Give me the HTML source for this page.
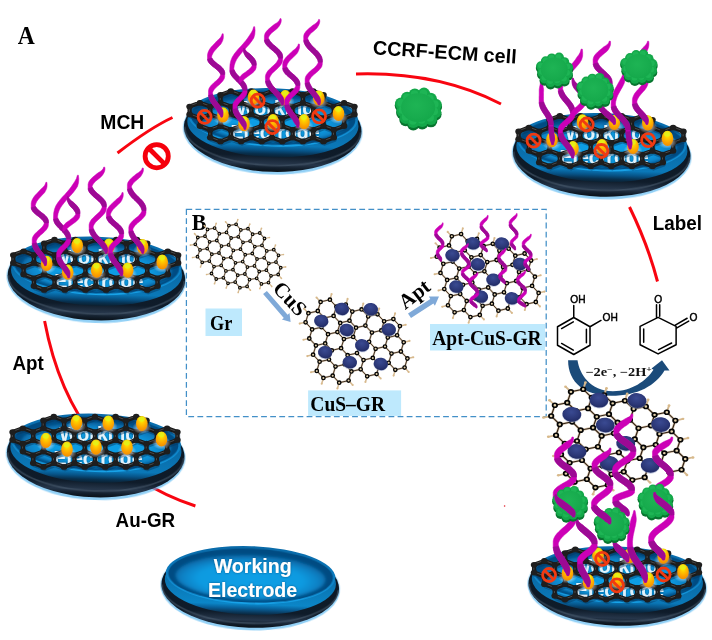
<!DOCTYPE html>
<html><head><meta charset="utf-8"><title>Figure</title>
<style>html,body{margin:0;padding:0;background:#fff}svg{display:block;will-change:transform}</style>
</head><body>
<svg width="712" height="640" viewBox="0 0 712 640">
<defs>
<radialGradient id="gTop" cx="0.5" cy="0.55" r="0.5">
  <stop offset="0" stop-color="#0d9be0"/>
  <stop offset="0.66" stop-color="#0b92d8"/>
  <stop offset="0.82" stop-color="#0a78ba"/>
  <stop offset="0.93" stop-color="#085a92"/>
  <stop offset="1" stop-color="#07487a"/>
</radialGradient>
<linearGradient id="gLip" x1="0" y1="0" x2="0" y2="1">
  <stop offset="0" stop-color="#0a6aa8"/>
  <stop offset="0.5" stop-color="#0b7cc0"/>
  <stop offset="1" stop-color="#18a4ea"/>
</linearGradient>
<radialGradient id="gFloor" cx="0.5" cy="0.55" r="0.5">
  <stop offset="0" stop-color="#0f9fe6"/>
  <stop offset="0.7" stop-color="#0d9ae0"/>
  <stop offset="0.9" stop-color="#0a82c6"/>
  <stop offset="1" stop-color="#0a70b0"/>
</radialGradient>
<filter id="fTxt" x="-10%" y="-20%" width="120%" height="140%">
  <feGaussianBlur in="SourceAlpha" stdDeviation="0.9" result="b"/>
  <feFlood flood-color="#06406c" flood-opacity="0.75"/>
  <feComposite in2="b" operator="in" result="s"/>
  <feMerge><feMergeNode in="s"/><feMergeNode in="SourceGraphic"/></feMerge>
</filter>
<linearGradient id="gTopL" x1="0" y1="0" x2="0" y2="1">
  <stop offset="0" stop-color="#084f86"/>
  <stop offset="0.2" stop-color="#0a6cae"/>
  <stop offset="0.55" stop-color="#0c8fd4"/>
  <stop offset="0.9" stop-color="#12a2ea"/>
  <stop offset="1" stop-color="#1aa8ee"/>
</linearGradient>
<linearGradient id="gWall" x1="0" y1="0" x2="0" y2="1">
  <stop offset="0" stop-color="#08588e"/>
  <stop offset="0.84" stop-color="#0b86c8"/>
  <stop offset="0.90" stop-color="#08609a"/>
  <stop offset="0.96" stop-color="#0a3a5e"/>
  <stop offset="1" stop-color="#0c2438"/>
</linearGradient>
<linearGradient id="gWall2" x1="0" y1="0" x2="0" y2="1">
  <stop offset="0" stop-color="#08588e"/>
  <stop offset="0.82" stop-color="#0a78b8"/>
  <stop offset="0.89" stop-color="#075488"/>
  <stop offset="0.95" stop-color="#08304e"/>
  <stop offset="1" stop-color="#0c2030"/>
</linearGradient>
<linearGradient id="gRim" x1="0" y1="0" x2="0" y2="1">
  <stop offset="0" stop-color="#0c1824"/>
  <stop offset="0.72" stop-color="#0f1c2a"/>
  <stop offset="0.86" stop-color="#26364a"/>
  <stop offset="0.94" stop-color="#121e2b"/>
  <stop offset="1" stop-color="#0a1118"/>
</linearGradient>
<radialGradient id="gGold" cx="0.5" cy="0.28" r="0.8">
  <stop offset="0" stop-color="#fff400"/>
  <stop offset="0.3" stop-color="#ffc800"/>
  <stop offset="0.65" stop-color="#fca000"/>
  <stop offset="1" stop-color="#ea8600"/>
</radialGradient>
<radialGradient id="gGlow" cx="0.5" cy="0.5" r="0.5">
  <stop offset="0" stop-color="#ffffff" stop-opacity="0.9"/>
  <stop offset="1" stop-color="#ffffff" stop-opacity="0"/>
</radialGradient>
<radialGradient id="gCus" cx="0.45" cy="0.35" r="0.7">
  <stop offset="0" stop-color="#3a4a92"/>
  <stop offset="0.6" stop-color="#2c3878"/>
  <stop offset="1" stop-color="#1e2860"/>
</radialGradient>
<radialGradient id="gCell" cx="0.45" cy="0.42" r="0.6">
  <stop offset="0" stop-color="#1eb454"/>
  <stop offset="0.7" stop-color="#18ac4e"/>
  <stop offset="1" stop-color="#14a84a"/>
</radialGradient>
<filter id="fBlur2" x="-20%" y="-20%" width="140%" height="140%"><feGaussianBlur stdDeviation="1.6"/></filter>
<filter id="fBlur1" x="-20%" y="-20%" width="140%" height="140%"><feGaussianBlur stdDeviation="0.7"/></filter>
</defs>
<rect width="712" height="640" fill="#fff"/>
<path d="M44.6 321 Q72 466 195.4 506" stroke="#f80510" stroke-width="3.0" fill="none" stroke-linecap="butt"/><path d="M117.5 153 Q150 128 172.5 117.5" stroke="#f80510" stroke-width="3.0" fill="none" stroke-linecap="butt"/><path d="M356 74 Q438 71.5 501 104" stroke="#f80510" stroke-width="3.0" fill="none" stroke-linecap="butt"/><path d="M629.5 207 Q648 245 657.5 281.5" stroke="#f80510" stroke-width="3.0" fill="none" stroke-linecap="butt"/><g transform="translate(250.5 578.3) rotate(1.9) scale(1 1.03)"><path d="M-84 -6 A89.8 41.800000000000004 0 1 0 84 -6 Z" fill="#58b8f2" opacity="0.65" filter="url(#fBlur1)"/><path d="M-83.4 -6 A88.8 40.2 0 1 0 83.4 -6 Z" fill="url(#gRim)"/><path d="M-88 9 A88 34.5 0 0 0 88 9" fill="none" stroke="#506274" stroke-width="1.6" opacity="0.55" filter="url(#fBlur1)"/><ellipse cx="0" cy="3.2" rx="85.6" ry="32.4" fill="url(#gWall)"/><ellipse cx="0" cy="-3" rx="84.8" ry="28.2" fill="url(#gLip)"/><ellipse cx="0" cy="-2.6" rx="82.3" ry="26.2" fill="#064c82" filter="url(#fBlur1)"/><ellipse cx="0" cy="-0.8" rx="75" ry="21.6" fill="url(#gFloor)" filter="url(#fBlur2)"/></g><g font-family="'Liberation Sans', Arial, sans-serif" font-weight="bold" font-size="19.6" fill="#fff" text-anchor="middle" opacity="1.0" filter="url(#fTxt)"><text x="252.7" y="572.5">Working</text><text x="252.6" y="596.5">Electrode</text></g><g transform="translate(96 446.0) rotate(1.9) scale(1 1.035)"><path d="M-84 -6 A89.8 43.0 0 1 0 84 -6 Z" fill="#58b8f2" opacity="0.65" filter="url(#fBlur1)"/><path d="M-83.4 -6 A88.8 41.4 0 1 0 83.4 -6 Z" fill="url(#gRim)"/><path d="M-88 9 A88 34.5 0 0 0 88 9" fill="none" stroke="#506274" stroke-width="1.6" opacity="0.55" filter="url(#fBlur1)"/><ellipse cx="0" cy="3.2" rx="85.6" ry="32.4" fill="url(#gWall2)"/><ellipse cx="0" cy="-3" rx="84.8" ry="28.2" fill="url(#gLip)"/><ellipse cx="0" cy="-2.6" rx="82.3" ry="26.2" fill="#064c82" filter="url(#fBlur1)"/><ellipse cx="0" cy="-0.8" rx="75" ry="21.6" fill="url(#gFloor)" filter="url(#fBlur2)"/></g><g font-family="'Liberation Sans', Arial, sans-serif" font-weight="bold" font-size="19.6" fill="#fff" text-anchor="middle" opacity="0.88" filter="url(#fTxt)"><text x="98.2" y="440.8">Working</text><text x="98.1" y="464.8">Electrode</text></g><g transform="translate(96 445)"><path d="M-83.4 -12.9L-83.4 -5.1M-83.4 -12.9L-73.1 -16.7M-83.4 -5.1L-73.1 -1.3M-73.1 -16.7L-62.8 -12.9M-73.1 -1.3L-73.1 6.5M-73.1 -1.3L-62.8 -5.1M-73.1 6.5L-62.8 10.3M-62.8 -12.9L-62.8 -5.1M-62.8 -12.9L-52.5 -16.7M-62.8 -5.1L-52.5 -1.3M-62.8 10.3L-62.8 18.1M-62.8 10.3L-52.5 6.5M-62.8 18.1L-52.5 21.9M-52.5 -24.5L-52.5 -16.7M-52.5 -24.5L-42.2 -28.3M-52.5 -16.7L-42.2 -12.9M-52.5 -1.3L-52.5 6.5M-52.5 -1.3L-42.2 -5.1M-52.5 6.5L-42.2 10.3M-52.5 21.9L-42.2 18.1M-42.2 -28.3L-31.9 -24.5M-42.2 -12.9L-42.2 -5.1M-42.2 -12.9L-31.9 -16.7M-42.2 -5.1L-31.9 -1.3M-42.2 10.3L-42.2 18.1M-42.2 10.3L-31.9 6.5M-42.2 18.1L-31.9 21.9M-31.9 -24.5L-31.9 -16.7M-31.9 -24.5L-21.6 -28.3M-31.9 -16.7L-21.6 -12.9M-31.9 -1.3L-31.9 6.5M-31.9 -1.3L-21.6 -5.1M-31.9 6.5L-21.6 10.3M-31.9 21.9L-21.6 18.1M-21.6 -28.3L-11.3 -24.5M-21.6 -12.9L-21.6 -5.1M-21.6 -12.9L-11.3 -16.7M-21.6 -5.1L-11.3 -1.3M-21.6 10.3L-21.6 18.1M-21.6 10.3L-11.3 6.5M-21.6 18.1L-11.3 21.9M-11.3 -24.5L-11.3 -16.7M-11.3 -24.5L-1.0 -28.3M-11.3 -16.7L-1.0 -12.9M-11.3 -1.3L-11.3 6.5M-11.3 -1.3L-1.0 -5.1M-11.3 6.5L-1.0 10.3M-11.3 21.9L-1.0 18.1M-1.0 -28.3L9.3 -24.5M-1.0 -12.9L-1.0 -5.1M-1.0 -12.9L9.3 -16.7M-1.0 -5.1L9.3 -1.3M-1.0 10.3L-1.0 18.1M-1.0 10.3L9.3 6.5M-1.0 18.1L9.3 21.9M9.3 -24.5L9.3 -16.7M9.3 -24.5L19.6 -28.3M9.3 -16.7L19.6 -12.9M9.3 -1.3L9.3 6.5M9.3 -1.3L19.6 -5.1M9.3 6.5L19.6 10.3M9.3 21.9L19.6 18.1M19.6 -28.3L29.9 -24.5M19.6 -12.9L19.6 -5.1M19.6 -12.9L29.9 -16.7M19.6 -5.1L29.9 -1.3M19.6 10.3L19.6 18.1M19.6 10.3L29.9 6.5M19.6 18.1L29.9 21.9M29.9 -24.5L29.9 -16.7M29.9 -24.5L40.2 -28.3M29.9 -16.7L40.2 -12.9M29.9 -1.3L29.9 6.5M29.9 -1.3L40.2 -5.1M29.9 6.5L40.2 10.3M29.9 21.9L40.2 18.1M40.2 -28.3L50.5 -24.5M40.2 -12.9L40.2 -5.1M40.2 -12.9L50.5 -16.7M40.2 -5.1L50.5 -1.3M40.2 10.3L40.2 18.1M40.2 10.3L50.5 6.5M40.2 18.1L50.5 21.9M50.5 -24.5L50.5 -16.7M50.5 -16.7L60.8 -12.9M50.5 -1.3L50.5 6.5M50.5 -1.3L60.8 -5.1M50.5 6.5L60.8 10.3M50.5 21.9L60.8 18.1M60.8 -12.9L60.8 -5.1M60.8 -12.9L71.1 -16.7M60.8 -5.1L71.1 -1.3M60.8 10.3L60.8 18.1M60.8 10.3L71.1 6.5M71.1 -16.7L81.4 -12.9M71.1 -1.3L71.1 6.5M71.1 -1.3L81.4 -5.1M81.4 -12.9L81.4 -5.1" stroke="#05365e" stroke-width="3.6" stroke-linecap="round" fill="none" opacity="0.45" transform="translate(1 2.4)"/><path d="M-83.4 -12.9L-83.4 -5.1M-83.4 -12.9L-73.1 -16.7M-83.4 -5.1L-73.1 -1.3M-73.1 -16.7L-62.8 -12.9M-73.1 -1.3L-73.1 6.5M-73.1 -1.3L-62.8 -5.1M-73.1 6.5L-62.8 10.3M-62.8 -12.9L-62.8 -5.1M-62.8 -12.9L-52.5 -16.7M-62.8 -5.1L-52.5 -1.3M-62.8 10.3L-62.8 18.1M-62.8 10.3L-52.5 6.5M-62.8 18.1L-52.5 21.9M-52.5 -24.5L-52.5 -16.7M-52.5 -24.5L-42.2 -28.3M-52.5 -16.7L-42.2 -12.9M-52.5 -1.3L-52.5 6.5M-52.5 -1.3L-42.2 -5.1M-52.5 6.5L-42.2 10.3M-52.5 21.9L-42.2 18.1M-42.2 -28.3L-31.9 -24.5M-42.2 -12.9L-42.2 -5.1M-42.2 -12.9L-31.9 -16.7M-42.2 -5.1L-31.9 -1.3M-42.2 10.3L-42.2 18.1M-42.2 10.3L-31.9 6.5M-42.2 18.1L-31.9 21.9M-31.9 -24.5L-31.9 -16.7M-31.9 -24.5L-21.6 -28.3M-31.9 -16.7L-21.6 -12.9M-31.9 -1.3L-31.9 6.5M-31.9 -1.3L-21.6 -5.1M-31.9 6.5L-21.6 10.3M-31.9 21.9L-21.6 18.1M-21.6 -28.3L-11.3 -24.5M-21.6 -12.9L-21.6 -5.1M-21.6 -12.9L-11.3 -16.7M-21.6 -5.1L-11.3 -1.3M-21.6 10.3L-21.6 18.1M-21.6 10.3L-11.3 6.5M-21.6 18.1L-11.3 21.9M-11.3 -24.5L-11.3 -16.7M-11.3 -24.5L-1.0 -28.3M-11.3 -16.7L-1.0 -12.9M-11.3 -1.3L-11.3 6.5M-11.3 -1.3L-1.0 -5.1M-11.3 6.5L-1.0 10.3M-11.3 21.9L-1.0 18.1M-1.0 -28.3L9.3 -24.5M-1.0 -12.9L-1.0 -5.1M-1.0 -12.9L9.3 -16.7M-1.0 -5.1L9.3 -1.3M-1.0 10.3L-1.0 18.1M-1.0 10.3L9.3 6.5M-1.0 18.1L9.3 21.9M9.3 -24.5L9.3 -16.7M9.3 -24.5L19.6 -28.3M9.3 -16.7L19.6 -12.9M9.3 -1.3L9.3 6.5M9.3 -1.3L19.6 -5.1M9.3 6.5L19.6 10.3M9.3 21.9L19.6 18.1M19.6 -28.3L29.9 -24.5M19.6 -12.9L19.6 -5.1M19.6 -12.9L29.9 -16.7M19.6 -5.1L29.9 -1.3M19.6 10.3L19.6 18.1M19.6 10.3L29.9 6.5M19.6 18.1L29.9 21.9M29.9 -24.5L29.9 -16.7M29.9 -24.5L40.2 -28.3M29.9 -16.7L40.2 -12.9M29.9 -1.3L29.9 6.5M29.9 -1.3L40.2 -5.1M29.9 6.5L40.2 10.3M29.9 21.9L40.2 18.1M40.2 -28.3L50.5 -24.5M40.2 -12.9L40.2 -5.1M40.2 -12.9L50.5 -16.7M40.2 -5.1L50.5 -1.3M40.2 10.3L40.2 18.1M40.2 10.3L50.5 6.5M40.2 18.1L50.5 21.9M50.5 -24.5L50.5 -16.7M50.5 -16.7L60.8 -12.9M50.5 -1.3L50.5 6.5M50.5 -1.3L60.8 -5.1M50.5 6.5L60.8 10.3M50.5 21.9L60.8 18.1M60.8 -12.9L60.8 -5.1M60.8 -12.9L71.1 -16.7M60.8 -5.1L71.1 -1.3M60.8 10.3L60.8 18.1M60.8 10.3L71.1 6.5M71.1 -16.7L81.4 -12.9M71.1 -1.3L71.1 6.5M71.1 -1.3L81.4 -5.1M81.4 -12.9L81.4 -5.1" stroke="#1a1a1a" stroke-width="4.3" stroke-linecap="round" fill="none"/><path d="M-83.4 -12.9L-83.4 -5.1M-83.4 -12.9L-73.1 -16.7M-83.4 -5.1L-73.1 -1.3M-73.1 -16.7L-62.8 -12.9M-73.1 -1.3L-73.1 6.5M-73.1 -1.3L-62.8 -5.1M-73.1 6.5L-62.8 10.3M-62.8 -12.9L-62.8 -5.1M-62.8 -12.9L-52.5 -16.7M-62.8 -5.1L-52.5 -1.3M-62.8 10.3L-62.8 18.1M-62.8 10.3L-52.5 6.5M-62.8 18.1L-52.5 21.9M-52.5 -24.5L-52.5 -16.7M-52.5 -24.5L-42.2 -28.3M-52.5 -16.7L-42.2 -12.9M-52.5 -1.3L-52.5 6.5M-52.5 -1.3L-42.2 -5.1M-52.5 6.5L-42.2 10.3M-52.5 21.9L-42.2 18.1M-42.2 -28.3L-31.9 -24.5M-42.2 -12.9L-42.2 -5.1M-42.2 -12.9L-31.9 -16.7M-42.2 -5.1L-31.9 -1.3M-42.2 10.3L-42.2 18.1M-42.2 10.3L-31.9 6.5M-42.2 18.1L-31.9 21.9M-31.9 -24.5L-31.9 -16.7M-31.9 -24.5L-21.6 -28.3M-31.9 -16.7L-21.6 -12.9M-31.9 -1.3L-31.9 6.5M-31.9 -1.3L-21.6 -5.1M-31.9 6.5L-21.6 10.3M-31.9 21.9L-21.6 18.1M-21.6 -28.3L-11.3 -24.5M-21.6 -12.9L-21.6 -5.1M-21.6 -12.9L-11.3 -16.7M-21.6 -5.1L-11.3 -1.3M-21.6 10.3L-21.6 18.1M-21.6 10.3L-11.3 6.5M-21.6 18.1L-11.3 21.9M-11.3 -24.5L-11.3 -16.7M-11.3 -24.5L-1.0 -28.3M-11.3 -16.7L-1.0 -12.9M-11.3 -1.3L-11.3 6.5M-11.3 -1.3L-1.0 -5.1M-11.3 6.5L-1.0 10.3M-11.3 21.9L-1.0 18.1M-1.0 -28.3L9.3 -24.5M-1.0 -12.9L-1.0 -5.1M-1.0 -12.9L9.3 -16.7M-1.0 -5.1L9.3 -1.3M-1.0 10.3L-1.0 18.1M-1.0 10.3L9.3 6.5M-1.0 18.1L9.3 21.9M9.3 -24.5L9.3 -16.7M9.3 -24.5L19.6 -28.3M9.3 -16.7L19.6 -12.9M9.3 -1.3L9.3 6.5M9.3 -1.3L19.6 -5.1M9.3 6.5L19.6 10.3M9.3 21.9L19.6 18.1M19.6 -28.3L29.9 -24.5M19.6 -12.9L19.6 -5.1M19.6 -12.9L29.9 -16.7M19.6 -5.1L29.9 -1.3M19.6 10.3L19.6 18.1M19.6 10.3L29.9 6.5M19.6 18.1L29.9 21.9M29.9 -24.5L29.9 -16.7M29.9 -24.5L40.2 -28.3M29.9 -16.7L40.2 -12.9M29.9 -1.3L29.9 6.5M29.9 -1.3L40.2 -5.1M29.9 6.5L40.2 10.3M29.9 21.9L40.2 18.1M40.2 -28.3L50.5 -24.5M40.2 -12.9L40.2 -5.1M40.2 -12.9L50.5 -16.7M40.2 -5.1L50.5 -1.3M40.2 10.3L40.2 18.1M40.2 10.3L50.5 6.5M40.2 18.1L50.5 21.9M50.5 -24.5L50.5 -16.7M50.5 -16.7L60.8 -12.9M50.5 -1.3L50.5 6.5M50.5 -1.3L60.8 -5.1M50.5 6.5L60.8 10.3M50.5 21.9L60.8 18.1M60.8 -12.9L60.8 -5.1M60.8 -12.9L71.1 -16.7M60.8 -5.1L71.1 -1.3M60.8 10.3L60.8 18.1M60.8 10.3L71.1 6.5M71.1 -16.7L81.4 -12.9M71.1 -1.3L71.1 6.5M71.1 -1.3L81.4 -5.1M81.4 -12.9L81.4 -5.1" stroke="#505050" stroke-width="0.9" stroke-linecap="round" fill="none" transform="translate(-0.3 -0.6)"/><ellipse cx="-83.4" cy="-12.9" rx="3.3" ry="2.9" fill="#1e1e1e"/><ellipse cx="-83.4" cy="-5.1" rx="3.3" ry="2.9" fill="#1e1e1e"/><ellipse cx="-73.1" cy="-16.7" rx="3.3" ry="2.9" fill="#1e1e1e"/><ellipse cx="-73.1" cy="-1.3" rx="3.3" ry="2.9" fill="#1e1e1e"/><ellipse cx="-73.1" cy="6.5" rx="3.3" ry="2.9" fill="#1e1e1e"/><ellipse cx="-62.8" cy="-12.9" rx="3.3" ry="2.9" fill="#1e1e1e"/><ellipse cx="-62.8" cy="-5.1" rx="3.3" ry="2.9" fill="#1e1e1e"/><ellipse cx="-62.8" cy="10.3" rx="3.3" ry="2.9" fill="#1e1e1e"/><ellipse cx="-62.8" cy="18.1" rx="3.3" ry="2.9" fill="#1e1e1e"/><ellipse cx="-52.5" cy="-24.5" rx="3.3" ry="2.9" fill="#1e1e1e"/><ellipse cx="-52.5" cy="-16.7" rx="3.3" ry="2.9" fill="#1e1e1e"/><ellipse cx="-52.5" cy="-1.3" rx="3.3" ry="2.9" fill="#1e1e1e"/><ellipse cx="-52.5" cy="6.5" rx="3.3" ry="2.9" fill="#1e1e1e"/><ellipse cx="-52.5" cy="21.9" rx="3.3" ry="2.9" fill="#1e1e1e"/><ellipse cx="-42.2" cy="-28.3" rx="3.3" ry="2.9" fill="#1e1e1e"/><ellipse cx="-42.2" cy="-12.9" rx="3.3" ry="2.9" fill="#1e1e1e"/><ellipse cx="-42.2" cy="-5.1" rx="3.3" ry="2.9" fill="#1e1e1e"/><ellipse cx="-42.2" cy="10.3" rx="3.3" ry="2.9" fill="#1e1e1e"/><ellipse cx="-42.2" cy="18.1" rx="3.3" ry="2.9" fill="#1e1e1e"/><ellipse cx="-31.9" cy="-24.5" rx="3.3" ry="2.9" fill="#1e1e1e"/><ellipse cx="-31.9" cy="-16.7" rx="3.3" ry="2.9" fill="#1e1e1e"/><ellipse cx="-31.9" cy="-1.3" rx="3.3" ry="2.9" fill="#1e1e1e"/><ellipse cx="-31.9" cy="6.5" rx="3.3" ry="2.9" fill="#1e1e1e"/><ellipse cx="-31.9" cy="21.9" rx="3.3" ry="2.9" fill="#1e1e1e"/><ellipse cx="-21.6" cy="-28.3" rx="3.3" ry="2.9" fill="#1e1e1e"/><ellipse cx="-21.6" cy="-12.9" rx="3.3" ry="2.9" fill="#1e1e1e"/><ellipse cx="-21.6" cy="-5.1" rx="3.3" ry="2.9" fill="#1e1e1e"/><ellipse cx="-21.6" cy="10.3" rx="3.3" ry="2.9" fill="#1e1e1e"/><ellipse cx="-21.6" cy="18.1" rx="3.3" ry="2.9" fill="#1e1e1e"/><ellipse cx="-11.3" cy="-24.5" rx="3.3" ry="2.9" fill="#1e1e1e"/><ellipse cx="-11.3" cy="-16.7" rx="3.3" ry="2.9" fill="#1e1e1e"/><ellipse cx="-11.3" cy="-1.3" rx="3.3" ry="2.9" fill="#1e1e1e"/><ellipse cx="-11.3" cy="6.5" rx="3.3" ry="2.9" fill="#1e1e1e"/><ellipse cx="-11.3" cy="21.9" rx="3.3" ry="2.9" fill="#1e1e1e"/><ellipse cx="-1.0" cy="-28.3" rx="3.3" ry="2.9" fill="#1e1e1e"/><ellipse cx="-1.0" cy="-12.9" rx="3.3" ry="2.9" fill="#1e1e1e"/><ellipse cx="-1.0" cy="-5.1" rx="3.3" ry="2.9" fill="#1e1e1e"/><ellipse cx="-1.0" cy="10.3" rx="3.3" ry="2.9" fill="#1e1e1e"/><ellipse cx="-1.0" cy="18.1" rx="3.3" ry="2.9" fill="#1e1e1e"/><ellipse cx="9.3" cy="-24.5" rx="3.3" ry="2.9" fill="#1e1e1e"/><ellipse cx="9.3" cy="-16.7" rx="3.3" ry="2.9" fill="#1e1e1e"/><ellipse cx="9.3" cy="-1.3" rx="3.3" ry="2.9" fill="#1e1e1e"/><ellipse cx="9.3" cy="6.5" rx="3.3" ry="2.9" fill="#1e1e1e"/><ellipse cx="9.3" cy="21.9" rx="3.3" ry="2.9" fill="#1e1e1e"/><ellipse cx="19.6" cy="-28.3" rx="3.3" ry="2.9" fill="#1e1e1e"/><ellipse cx="19.6" cy="-12.9" rx="3.3" ry="2.9" fill="#1e1e1e"/><ellipse cx="19.6" cy="-5.1" rx="3.3" ry="2.9" fill="#1e1e1e"/><ellipse cx="19.6" cy="10.3" rx="3.3" ry="2.9" fill="#1e1e1e"/><ellipse cx="19.6" cy="18.1" rx="3.3" ry="2.9" fill="#1e1e1e"/><ellipse cx="29.9" cy="-24.5" rx="3.3" ry="2.9" fill="#1e1e1e"/><ellipse cx="29.9" cy="-16.7" rx="3.3" ry="2.9" fill="#1e1e1e"/><ellipse cx="29.9" cy="-1.3" rx="3.3" ry="2.9" fill="#1e1e1e"/><ellipse cx="29.9" cy="6.5" rx="3.3" ry="2.9" fill="#1e1e1e"/><ellipse cx="29.9" cy="21.9" rx="3.3" ry="2.9" fill="#1e1e1e"/><ellipse cx="40.2" cy="-28.3" rx="3.3" ry="2.9" fill="#1e1e1e"/><ellipse cx="40.2" cy="-12.9" rx="3.3" ry="2.9" fill="#1e1e1e"/><ellipse cx="40.2" cy="-5.1" rx="3.3" ry="2.9" fill="#1e1e1e"/><ellipse cx="40.2" cy="10.3" rx="3.3" ry="2.9" fill="#1e1e1e"/><ellipse cx="40.2" cy="18.1" rx="3.3" ry="2.9" fill="#1e1e1e"/><ellipse cx="50.5" cy="-24.5" rx="3.3" ry="2.9" fill="#1e1e1e"/><ellipse cx="50.5" cy="-16.7" rx="3.3" ry="2.9" fill="#1e1e1e"/><ellipse cx="50.5" cy="-1.3" rx="3.3" ry="2.9" fill="#1e1e1e"/><ellipse cx="50.5" cy="6.5" rx="3.3" ry="2.9" fill="#1e1e1e"/><ellipse cx="50.5" cy="21.9" rx="3.3" ry="2.9" fill="#1e1e1e"/><ellipse cx="60.8" cy="-12.9" rx="3.3" ry="2.9" fill="#1e1e1e"/><ellipse cx="60.8" cy="-5.1" rx="3.3" ry="2.9" fill="#1e1e1e"/><ellipse cx="60.8" cy="10.3" rx="3.3" ry="2.9" fill="#1e1e1e"/><ellipse cx="60.8" cy="18.1" rx="3.3" ry="2.9" fill="#1e1e1e"/><ellipse cx="71.1" cy="-16.7" rx="3.3" ry="2.9" fill="#1e1e1e"/><ellipse cx="71.1" cy="-1.3" rx="3.3" ry="2.9" fill="#1e1e1e"/><ellipse cx="71.1" cy="6.5" rx="3.3" ry="2.9" fill="#1e1e1e"/><ellipse cx="81.4" cy="-12.9" rx="3.3" ry="2.9" fill="#1e1e1e"/><ellipse cx="81.4" cy="-5.1" rx="3.3" ry="2.9" fill="#1e1e1e"/></g><ellipse cx="76.5" cy="426.5" rx="9.5" ry="6.5" fill="url(#gGlow)"/><ellipse cx="76.5" cy="422.5" rx="5.8" ry="7.6" fill="url(#gGold)"/><ellipse cx="76.2" cy="418.1" rx="3.2" ry="2.6" fill="#e2f21a" opacity="0.85"/><ellipse cx="108.3" cy="427" rx="9.5" ry="6.5" fill="url(#gGlow)"/><ellipse cx="108.3" cy="423" rx="5.8" ry="7.6" fill="url(#gGold)"/><ellipse cx="108.0" cy="418.6" rx="3.2" ry="2.6" fill="#e2f21a" opacity="0.85"/><ellipse cx="141.8" cy="427.5" rx="9.5" ry="6.5" fill="url(#gGlow)"/><ellipse cx="141.8" cy="423.5" rx="5.8" ry="7.6" fill="url(#gGold)"/><ellipse cx="141.5" cy="419.1" rx="3.2" ry="2.6" fill="#e2f21a" opacity="0.85"/><ellipse cx="46" cy="444.4" rx="9.5" ry="6.5" fill="url(#gGlow)"/><ellipse cx="46" cy="440.4" rx="5.8" ry="7.6" fill="url(#gGold)"/><ellipse cx="45.7" cy="436.0" rx="3.2" ry="2.6" fill="#e2f21a" opacity="0.85"/><ellipse cx="67" cy="453.2" rx="9.5" ry="6.5" fill="url(#gGlow)"/><ellipse cx="67" cy="449.2" rx="5.8" ry="7.6" fill="url(#gGold)"/><ellipse cx="66.7" cy="444.8" rx="3.2" ry="2.6" fill="#e2f21a" opacity="0.85"/><ellipse cx="96" cy="451.2" rx="9.5" ry="6.5" fill="url(#gGlow)"/><ellipse cx="96" cy="447.2" rx="5.8" ry="7.6" fill="url(#gGold)"/><ellipse cx="95.7" cy="442.8" rx="3.2" ry="2.6" fill="#e2f21a" opacity="0.85"/><ellipse cx="127" cy="451.2" rx="9.5" ry="6.5" fill="url(#gGlow)"/><ellipse cx="127" cy="447.2" rx="5.8" ry="7.6" fill="url(#gGold)"/><ellipse cx="126.7" cy="442.8" rx="3.2" ry="2.6" fill="#e2f21a" opacity="0.85"/><ellipse cx="161.5" cy="443" rx="9.5" ry="6.5" fill="url(#gGlow)"/><ellipse cx="161.5" cy="439" rx="5.8" ry="7.6" fill="url(#gGold)"/><ellipse cx="161.2" cy="434.6" rx="3.2" ry="2.6" fill="#e2f21a" opacity="0.85"/><g transform="translate(96.7 269.0) rotate(1.9) scale(1 1.035)"><path d="M-84 -6 A89.8 43.0 0 1 0 84 -6 Z" fill="#58b8f2" opacity="0.65" filter="url(#fBlur1)"/><path d="M-83.4 -6 A88.8 41.4 0 1 0 83.4 -6 Z" fill="url(#gRim)"/><path d="M-88 9 A88 34.5 0 0 0 88 9" fill="none" stroke="#506274" stroke-width="1.6" opacity="0.55" filter="url(#fBlur1)"/><ellipse cx="0" cy="3.2" rx="85.6" ry="32.4" fill="url(#gWall2)"/><ellipse cx="0" cy="-3" rx="84.8" ry="28.2" fill="url(#gLip)"/><ellipse cx="0" cy="-2.6" rx="82.3" ry="26.2" fill="#064c82" filter="url(#fBlur1)"/><ellipse cx="0" cy="-0.8" rx="75" ry="21.6" fill="url(#gFloor)" filter="url(#fBlur2)"/></g><g font-family="'Liberation Sans', Arial, sans-serif" font-weight="bold" font-size="19.6" fill="#fff" text-anchor="middle" opacity="0.88" filter="url(#fTxt)"><text x="98.9" y="263.8">Working</text><text x="98.8" y="287.8">Electrode</text></g><g transform="translate(96.7 268)"><path d="M-83.4 -12.9L-83.4 -5.1M-83.4 -12.9L-73.1 -16.7M-83.4 -5.1L-73.1 -1.3M-73.1 -16.7L-62.8 -12.9M-73.1 -1.3L-73.1 6.5M-73.1 -1.3L-62.8 -5.1M-73.1 6.5L-62.8 10.3M-62.8 -12.9L-62.8 -5.1M-62.8 -12.9L-52.5 -16.7M-62.8 -5.1L-52.5 -1.3M-62.8 10.3L-62.8 18.1M-62.8 10.3L-52.5 6.5M-62.8 18.1L-52.5 21.9M-52.5 -24.5L-52.5 -16.7M-52.5 -24.5L-42.2 -28.3M-52.5 -16.7L-42.2 -12.9M-52.5 -1.3L-52.5 6.5M-52.5 -1.3L-42.2 -5.1M-52.5 6.5L-42.2 10.3M-52.5 21.9L-42.2 18.1M-42.2 -28.3L-31.9 -24.5M-42.2 -12.9L-42.2 -5.1M-42.2 -12.9L-31.9 -16.7M-42.2 -5.1L-31.9 -1.3M-42.2 10.3L-42.2 18.1M-42.2 10.3L-31.9 6.5M-42.2 18.1L-31.9 21.9M-31.9 -24.5L-31.9 -16.7M-31.9 -24.5L-21.6 -28.3M-31.9 -16.7L-21.6 -12.9M-31.9 -1.3L-31.9 6.5M-31.9 -1.3L-21.6 -5.1M-31.9 6.5L-21.6 10.3M-31.9 21.9L-21.6 18.1M-21.6 -28.3L-11.3 -24.5M-21.6 -12.9L-21.6 -5.1M-21.6 -12.9L-11.3 -16.7M-21.6 -5.1L-11.3 -1.3M-21.6 10.3L-21.6 18.1M-21.6 10.3L-11.3 6.5M-21.6 18.1L-11.3 21.9M-11.3 -24.5L-11.3 -16.7M-11.3 -24.5L-1.0 -28.3M-11.3 -16.7L-1.0 -12.9M-11.3 -1.3L-11.3 6.5M-11.3 -1.3L-1.0 -5.1M-11.3 6.5L-1.0 10.3M-11.3 21.9L-1.0 18.1M-1.0 -28.3L9.3 -24.5M-1.0 -12.9L-1.0 -5.1M-1.0 -12.9L9.3 -16.7M-1.0 -5.1L9.3 -1.3M-1.0 10.3L-1.0 18.1M-1.0 10.3L9.3 6.5M-1.0 18.1L9.3 21.9M9.3 -24.5L9.3 -16.7M9.3 -24.5L19.6 -28.3M9.3 -16.7L19.6 -12.9M9.3 -1.3L9.3 6.5M9.3 -1.3L19.6 -5.1M9.3 6.5L19.6 10.3M9.3 21.9L19.6 18.1M19.6 -28.3L29.9 -24.5M19.6 -12.9L19.6 -5.1M19.6 -12.9L29.9 -16.7M19.6 -5.1L29.9 -1.3M19.6 10.3L19.6 18.1M19.6 10.3L29.9 6.5M19.6 18.1L29.9 21.9M29.9 -24.5L29.9 -16.7M29.9 -24.5L40.2 -28.3M29.9 -16.7L40.2 -12.9M29.9 -1.3L29.9 6.5M29.9 -1.3L40.2 -5.1M29.9 6.5L40.2 10.3M29.9 21.9L40.2 18.1M40.2 -28.3L50.5 -24.5M40.2 -12.9L40.2 -5.1M40.2 -12.9L50.5 -16.7M40.2 -5.1L50.5 -1.3M40.2 10.3L40.2 18.1M40.2 10.3L50.5 6.5M40.2 18.1L50.5 21.9M50.5 -24.5L50.5 -16.7M50.5 -16.7L60.8 -12.9M50.5 -1.3L50.5 6.5M50.5 -1.3L60.8 -5.1M50.5 6.5L60.8 10.3M50.5 21.9L60.8 18.1M60.8 -12.9L60.8 -5.1M60.8 -12.9L71.1 -16.7M60.8 -5.1L71.1 -1.3M60.8 10.3L60.8 18.1M60.8 10.3L71.1 6.5M71.1 -16.7L81.4 -12.9M71.1 -1.3L71.1 6.5M71.1 -1.3L81.4 -5.1M81.4 -12.9L81.4 -5.1" stroke="#05365e" stroke-width="3.6" stroke-linecap="round" fill="none" opacity="0.45" transform="translate(1 2.4)"/><path d="M-83.4 -12.9L-83.4 -5.1M-83.4 -12.9L-73.1 -16.7M-83.4 -5.1L-73.1 -1.3M-73.1 -16.7L-62.8 -12.9M-73.1 -1.3L-73.1 6.5M-73.1 -1.3L-62.8 -5.1M-73.1 6.5L-62.8 10.3M-62.8 -12.9L-62.8 -5.1M-62.8 -12.9L-52.5 -16.7M-62.8 -5.1L-52.5 -1.3M-62.8 10.3L-62.8 18.1M-62.8 10.3L-52.5 6.5M-62.8 18.1L-52.5 21.9M-52.5 -24.5L-52.5 -16.7M-52.5 -24.5L-42.2 -28.3M-52.5 -16.7L-42.2 -12.9M-52.5 -1.3L-52.5 6.5M-52.5 -1.3L-42.2 -5.1M-52.5 6.5L-42.2 10.3M-52.5 21.9L-42.2 18.1M-42.2 -28.3L-31.9 -24.5M-42.2 -12.9L-42.2 -5.1M-42.2 -12.9L-31.9 -16.7M-42.2 -5.1L-31.9 -1.3M-42.2 10.3L-42.2 18.1M-42.2 10.3L-31.9 6.5M-42.2 18.1L-31.9 21.9M-31.9 -24.5L-31.9 -16.7M-31.9 -24.5L-21.6 -28.3M-31.9 -16.7L-21.6 -12.9M-31.9 -1.3L-31.9 6.5M-31.9 -1.3L-21.6 -5.1M-31.9 6.5L-21.6 10.3M-31.9 21.9L-21.6 18.1M-21.6 -28.3L-11.3 -24.5M-21.6 -12.9L-21.6 -5.1M-21.6 -12.9L-11.3 -16.7M-21.6 -5.1L-11.3 -1.3M-21.6 10.3L-21.6 18.1M-21.6 10.3L-11.3 6.5M-21.6 18.1L-11.3 21.9M-11.3 -24.5L-11.3 -16.7M-11.3 -24.5L-1.0 -28.3M-11.3 -16.7L-1.0 -12.9M-11.3 -1.3L-11.3 6.5M-11.3 -1.3L-1.0 -5.1M-11.3 6.5L-1.0 10.3M-11.3 21.9L-1.0 18.1M-1.0 -28.3L9.3 -24.5M-1.0 -12.9L-1.0 -5.1M-1.0 -12.9L9.3 -16.7M-1.0 -5.1L9.3 -1.3M-1.0 10.3L-1.0 18.1M-1.0 10.3L9.3 6.5M-1.0 18.1L9.3 21.9M9.3 -24.5L9.3 -16.7M9.3 -24.5L19.6 -28.3M9.3 -16.7L19.6 -12.9M9.3 -1.3L9.3 6.5M9.3 -1.3L19.6 -5.1M9.3 6.5L19.6 10.3M9.3 21.9L19.6 18.1M19.6 -28.3L29.9 -24.5M19.6 -12.9L19.6 -5.1M19.6 -12.9L29.9 -16.7M19.6 -5.1L29.9 -1.3M19.6 10.3L19.6 18.1M19.6 10.3L29.9 6.5M19.6 18.1L29.9 21.9M29.9 -24.5L29.9 -16.7M29.9 -24.5L40.2 -28.3M29.9 -16.7L40.2 -12.9M29.9 -1.3L29.9 6.5M29.9 -1.3L40.2 -5.1M29.9 6.5L40.2 10.3M29.9 21.9L40.2 18.1M40.2 -28.3L50.5 -24.5M40.2 -12.9L40.2 -5.1M40.2 -12.9L50.5 -16.7M40.2 -5.1L50.5 -1.3M40.2 10.3L40.2 18.1M40.2 10.3L50.5 6.5M40.2 18.1L50.5 21.9M50.5 -24.5L50.5 -16.7M50.5 -16.7L60.8 -12.9M50.5 -1.3L50.5 6.5M50.5 -1.3L60.8 -5.1M50.5 6.5L60.8 10.3M50.5 21.9L60.8 18.1M60.8 -12.9L60.8 -5.1M60.8 -12.9L71.1 -16.7M60.8 -5.1L71.1 -1.3M60.8 10.3L60.8 18.1M60.8 10.3L71.1 6.5M71.1 -16.7L81.4 -12.9M71.1 -1.3L71.1 6.5M71.1 -1.3L81.4 -5.1M81.4 -12.9L81.4 -5.1" stroke="#1a1a1a" stroke-width="4.3" stroke-linecap="round" fill="none"/><path d="M-83.4 -12.9L-83.4 -5.1M-83.4 -12.9L-73.1 -16.7M-83.4 -5.1L-73.1 -1.3M-73.1 -16.7L-62.8 -12.9M-73.1 -1.3L-73.1 6.5M-73.1 -1.3L-62.8 -5.1M-73.1 6.5L-62.8 10.3M-62.8 -12.9L-62.8 -5.1M-62.8 -12.9L-52.5 -16.7M-62.8 -5.1L-52.5 -1.3M-62.8 10.3L-62.8 18.1M-62.8 10.3L-52.5 6.5M-62.8 18.1L-52.5 21.9M-52.5 -24.5L-52.5 -16.7M-52.5 -24.5L-42.2 -28.3M-52.5 -16.7L-42.2 -12.9M-52.5 -1.3L-52.5 6.5M-52.5 -1.3L-42.2 -5.1M-52.5 6.5L-42.2 10.3M-52.5 21.9L-42.2 18.1M-42.2 -28.3L-31.9 -24.5M-42.2 -12.9L-42.2 -5.1M-42.2 -12.9L-31.9 -16.7M-42.2 -5.1L-31.9 -1.3M-42.2 10.3L-42.2 18.1M-42.2 10.3L-31.9 6.5M-42.2 18.1L-31.9 21.9M-31.9 -24.5L-31.9 -16.7M-31.9 -24.5L-21.6 -28.3M-31.9 -16.7L-21.6 -12.9M-31.9 -1.3L-31.9 6.5M-31.9 -1.3L-21.6 -5.1M-31.9 6.5L-21.6 10.3M-31.9 21.9L-21.6 18.1M-21.6 -28.3L-11.3 -24.5M-21.6 -12.9L-21.6 -5.1M-21.6 -12.9L-11.3 -16.7M-21.6 -5.1L-11.3 -1.3M-21.6 10.3L-21.6 18.1M-21.6 10.3L-11.3 6.5M-21.6 18.1L-11.3 21.9M-11.3 -24.5L-11.3 -16.7M-11.3 -24.5L-1.0 -28.3M-11.3 -16.7L-1.0 -12.9M-11.3 -1.3L-11.3 6.5M-11.3 -1.3L-1.0 -5.1M-11.3 6.5L-1.0 10.3M-11.3 21.9L-1.0 18.1M-1.0 -28.3L9.3 -24.5M-1.0 -12.9L-1.0 -5.1M-1.0 -12.9L9.3 -16.7M-1.0 -5.1L9.3 -1.3M-1.0 10.3L-1.0 18.1M-1.0 10.3L9.3 6.5M-1.0 18.1L9.3 21.9M9.3 -24.5L9.3 -16.7M9.3 -24.5L19.6 -28.3M9.3 -16.7L19.6 -12.9M9.3 -1.3L9.3 6.5M9.3 -1.3L19.6 -5.1M9.3 6.5L19.6 10.3M9.3 21.9L19.6 18.1M19.6 -28.3L29.9 -24.5M19.6 -12.9L19.6 -5.1M19.6 -12.9L29.9 -16.7M19.6 -5.1L29.9 -1.3M19.6 10.3L19.6 18.1M19.6 10.3L29.9 6.5M19.6 18.1L29.9 21.9M29.9 -24.5L29.9 -16.7M29.9 -24.5L40.2 -28.3M29.9 -16.7L40.2 -12.9M29.9 -1.3L29.9 6.5M29.9 -1.3L40.2 -5.1M29.9 6.5L40.2 10.3M29.9 21.9L40.2 18.1M40.2 -28.3L50.5 -24.5M40.2 -12.9L40.2 -5.1M40.2 -12.9L50.5 -16.7M40.2 -5.1L50.5 -1.3M40.2 10.3L40.2 18.1M40.2 10.3L50.5 6.5M40.2 18.1L50.5 21.9M50.5 -24.5L50.5 -16.7M50.5 -16.7L60.8 -12.9M50.5 -1.3L50.5 6.5M50.5 -1.3L60.8 -5.1M50.5 6.5L60.8 10.3M50.5 21.9L60.8 18.1M60.8 -12.9L60.8 -5.1M60.8 -12.9L71.1 -16.7M60.8 -5.1L71.1 -1.3M60.8 10.3L60.8 18.1M60.8 10.3L71.1 6.5M71.1 -16.7L81.4 -12.9M71.1 -1.3L71.1 6.5M71.1 -1.3L81.4 -5.1M81.4 -12.9L81.4 -5.1" stroke="#505050" stroke-width="0.9" stroke-linecap="round" fill="none" transform="translate(-0.3 -0.6)"/><ellipse cx="-83.4" cy="-12.9" rx="3.3" ry="2.9" fill="#1e1e1e"/><ellipse cx="-83.4" cy="-5.1" rx="3.3" ry="2.9" fill="#1e1e1e"/><ellipse cx="-73.1" cy="-16.7" rx="3.3" ry="2.9" fill="#1e1e1e"/><ellipse cx="-73.1" cy="-1.3" rx="3.3" ry="2.9" fill="#1e1e1e"/><ellipse cx="-73.1" cy="6.5" rx="3.3" ry="2.9" fill="#1e1e1e"/><ellipse cx="-62.8" cy="-12.9" rx="3.3" ry="2.9" fill="#1e1e1e"/><ellipse cx="-62.8" cy="-5.1" rx="3.3" ry="2.9" fill="#1e1e1e"/><ellipse cx="-62.8" cy="10.3" rx="3.3" ry="2.9" fill="#1e1e1e"/><ellipse cx="-62.8" cy="18.1" rx="3.3" ry="2.9" fill="#1e1e1e"/><ellipse cx="-52.5" cy="-24.5" rx="3.3" ry="2.9" fill="#1e1e1e"/><ellipse cx="-52.5" cy="-16.7" rx="3.3" ry="2.9" fill="#1e1e1e"/><ellipse cx="-52.5" cy="-1.3" rx="3.3" ry="2.9" fill="#1e1e1e"/><ellipse cx="-52.5" cy="6.5" rx="3.3" ry="2.9" fill="#1e1e1e"/><ellipse cx="-52.5" cy="21.9" rx="3.3" ry="2.9" fill="#1e1e1e"/><ellipse cx="-42.2" cy="-28.3" rx="3.3" ry="2.9" fill="#1e1e1e"/><ellipse cx="-42.2" cy="-12.9" rx="3.3" ry="2.9" fill="#1e1e1e"/><ellipse cx="-42.2" cy="-5.1" rx="3.3" ry="2.9" fill="#1e1e1e"/><ellipse cx="-42.2" cy="10.3" rx="3.3" ry="2.9" fill="#1e1e1e"/><ellipse cx="-42.2" cy="18.1" rx="3.3" ry="2.9" fill="#1e1e1e"/><ellipse cx="-31.9" cy="-24.5" rx="3.3" ry="2.9" fill="#1e1e1e"/><ellipse cx="-31.9" cy="-16.7" rx="3.3" ry="2.9" fill="#1e1e1e"/><ellipse cx="-31.9" cy="-1.3" rx="3.3" ry="2.9" fill="#1e1e1e"/><ellipse cx="-31.9" cy="6.5" rx="3.3" ry="2.9" fill="#1e1e1e"/><ellipse cx="-31.9" cy="21.9" rx="3.3" ry="2.9" fill="#1e1e1e"/><ellipse cx="-21.6" cy="-28.3" rx="3.3" ry="2.9" fill="#1e1e1e"/><ellipse cx="-21.6" cy="-12.9" rx="3.3" ry="2.9" fill="#1e1e1e"/><ellipse cx="-21.6" cy="-5.1" rx="3.3" ry="2.9" fill="#1e1e1e"/><ellipse cx="-21.6" cy="10.3" rx="3.3" ry="2.9" fill="#1e1e1e"/><ellipse cx="-21.6" cy="18.1" rx="3.3" ry="2.9" fill="#1e1e1e"/><ellipse cx="-11.3" cy="-24.5" rx="3.3" ry="2.9" fill="#1e1e1e"/><ellipse cx="-11.3" cy="-16.7" rx="3.3" ry="2.9" fill="#1e1e1e"/><ellipse cx="-11.3" cy="-1.3" rx="3.3" ry="2.9" fill="#1e1e1e"/><ellipse cx="-11.3" cy="6.5" rx="3.3" ry="2.9" fill="#1e1e1e"/><ellipse cx="-11.3" cy="21.9" rx="3.3" ry="2.9" fill="#1e1e1e"/><ellipse cx="-1.0" cy="-28.3" rx="3.3" ry="2.9" fill="#1e1e1e"/><ellipse cx="-1.0" cy="-12.9" rx="3.3" ry="2.9" fill="#1e1e1e"/><ellipse cx="-1.0" cy="-5.1" rx="3.3" ry="2.9" fill="#1e1e1e"/><ellipse cx="-1.0" cy="10.3" rx="3.3" ry="2.9" fill="#1e1e1e"/><ellipse cx="-1.0" cy="18.1" rx="3.3" ry="2.9" fill="#1e1e1e"/><ellipse cx="9.3" cy="-24.5" rx="3.3" ry="2.9" fill="#1e1e1e"/><ellipse cx="9.3" cy="-16.7" rx="3.3" ry="2.9" fill="#1e1e1e"/><ellipse cx="9.3" cy="-1.3" rx="3.3" ry="2.9" fill="#1e1e1e"/><ellipse cx="9.3" cy="6.5" rx="3.3" ry="2.9" fill="#1e1e1e"/><ellipse cx="9.3" cy="21.9" rx="3.3" ry="2.9" fill="#1e1e1e"/><ellipse cx="19.6" cy="-28.3" rx="3.3" ry="2.9" fill="#1e1e1e"/><ellipse cx="19.6" cy="-12.9" rx="3.3" ry="2.9" fill="#1e1e1e"/><ellipse cx="19.6" cy="-5.1" rx="3.3" ry="2.9" fill="#1e1e1e"/><ellipse cx="19.6" cy="10.3" rx="3.3" ry="2.9" fill="#1e1e1e"/><ellipse cx="19.6" cy="18.1" rx="3.3" ry="2.9" fill="#1e1e1e"/><ellipse cx="29.9" cy="-24.5" rx="3.3" ry="2.9" fill="#1e1e1e"/><ellipse cx="29.9" cy="-16.7" rx="3.3" ry="2.9" fill="#1e1e1e"/><ellipse cx="29.9" cy="-1.3" rx="3.3" ry="2.9" fill="#1e1e1e"/><ellipse cx="29.9" cy="6.5" rx="3.3" ry="2.9" fill="#1e1e1e"/><ellipse cx="29.9" cy="21.9" rx="3.3" ry="2.9" fill="#1e1e1e"/><ellipse cx="40.2" cy="-28.3" rx="3.3" ry="2.9" fill="#1e1e1e"/><ellipse cx="40.2" cy="-12.9" rx="3.3" ry="2.9" fill="#1e1e1e"/><ellipse cx="40.2" cy="-5.1" rx="3.3" ry="2.9" fill="#1e1e1e"/><ellipse cx="40.2" cy="10.3" rx="3.3" ry="2.9" fill="#1e1e1e"/><ellipse cx="40.2" cy="18.1" rx="3.3" ry="2.9" fill="#1e1e1e"/><ellipse cx="50.5" cy="-24.5" rx="3.3" ry="2.9" fill="#1e1e1e"/><ellipse cx="50.5" cy="-16.7" rx="3.3" ry="2.9" fill="#1e1e1e"/><ellipse cx="50.5" cy="-1.3" rx="3.3" ry="2.9" fill="#1e1e1e"/><ellipse cx="50.5" cy="6.5" rx="3.3" ry="2.9" fill="#1e1e1e"/><ellipse cx="50.5" cy="21.9" rx="3.3" ry="2.9" fill="#1e1e1e"/><ellipse cx="60.8" cy="-12.9" rx="3.3" ry="2.9" fill="#1e1e1e"/><ellipse cx="60.8" cy="-5.1" rx="3.3" ry="2.9" fill="#1e1e1e"/><ellipse cx="60.8" cy="10.3" rx="3.3" ry="2.9" fill="#1e1e1e"/><ellipse cx="60.8" cy="18.1" rx="3.3" ry="2.9" fill="#1e1e1e"/><ellipse cx="71.1" cy="-16.7" rx="3.3" ry="2.9" fill="#1e1e1e"/><ellipse cx="71.1" cy="-1.3" rx="3.3" ry="2.9" fill="#1e1e1e"/><ellipse cx="71.1" cy="6.5" rx="3.3" ry="2.9" fill="#1e1e1e"/><ellipse cx="81.4" cy="-12.9" rx="3.3" ry="2.9" fill="#1e1e1e"/><ellipse cx="81.4" cy="-5.1" rx="3.3" ry="2.9" fill="#1e1e1e"/></g><ellipse cx="77.2" cy="249.5" rx="9.5" ry="6.5" fill="url(#gGlow)"/><ellipse cx="77.2" cy="245.5" rx="5.8" ry="7.6" fill="url(#gGold)"/><ellipse cx="76.9" cy="241.1" rx="3.2" ry="2.6" fill="#e2f21a" opacity="0.85"/><ellipse cx="109.0" cy="250" rx="9.5" ry="6.5" fill="url(#gGlow)"/><ellipse cx="109.0" cy="246" rx="5.8" ry="7.6" fill="url(#gGold)"/><ellipse cx="108.7" cy="241.6" rx="3.2" ry="2.6" fill="#e2f21a" opacity="0.85"/><ellipse cx="142.5" cy="250.5" rx="9.5" ry="6.5" fill="url(#gGlow)"/><ellipse cx="142.5" cy="246.5" rx="5.8" ry="7.6" fill="url(#gGold)"/><ellipse cx="142.2" cy="242.1" rx="3.2" ry="2.6" fill="#e2f21a" opacity="0.85"/><ellipse cx="46.7" cy="267.4" rx="9.5" ry="6.5" fill="url(#gGlow)"/><ellipse cx="46.7" cy="263.4" rx="5.8" ry="7.6" fill="url(#gGold)"/><ellipse cx="46.400000000000006" cy="259.0" rx="3.2" ry="2.6" fill="#e2f21a" opacity="0.85"/><ellipse cx="67.7" cy="276.2" rx="9.5" ry="6.5" fill="url(#gGlow)"/><ellipse cx="67.7" cy="272.2" rx="5.8" ry="7.6" fill="url(#gGold)"/><ellipse cx="67.4" cy="267.8" rx="3.2" ry="2.6" fill="#e2f21a" opacity="0.85"/><ellipse cx="96.7" cy="274.2" rx="9.5" ry="6.5" fill="url(#gGlow)"/><ellipse cx="96.7" cy="270.2" rx="5.8" ry="7.6" fill="url(#gGold)"/><ellipse cx="96.4" cy="265.8" rx="3.2" ry="2.6" fill="#e2f21a" opacity="0.85"/><ellipse cx="127.7" cy="274.2" rx="9.5" ry="6.5" fill="url(#gGlow)"/><ellipse cx="127.7" cy="270.2" rx="5.8" ry="7.6" fill="url(#gGold)"/><ellipse cx="127.4" cy="265.8" rx="3.2" ry="2.6" fill="#e2f21a" opacity="0.85"/><ellipse cx="162.2" cy="266" rx="9.5" ry="6.5" fill="url(#gGlow)"/><ellipse cx="162.2" cy="262" rx="5.8" ry="7.6" fill="url(#gGold)"/><ellipse cx="161.89999999999998" cy="257.6" rx="3.2" ry="2.6" fill="#e2f21a" opacity="0.85"/><g transform="translate(273 120.5) rotate(1.9) scale(1 1.035)"><path d="M-84 -6 A89.8 43.0 0 1 0 84 -6 Z" fill="#58b8f2" opacity="0.65" filter="url(#fBlur1)"/><path d="M-83.4 -6 A88.8 41.4 0 1 0 83.4 -6 Z" fill="url(#gRim)"/><path d="M-88 9 A88 34.5 0 0 0 88 9" fill="none" stroke="#506274" stroke-width="1.6" opacity="0.55" filter="url(#fBlur1)"/><ellipse cx="0" cy="3.2" rx="85.6" ry="32.4" fill="url(#gWall2)"/><ellipse cx="0" cy="-3" rx="84.8" ry="28.2" fill="url(#gLip)"/><ellipse cx="0" cy="-2.6" rx="82.3" ry="26.2" fill="#064c82" filter="url(#fBlur1)"/><ellipse cx="0" cy="-0.8" rx="75" ry="21.6" fill="url(#gFloor)" filter="url(#fBlur2)"/></g><g font-family="'Liberation Sans', Arial, sans-serif" font-weight="bold" font-size="19.6" fill="#fff" text-anchor="middle" opacity="0.88" filter="url(#fTxt)"><text x="275.2" y="115.3">Working</text><text x="275.1" y="139.3">Electrode</text></g><g transform="translate(273 119.5)"><path d="M-83.4 -12.9L-83.4 -5.1M-83.4 -12.9L-73.1 -16.7M-83.4 -5.1L-73.1 -1.3M-73.1 -16.7L-62.8 -12.9M-73.1 -1.3L-73.1 6.5M-73.1 -1.3L-62.8 -5.1M-73.1 6.5L-62.8 10.3M-62.8 -12.9L-62.8 -5.1M-62.8 -12.9L-52.5 -16.7M-62.8 -5.1L-52.5 -1.3M-62.8 10.3L-62.8 18.1M-62.8 10.3L-52.5 6.5M-62.8 18.1L-52.5 21.9M-52.5 -24.5L-52.5 -16.7M-52.5 -24.5L-42.2 -28.3M-52.5 -16.7L-42.2 -12.9M-52.5 -1.3L-52.5 6.5M-52.5 -1.3L-42.2 -5.1M-52.5 6.5L-42.2 10.3M-52.5 21.9L-42.2 18.1M-42.2 -28.3L-31.9 -24.5M-42.2 -12.9L-42.2 -5.1M-42.2 -12.9L-31.9 -16.7M-42.2 -5.1L-31.9 -1.3M-42.2 10.3L-42.2 18.1M-42.2 10.3L-31.9 6.5M-42.2 18.1L-31.9 21.9M-31.9 -24.5L-31.9 -16.7M-31.9 -24.5L-21.6 -28.3M-31.9 -16.7L-21.6 -12.9M-31.9 -1.3L-31.9 6.5M-31.9 -1.3L-21.6 -5.1M-31.9 6.5L-21.6 10.3M-31.9 21.9L-21.6 18.1M-21.6 -28.3L-11.3 -24.5M-21.6 -12.9L-21.6 -5.1M-21.6 -12.9L-11.3 -16.7M-21.6 -5.1L-11.3 -1.3M-21.6 10.3L-21.6 18.1M-21.6 10.3L-11.3 6.5M-21.6 18.1L-11.3 21.9M-11.3 -24.5L-11.3 -16.7M-11.3 -24.5L-1.0 -28.3M-11.3 -16.7L-1.0 -12.9M-11.3 -1.3L-11.3 6.5M-11.3 -1.3L-1.0 -5.1M-11.3 6.5L-1.0 10.3M-11.3 21.9L-1.0 18.1M-1.0 -28.3L9.3 -24.5M-1.0 -12.9L-1.0 -5.1M-1.0 -12.9L9.3 -16.7M-1.0 -5.1L9.3 -1.3M-1.0 10.3L-1.0 18.1M-1.0 10.3L9.3 6.5M-1.0 18.1L9.3 21.9M9.3 -24.5L9.3 -16.7M9.3 -24.5L19.6 -28.3M9.3 -16.7L19.6 -12.9M9.3 -1.3L9.3 6.5M9.3 -1.3L19.6 -5.1M9.3 6.5L19.6 10.3M9.3 21.9L19.6 18.1M19.6 -28.3L29.9 -24.5M19.6 -12.9L19.6 -5.1M19.6 -12.9L29.9 -16.7M19.6 -5.1L29.9 -1.3M19.6 10.3L19.6 18.1M19.6 10.3L29.9 6.5M19.6 18.1L29.9 21.9M29.9 -24.5L29.9 -16.7M29.9 -24.5L40.2 -28.3M29.9 -16.7L40.2 -12.9M29.9 -1.3L29.9 6.5M29.9 -1.3L40.2 -5.1M29.9 6.5L40.2 10.3M29.9 21.9L40.2 18.1M40.2 -28.3L50.5 -24.5M40.2 -12.9L40.2 -5.1M40.2 -12.9L50.5 -16.7M40.2 -5.1L50.5 -1.3M40.2 10.3L40.2 18.1M40.2 10.3L50.5 6.5M40.2 18.1L50.5 21.9M50.5 -24.5L50.5 -16.7M50.5 -16.7L60.8 -12.9M50.5 -1.3L50.5 6.5M50.5 -1.3L60.8 -5.1M50.5 6.5L60.8 10.3M50.5 21.9L60.8 18.1M60.8 -12.9L60.8 -5.1M60.8 -12.9L71.1 -16.7M60.8 -5.1L71.1 -1.3M60.8 10.3L60.8 18.1M60.8 10.3L71.1 6.5M71.1 -16.7L81.4 -12.9M71.1 -1.3L71.1 6.5M71.1 -1.3L81.4 -5.1M81.4 -12.9L81.4 -5.1" stroke="#05365e" stroke-width="3.6" stroke-linecap="round" fill="none" opacity="0.45" transform="translate(1 2.4)"/><path d="M-83.4 -12.9L-83.4 -5.1M-83.4 -12.9L-73.1 -16.7M-83.4 -5.1L-73.1 -1.3M-73.1 -16.7L-62.8 -12.9M-73.1 -1.3L-73.1 6.5M-73.1 -1.3L-62.8 -5.1M-73.1 6.5L-62.8 10.3M-62.8 -12.9L-62.8 -5.1M-62.8 -12.9L-52.5 -16.7M-62.8 -5.1L-52.5 -1.3M-62.8 10.3L-62.8 18.1M-62.8 10.3L-52.5 6.5M-62.8 18.1L-52.5 21.9M-52.5 -24.5L-52.5 -16.7M-52.5 -24.5L-42.2 -28.3M-52.5 -16.7L-42.2 -12.9M-52.5 -1.3L-52.5 6.5M-52.5 -1.3L-42.2 -5.1M-52.5 6.5L-42.2 10.3M-52.5 21.9L-42.2 18.1M-42.2 -28.3L-31.9 -24.5M-42.2 -12.9L-42.2 -5.1M-42.2 -12.9L-31.9 -16.7M-42.2 -5.1L-31.9 -1.3M-42.2 10.3L-42.2 18.1M-42.2 10.3L-31.9 6.5M-42.2 18.1L-31.9 21.9M-31.9 -24.5L-31.9 -16.7M-31.9 -24.5L-21.6 -28.3M-31.9 -16.7L-21.6 -12.9M-31.9 -1.3L-31.9 6.5M-31.9 -1.3L-21.6 -5.1M-31.9 6.5L-21.6 10.3M-31.9 21.9L-21.6 18.1M-21.6 -28.3L-11.3 -24.5M-21.6 -12.9L-21.6 -5.1M-21.6 -12.9L-11.3 -16.7M-21.6 -5.1L-11.3 -1.3M-21.6 10.3L-21.6 18.1M-21.6 10.3L-11.3 6.5M-21.6 18.1L-11.3 21.9M-11.3 -24.5L-11.3 -16.7M-11.3 -24.5L-1.0 -28.3M-11.3 -16.7L-1.0 -12.9M-11.3 -1.3L-11.3 6.5M-11.3 -1.3L-1.0 -5.1M-11.3 6.5L-1.0 10.3M-11.3 21.9L-1.0 18.1M-1.0 -28.3L9.3 -24.5M-1.0 -12.9L-1.0 -5.1M-1.0 -12.9L9.3 -16.7M-1.0 -5.1L9.3 -1.3M-1.0 10.3L-1.0 18.1M-1.0 10.3L9.3 6.5M-1.0 18.1L9.3 21.9M9.3 -24.5L9.3 -16.7M9.3 -24.5L19.6 -28.3M9.3 -16.7L19.6 -12.9M9.3 -1.3L9.3 6.5M9.3 -1.3L19.6 -5.1M9.3 6.5L19.6 10.3M9.3 21.9L19.6 18.1M19.6 -28.3L29.9 -24.5M19.6 -12.9L19.6 -5.1M19.6 -12.9L29.9 -16.7M19.6 -5.1L29.9 -1.3M19.6 10.3L19.6 18.1M19.6 10.3L29.9 6.5M19.6 18.1L29.9 21.9M29.9 -24.5L29.9 -16.7M29.9 -24.5L40.2 -28.3M29.9 -16.7L40.2 -12.9M29.9 -1.3L29.9 6.5M29.9 -1.3L40.2 -5.1M29.9 6.5L40.2 10.3M29.9 21.9L40.2 18.1M40.2 -28.3L50.5 -24.5M40.2 -12.9L40.2 -5.1M40.2 -12.9L50.5 -16.7M40.2 -5.1L50.5 -1.3M40.2 10.3L40.2 18.1M40.2 10.3L50.5 6.5M40.2 18.1L50.5 21.9M50.5 -24.5L50.5 -16.7M50.5 -16.7L60.8 -12.9M50.5 -1.3L50.5 6.5M50.5 -1.3L60.8 -5.1M50.5 6.5L60.8 10.3M50.5 21.9L60.8 18.1M60.8 -12.9L60.8 -5.1M60.8 -12.9L71.1 -16.7M60.8 -5.1L71.1 -1.3M60.8 10.3L60.8 18.1M60.8 10.3L71.1 6.5M71.1 -16.7L81.4 -12.9M71.1 -1.3L71.1 6.5M71.1 -1.3L81.4 -5.1M81.4 -12.9L81.4 -5.1" stroke="#1a1a1a" stroke-width="4.3" stroke-linecap="round" fill="none"/><path d="M-83.4 -12.9L-83.4 -5.1M-83.4 -12.9L-73.1 -16.7M-83.4 -5.1L-73.1 -1.3M-73.1 -16.7L-62.8 -12.9M-73.1 -1.3L-73.1 6.5M-73.1 -1.3L-62.8 -5.1M-73.1 6.5L-62.8 10.3M-62.8 -12.9L-62.8 -5.1M-62.8 -12.9L-52.5 -16.7M-62.8 -5.1L-52.5 -1.3M-62.8 10.3L-62.8 18.1M-62.8 10.3L-52.5 6.5M-62.8 18.1L-52.5 21.9M-52.5 -24.5L-52.5 -16.7M-52.5 -24.5L-42.2 -28.3M-52.5 -16.7L-42.2 -12.9M-52.5 -1.3L-52.5 6.5M-52.5 -1.3L-42.2 -5.1M-52.5 6.5L-42.2 10.3M-52.5 21.9L-42.2 18.1M-42.2 -28.3L-31.9 -24.5M-42.2 -12.9L-42.2 -5.1M-42.2 -12.9L-31.9 -16.7M-42.2 -5.1L-31.9 -1.3M-42.2 10.3L-42.2 18.1M-42.2 10.3L-31.9 6.5M-42.2 18.1L-31.9 21.9M-31.9 -24.5L-31.9 -16.7M-31.9 -24.5L-21.6 -28.3M-31.9 -16.7L-21.6 -12.9M-31.9 -1.3L-31.9 6.5M-31.9 -1.3L-21.6 -5.1M-31.9 6.5L-21.6 10.3M-31.9 21.9L-21.6 18.1M-21.6 -28.3L-11.3 -24.5M-21.6 -12.9L-21.6 -5.1M-21.6 -12.9L-11.3 -16.7M-21.6 -5.1L-11.3 -1.3M-21.6 10.3L-21.6 18.1M-21.6 10.3L-11.3 6.5M-21.6 18.1L-11.3 21.9M-11.3 -24.5L-11.3 -16.7M-11.3 -24.5L-1.0 -28.3M-11.3 -16.7L-1.0 -12.9M-11.3 -1.3L-11.3 6.5M-11.3 -1.3L-1.0 -5.1M-11.3 6.5L-1.0 10.3M-11.3 21.9L-1.0 18.1M-1.0 -28.3L9.3 -24.5M-1.0 -12.9L-1.0 -5.1M-1.0 -12.9L9.3 -16.7M-1.0 -5.1L9.3 -1.3M-1.0 10.3L-1.0 18.1M-1.0 10.3L9.3 6.5M-1.0 18.1L9.3 21.9M9.3 -24.5L9.3 -16.7M9.3 -24.5L19.6 -28.3M9.3 -16.7L19.6 -12.9M9.3 -1.3L9.3 6.5M9.3 -1.3L19.6 -5.1M9.3 6.5L19.6 10.3M9.3 21.9L19.6 18.1M19.6 -28.3L29.9 -24.5M19.6 -12.9L19.6 -5.1M19.6 -12.9L29.9 -16.7M19.6 -5.1L29.9 -1.3M19.6 10.3L19.6 18.1M19.6 10.3L29.9 6.5M19.6 18.1L29.9 21.9M29.9 -24.5L29.9 -16.7M29.9 -24.5L40.2 -28.3M29.9 -16.7L40.2 -12.9M29.9 -1.3L29.9 6.5M29.9 -1.3L40.2 -5.1M29.9 6.5L40.2 10.3M29.9 21.9L40.2 18.1M40.2 -28.3L50.5 -24.5M40.2 -12.9L40.2 -5.1M40.2 -12.9L50.5 -16.7M40.2 -5.1L50.5 -1.3M40.2 10.3L40.2 18.1M40.2 10.3L50.5 6.5M40.2 18.1L50.5 21.9M50.5 -24.5L50.5 -16.7M50.5 -16.7L60.8 -12.9M50.5 -1.3L50.5 6.5M50.5 -1.3L60.8 -5.1M50.5 6.5L60.8 10.3M50.5 21.9L60.8 18.1M60.8 -12.9L60.8 -5.1M60.8 -12.9L71.1 -16.7M60.8 -5.1L71.1 -1.3M60.8 10.3L60.8 18.1M60.8 10.3L71.1 6.5M71.1 -16.7L81.4 -12.9M71.1 -1.3L71.1 6.5M71.1 -1.3L81.4 -5.1M81.4 -12.9L81.4 -5.1" stroke="#505050" stroke-width="0.9" stroke-linecap="round" fill="none" transform="translate(-0.3 -0.6)"/><ellipse cx="-83.4" cy="-12.9" rx="3.3" ry="2.9" fill="#1e1e1e"/><ellipse cx="-83.4" cy="-5.1" rx="3.3" ry="2.9" fill="#1e1e1e"/><ellipse cx="-73.1" cy="-16.7" rx="3.3" ry="2.9" fill="#1e1e1e"/><ellipse cx="-73.1" cy="-1.3" rx="3.3" ry="2.9" fill="#1e1e1e"/><ellipse cx="-73.1" cy="6.5" rx="3.3" ry="2.9" fill="#1e1e1e"/><ellipse cx="-62.8" cy="-12.9" rx="3.3" ry="2.9" fill="#1e1e1e"/><ellipse cx="-62.8" cy="-5.1" rx="3.3" ry="2.9" fill="#1e1e1e"/><ellipse cx="-62.8" cy="10.3" rx="3.3" ry="2.9" fill="#1e1e1e"/><ellipse cx="-62.8" cy="18.1" rx="3.3" ry="2.9" fill="#1e1e1e"/><ellipse cx="-52.5" cy="-24.5" rx="3.3" ry="2.9" fill="#1e1e1e"/><ellipse cx="-52.5" cy="-16.7" rx="3.3" ry="2.9" fill="#1e1e1e"/><ellipse cx="-52.5" cy="-1.3" rx="3.3" ry="2.9" fill="#1e1e1e"/><ellipse cx="-52.5" cy="6.5" rx="3.3" ry="2.9" fill="#1e1e1e"/><ellipse cx="-52.5" cy="21.9" rx="3.3" ry="2.9" fill="#1e1e1e"/><ellipse cx="-42.2" cy="-28.3" rx="3.3" ry="2.9" fill="#1e1e1e"/><ellipse cx="-42.2" cy="-12.9" rx="3.3" ry="2.9" fill="#1e1e1e"/><ellipse cx="-42.2" cy="-5.1" rx="3.3" ry="2.9" fill="#1e1e1e"/><ellipse cx="-42.2" cy="10.3" rx="3.3" ry="2.9" fill="#1e1e1e"/><ellipse cx="-42.2" cy="18.1" rx="3.3" ry="2.9" fill="#1e1e1e"/><ellipse cx="-31.9" cy="-24.5" rx="3.3" ry="2.9" fill="#1e1e1e"/><ellipse cx="-31.9" cy="-16.7" rx="3.3" ry="2.9" fill="#1e1e1e"/><ellipse cx="-31.9" cy="-1.3" rx="3.3" ry="2.9" fill="#1e1e1e"/><ellipse cx="-31.9" cy="6.5" rx="3.3" ry="2.9" fill="#1e1e1e"/><ellipse cx="-31.9" cy="21.9" rx="3.3" ry="2.9" fill="#1e1e1e"/><ellipse cx="-21.6" cy="-28.3" rx="3.3" ry="2.9" fill="#1e1e1e"/><ellipse cx="-21.6" cy="-12.9" rx="3.3" ry="2.9" fill="#1e1e1e"/><ellipse cx="-21.6" cy="-5.1" rx="3.3" ry="2.9" fill="#1e1e1e"/><ellipse cx="-21.6" cy="10.3" rx="3.3" ry="2.9" fill="#1e1e1e"/><ellipse cx="-21.6" cy="18.1" rx="3.3" ry="2.9" fill="#1e1e1e"/><ellipse cx="-11.3" cy="-24.5" rx="3.3" ry="2.9" fill="#1e1e1e"/><ellipse cx="-11.3" cy="-16.7" rx="3.3" ry="2.9" fill="#1e1e1e"/><ellipse cx="-11.3" cy="-1.3" rx="3.3" ry="2.9" fill="#1e1e1e"/><ellipse cx="-11.3" cy="6.5" rx="3.3" ry="2.9" fill="#1e1e1e"/><ellipse cx="-11.3" cy="21.9" rx="3.3" ry="2.9" fill="#1e1e1e"/><ellipse cx="-1.0" cy="-28.3" rx="3.3" ry="2.9" fill="#1e1e1e"/><ellipse cx="-1.0" cy="-12.9" rx="3.3" ry="2.9" fill="#1e1e1e"/><ellipse cx="-1.0" cy="-5.1" rx="3.3" ry="2.9" fill="#1e1e1e"/><ellipse cx="-1.0" cy="10.3" rx="3.3" ry="2.9" fill="#1e1e1e"/><ellipse cx="-1.0" cy="18.1" rx="3.3" ry="2.9" fill="#1e1e1e"/><ellipse cx="9.3" cy="-24.5" rx="3.3" ry="2.9" fill="#1e1e1e"/><ellipse cx="9.3" cy="-16.7" rx="3.3" ry="2.9" fill="#1e1e1e"/><ellipse cx="9.3" cy="-1.3" rx="3.3" ry="2.9" fill="#1e1e1e"/><ellipse cx="9.3" cy="6.5" rx="3.3" ry="2.9" fill="#1e1e1e"/><ellipse cx="9.3" cy="21.9" rx="3.3" ry="2.9" fill="#1e1e1e"/><ellipse cx="19.6" cy="-28.3" rx="3.3" ry="2.9" fill="#1e1e1e"/><ellipse cx="19.6" cy="-12.9" rx="3.3" ry="2.9" fill="#1e1e1e"/><ellipse cx="19.6" cy="-5.1" rx="3.3" ry="2.9" fill="#1e1e1e"/><ellipse cx="19.6" cy="10.3" rx="3.3" ry="2.9" fill="#1e1e1e"/><ellipse cx="19.6" cy="18.1" rx="3.3" ry="2.9" fill="#1e1e1e"/><ellipse cx="29.9" cy="-24.5" rx="3.3" ry="2.9" fill="#1e1e1e"/><ellipse cx="29.9" cy="-16.7" rx="3.3" ry="2.9" fill="#1e1e1e"/><ellipse cx="29.9" cy="-1.3" rx="3.3" ry="2.9" fill="#1e1e1e"/><ellipse cx="29.9" cy="6.5" rx="3.3" ry="2.9" fill="#1e1e1e"/><ellipse cx="29.9" cy="21.9" rx="3.3" ry="2.9" fill="#1e1e1e"/><ellipse cx="40.2" cy="-28.3" rx="3.3" ry="2.9" fill="#1e1e1e"/><ellipse cx="40.2" cy="-12.9" rx="3.3" ry="2.9" fill="#1e1e1e"/><ellipse cx="40.2" cy="-5.1" rx="3.3" ry="2.9" fill="#1e1e1e"/><ellipse cx="40.2" cy="10.3" rx="3.3" ry="2.9" fill="#1e1e1e"/><ellipse cx="40.2" cy="18.1" rx="3.3" ry="2.9" fill="#1e1e1e"/><ellipse cx="50.5" cy="-24.5" rx="3.3" ry="2.9" fill="#1e1e1e"/><ellipse cx="50.5" cy="-16.7" rx="3.3" ry="2.9" fill="#1e1e1e"/><ellipse cx="50.5" cy="-1.3" rx="3.3" ry="2.9" fill="#1e1e1e"/><ellipse cx="50.5" cy="6.5" rx="3.3" ry="2.9" fill="#1e1e1e"/><ellipse cx="50.5" cy="21.9" rx="3.3" ry="2.9" fill="#1e1e1e"/><ellipse cx="60.8" cy="-12.9" rx="3.3" ry="2.9" fill="#1e1e1e"/><ellipse cx="60.8" cy="-5.1" rx="3.3" ry="2.9" fill="#1e1e1e"/><ellipse cx="60.8" cy="10.3" rx="3.3" ry="2.9" fill="#1e1e1e"/><ellipse cx="60.8" cy="18.1" rx="3.3" ry="2.9" fill="#1e1e1e"/><ellipse cx="71.1" cy="-16.7" rx="3.3" ry="2.9" fill="#1e1e1e"/><ellipse cx="71.1" cy="-1.3" rx="3.3" ry="2.9" fill="#1e1e1e"/><ellipse cx="71.1" cy="6.5" rx="3.3" ry="2.9" fill="#1e1e1e"/><ellipse cx="81.4" cy="-12.9" rx="3.3" ry="2.9" fill="#1e1e1e"/><ellipse cx="81.4" cy="-5.1" rx="3.3" ry="2.9" fill="#1e1e1e"/></g><ellipse cx="253.5" cy="101.0" rx="9.5" ry="6.5" fill="url(#gGlow)"/><ellipse cx="253.5" cy="97.0" rx="5.8" ry="7.6" fill="url(#gGold)"/><ellipse cx="253.2" cy="92.6" rx="3.2" ry="2.6" fill="#e2f21a" opacity="0.85"/><ellipse cx="285.3" cy="101.5" rx="9.5" ry="6.5" fill="url(#gGlow)"/><ellipse cx="285.3" cy="97.5" rx="5.8" ry="7.6" fill="url(#gGold)"/><ellipse cx="285.0" cy="93.1" rx="3.2" ry="2.6" fill="#e2f21a" opacity="0.85"/><ellipse cx="318.8" cy="102.0" rx="9.5" ry="6.5" fill="url(#gGlow)"/><ellipse cx="318.8" cy="98.0" rx="5.8" ry="7.6" fill="url(#gGold)"/><ellipse cx="318.5" cy="93.6" rx="3.2" ry="2.6" fill="#e2f21a" opacity="0.85"/><ellipse cx="223" cy="118.9" rx="9.5" ry="6.5" fill="url(#gGlow)"/><ellipse cx="223" cy="114.9" rx="5.8" ry="7.6" fill="url(#gGold)"/><ellipse cx="222.7" cy="110.5" rx="3.2" ry="2.6" fill="#e2f21a" opacity="0.85"/><ellipse cx="244" cy="127.7" rx="9.5" ry="6.5" fill="url(#gGlow)"/><ellipse cx="244" cy="123.7" rx="5.8" ry="7.6" fill="url(#gGold)"/><ellipse cx="243.7" cy="119.3" rx="3.2" ry="2.6" fill="#e2f21a" opacity="0.85"/><ellipse cx="273" cy="125.7" rx="9.5" ry="6.5" fill="url(#gGlow)"/><ellipse cx="273" cy="121.7" rx="5.8" ry="7.6" fill="url(#gGold)"/><ellipse cx="272.7" cy="117.3" rx="3.2" ry="2.6" fill="#e2f21a" opacity="0.85"/><ellipse cx="304" cy="125.7" rx="9.5" ry="6.5" fill="url(#gGlow)"/><ellipse cx="304" cy="121.7" rx="5.8" ry="7.6" fill="url(#gGold)"/><ellipse cx="303.7" cy="117.3" rx="3.2" ry="2.6" fill="#e2f21a" opacity="0.85"/><ellipse cx="338.5" cy="117.5" rx="9.5" ry="6.5" fill="url(#gGlow)"/><ellipse cx="338.5" cy="113.5" rx="5.8" ry="7.6" fill="url(#gGold)"/><ellipse cx="338.2" cy="109.1" rx="3.2" ry="2.6" fill="#e2f21a" opacity="0.85"/><g transform="translate(602 145.3) rotate(1.9) scale(1 1.035)"><path d="M-84 -6 A89.8 43.0 0 1 0 84 -6 Z" fill="#58b8f2" opacity="0.65" filter="url(#fBlur1)"/><path d="M-83.4 -6 A88.8 41.4 0 1 0 83.4 -6 Z" fill="url(#gRim)"/><path d="M-88 9 A88 34.5 0 0 0 88 9" fill="none" stroke="#506274" stroke-width="1.6" opacity="0.55" filter="url(#fBlur1)"/><ellipse cx="0" cy="3.2" rx="85.6" ry="32.4" fill="url(#gWall2)"/><ellipse cx="0" cy="-3" rx="84.8" ry="28.2" fill="url(#gLip)"/><ellipse cx="0" cy="-2.6" rx="82.3" ry="26.2" fill="#064c82" filter="url(#fBlur1)"/><ellipse cx="0" cy="-0.8" rx="75" ry="21.6" fill="url(#gFloor)" filter="url(#fBlur2)"/></g><g font-family="'Liberation Sans', Arial, sans-serif" font-weight="bold" font-size="19.6" fill="#fff" text-anchor="middle" opacity="0.88" filter="url(#fTxt)"><text x="604.2" y="140.10000000000002">Working</text><text x="604.1" y="164.10000000000002">Electrode</text></g><g transform="translate(602 144.3)"><path d="M-83.4 -12.9L-83.4 -5.1M-83.4 -12.9L-73.1 -16.7M-83.4 -5.1L-73.1 -1.3M-73.1 -16.7L-62.8 -12.9M-73.1 -1.3L-73.1 6.5M-73.1 -1.3L-62.8 -5.1M-73.1 6.5L-62.8 10.3M-62.8 -12.9L-62.8 -5.1M-62.8 -12.9L-52.5 -16.7M-62.8 -5.1L-52.5 -1.3M-62.8 10.3L-62.8 18.1M-62.8 10.3L-52.5 6.5M-62.8 18.1L-52.5 21.9M-52.5 -24.5L-52.5 -16.7M-52.5 -24.5L-42.2 -28.3M-52.5 -16.7L-42.2 -12.9M-52.5 -1.3L-52.5 6.5M-52.5 -1.3L-42.2 -5.1M-52.5 6.5L-42.2 10.3M-52.5 21.9L-42.2 18.1M-42.2 -28.3L-31.9 -24.5M-42.2 -12.9L-42.2 -5.1M-42.2 -12.9L-31.9 -16.7M-42.2 -5.1L-31.9 -1.3M-42.2 10.3L-42.2 18.1M-42.2 10.3L-31.9 6.5M-42.2 18.1L-31.9 21.9M-31.9 -24.5L-31.9 -16.7M-31.9 -24.5L-21.6 -28.3M-31.9 -16.7L-21.6 -12.9M-31.9 -1.3L-31.9 6.5M-31.9 -1.3L-21.6 -5.1M-31.9 6.5L-21.6 10.3M-31.9 21.9L-21.6 18.1M-21.6 -28.3L-11.3 -24.5M-21.6 -12.9L-21.6 -5.1M-21.6 -12.9L-11.3 -16.7M-21.6 -5.1L-11.3 -1.3M-21.6 10.3L-21.6 18.1M-21.6 10.3L-11.3 6.5M-21.6 18.1L-11.3 21.9M-11.3 -24.5L-11.3 -16.7M-11.3 -24.5L-1.0 -28.3M-11.3 -16.7L-1.0 -12.9M-11.3 -1.3L-11.3 6.5M-11.3 -1.3L-1.0 -5.1M-11.3 6.5L-1.0 10.3M-11.3 21.9L-1.0 18.1M-1.0 -28.3L9.3 -24.5M-1.0 -12.9L-1.0 -5.1M-1.0 -12.9L9.3 -16.7M-1.0 -5.1L9.3 -1.3M-1.0 10.3L-1.0 18.1M-1.0 10.3L9.3 6.5M-1.0 18.1L9.3 21.9M9.3 -24.5L9.3 -16.7M9.3 -24.5L19.6 -28.3M9.3 -16.7L19.6 -12.9M9.3 -1.3L9.3 6.5M9.3 -1.3L19.6 -5.1M9.3 6.5L19.6 10.3M9.3 21.9L19.6 18.1M19.6 -28.3L29.9 -24.5M19.6 -12.9L19.6 -5.1M19.6 -12.9L29.9 -16.7M19.6 -5.1L29.9 -1.3M19.6 10.3L19.6 18.1M19.6 10.3L29.9 6.5M19.6 18.1L29.9 21.9M29.9 -24.5L29.9 -16.7M29.9 -24.5L40.2 -28.3M29.9 -16.7L40.2 -12.9M29.9 -1.3L29.9 6.5M29.9 -1.3L40.2 -5.1M29.9 6.5L40.2 10.3M29.9 21.9L40.2 18.1M40.2 -28.3L50.5 -24.5M40.2 -12.9L40.2 -5.1M40.2 -12.9L50.5 -16.7M40.2 -5.1L50.5 -1.3M40.2 10.3L40.2 18.1M40.2 10.3L50.5 6.5M40.2 18.1L50.5 21.9M50.5 -24.5L50.5 -16.7M50.5 -16.7L60.8 -12.9M50.5 -1.3L50.5 6.5M50.5 -1.3L60.8 -5.1M50.5 6.5L60.8 10.3M50.5 21.9L60.8 18.1M60.8 -12.9L60.8 -5.1M60.8 -12.9L71.1 -16.7M60.8 -5.1L71.1 -1.3M60.8 10.3L60.8 18.1M60.8 10.3L71.1 6.5M71.1 -16.7L81.4 -12.9M71.1 -1.3L71.1 6.5M71.1 -1.3L81.4 -5.1M81.4 -12.9L81.4 -5.1" stroke="#05365e" stroke-width="3.6" stroke-linecap="round" fill="none" opacity="0.45" transform="translate(1 2.4)"/><path d="M-83.4 -12.9L-83.4 -5.1M-83.4 -12.9L-73.1 -16.7M-83.4 -5.1L-73.1 -1.3M-73.1 -16.7L-62.8 -12.9M-73.1 -1.3L-73.1 6.5M-73.1 -1.3L-62.8 -5.1M-73.1 6.5L-62.8 10.3M-62.8 -12.9L-62.8 -5.1M-62.8 -12.9L-52.5 -16.7M-62.8 -5.1L-52.5 -1.3M-62.8 10.3L-62.8 18.1M-62.8 10.3L-52.5 6.5M-62.8 18.1L-52.5 21.9M-52.5 -24.5L-52.5 -16.7M-52.5 -24.5L-42.2 -28.3M-52.5 -16.7L-42.2 -12.9M-52.5 -1.3L-52.5 6.5M-52.5 -1.3L-42.2 -5.1M-52.5 6.5L-42.2 10.3M-52.5 21.9L-42.2 18.1M-42.2 -28.3L-31.9 -24.5M-42.2 -12.9L-42.2 -5.1M-42.2 -12.9L-31.9 -16.7M-42.2 -5.1L-31.9 -1.3M-42.2 10.3L-42.2 18.1M-42.2 10.3L-31.9 6.5M-42.2 18.1L-31.9 21.9M-31.9 -24.5L-31.9 -16.7M-31.9 -24.5L-21.6 -28.3M-31.9 -16.7L-21.6 -12.9M-31.9 -1.3L-31.9 6.5M-31.9 -1.3L-21.6 -5.1M-31.9 6.5L-21.6 10.3M-31.9 21.9L-21.6 18.1M-21.6 -28.3L-11.3 -24.5M-21.6 -12.9L-21.6 -5.1M-21.6 -12.9L-11.3 -16.7M-21.6 -5.1L-11.3 -1.3M-21.6 10.3L-21.6 18.1M-21.6 10.3L-11.3 6.5M-21.6 18.1L-11.3 21.9M-11.3 -24.5L-11.3 -16.7M-11.3 -24.5L-1.0 -28.3M-11.3 -16.7L-1.0 -12.9M-11.3 -1.3L-11.3 6.5M-11.3 -1.3L-1.0 -5.1M-11.3 6.5L-1.0 10.3M-11.3 21.9L-1.0 18.1M-1.0 -28.3L9.3 -24.5M-1.0 -12.9L-1.0 -5.1M-1.0 -12.9L9.3 -16.7M-1.0 -5.1L9.3 -1.3M-1.0 10.3L-1.0 18.1M-1.0 10.3L9.3 6.5M-1.0 18.1L9.3 21.9M9.3 -24.5L9.3 -16.7M9.3 -24.5L19.6 -28.3M9.3 -16.7L19.6 -12.9M9.3 -1.3L9.3 6.5M9.3 -1.3L19.6 -5.1M9.3 6.5L19.6 10.3M9.3 21.9L19.6 18.1M19.6 -28.3L29.9 -24.5M19.6 -12.9L19.6 -5.1M19.6 -12.9L29.9 -16.7M19.6 -5.1L29.9 -1.3M19.6 10.3L19.6 18.1M19.6 10.3L29.9 6.5M19.6 18.1L29.9 21.9M29.9 -24.5L29.9 -16.7M29.9 -24.5L40.2 -28.3M29.9 -16.7L40.2 -12.9M29.9 -1.3L29.9 6.5M29.9 -1.3L40.2 -5.1M29.9 6.5L40.2 10.3M29.9 21.9L40.2 18.1M40.2 -28.3L50.5 -24.5M40.2 -12.9L40.2 -5.1M40.2 -12.9L50.5 -16.7M40.2 -5.1L50.5 -1.3M40.2 10.3L40.2 18.1M40.2 10.3L50.5 6.5M40.2 18.1L50.5 21.9M50.5 -24.5L50.5 -16.7M50.5 -16.7L60.8 -12.9M50.5 -1.3L50.5 6.5M50.5 -1.3L60.8 -5.1M50.5 6.5L60.8 10.3M50.5 21.9L60.8 18.1M60.8 -12.9L60.8 -5.1M60.8 -12.9L71.1 -16.7M60.8 -5.1L71.1 -1.3M60.8 10.3L60.8 18.1M60.8 10.3L71.1 6.5M71.1 -16.7L81.4 -12.9M71.1 -1.3L71.1 6.5M71.1 -1.3L81.4 -5.1M81.4 -12.9L81.4 -5.1" stroke="#1a1a1a" stroke-width="4.3" stroke-linecap="round" fill="none"/><path d="M-83.4 -12.9L-83.4 -5.1M-83.4 -12.9L-73.1 -16.7M-83.4 -5.1L-73.1 -1.3M-73.1 -16.7L-62.8 -12.9M-73.1 -1.3L-73.1 6.5M-73.1 -1.3L-62.8 -5.1M-73.1 6.5L-62.8 10.3M-62.8 -12.9L-62.8 -5.1M-62.8 -12.9L-52.5 -16.7M-62.8 -5.1L-52.5 -1.3M-62.8 10.3L-62.8 18.1M-62.8 10.3L-52.5 6.5M-62.8 18.1L-52.5 21.9M-52.5 -24.5L-52.5 -16.7M-52.5 -24.5L-42.2 -28.3M-52.5 -16.7L-42.2 -12.9M-52.5 -1.3L-52.5 6.5M-52.5 -1.3L-42.2 -5.1M-52.5 6.5L-42.2 10.3M-52.5 21.9L-42.2 18.1M-42.2 -28.3L-31.9 -24.5M-42.2 -12.9L-42.2 -5.1M-42.2 -12.9L-31.9 -16.7M-42.2 -5.1L-31.9 -1.3M-42.2 10.3L-42.2 18.1M-42.2 10.3L-31.9 6.5M-42.2 18.1L-31.9 21.9M-31.9 -24.5L-31.9 -16.7M-31.9 -24.5L-21.6 -28.3M-31.9 -16.7L-21.6 -12.9M-31.9 -1.3L-31.9 6.5M-31.9 -1.3L-21.6 -5.1M-31.9 6.5L-21.6 10.3M-31.9 21.9L-21.6 18.1M-21.6 -28.3L-11.3 -24.5M-21.6 -12.9L-21.6 -5.1M-21.6 -12.9L-11.3 -16.7M-21.6 -5.1L-11.3 -1.3M-21.6 10.3L-21.6 18.1M-21.6 10.3L-11.3 6.5M-21.6 18.1L-11.3 21.9M-11.3 -24.5L-11.3 -16.7M-11.3 -24.5L-1.0 -28.3M-11.3 -16.7L-1.0 -12.9M-11.3 -1.3L-11.3 6.5M-11.3 -1.3L-1.0 -5.1M-11.3 6.5L-1.0 10.3M-11.3 21.9L-1.0 18.1M-1.0 -28.3L9.3 -24.5M-1.0 -12.9L-1.0 -5.1M-1.0 -12.9L9.3 -16.7M-1.0 -5.1L9.3 -1.3M-1.0 10.3L-1.0 18.1M-1.0 10.3L9.3 6.5M-1.0 18.1L9.3 21.9M9.3 -24.5L9.3 -16.7M9.3 -24.5L19.6 -28.3M9.3 -16.7L19.6 -12.9M9.3 -1.3L9.3 6.5M9.3 -1.3L19.6 -5.1M9.3 6.5L19.6 10.3M9.3 21.9L19.6 18.1M19.6 -28.3L29.9 -24.5M19.6 -12.9L19.6 -5.1M19.6 -12.9L29.9 -16.7M19.6 -5.1L29.9 -1.3M19.6 10.3L19.6 18.1M19.6 10.3L29.9 6.5M19.6 18.1L29.9 21.9M29.9 -24.5L29.9 -16.7M29.9 -24.5L40.2 -28.3M29.9 -16.7L40.2 -12.9M29.9 -1.3L29.9 6.5M29.9 -1.3L40.2 -5.1M29.9 6.5L40.2 10.3M29.9 21.9L40.2 18.1M40.2 -28.3L50.5 -24.5M40.2 -12.9L40.2 -5.1M40.2 -12.9L50.5 -16.7M40.2 -5.1L50.5 -1.3M40.2 10.3L40.2 18.1M40.2 10.3L50.5 6.5M40.2 18.1L50.5 21.9M50.5 -24.5L50.5 -16.7M50.5 -16.7L60.8 -12.9M50.5 -1.3L50.5 6.5M50.5 -1.3L60.8 -5.1M50.5 6.5L60.8 10.3M50.5 21.9L60.8 18.1M60.8 -12.9L60.8 -5.1M60.8 -12.9L71.1 -16.7M60.8 -5.1L71.1 -1.3M60.8 10.3L60.8 18.1M60.8 10.3L71.1 6.5M71.1 -16.7L81.4 -12.9M71.1 -1.3L71.1 6.5M71.1 -1.3L81.4 -5.1M81.4 -12.9L81.4 -5.1" stroke="#505050" stroke-width="0.9" stroke-linecap="round" fill="none" transform="translate(-0.3 -0.6)"/><ellipse cx="-83.4" cy="-12.9" rx="3.3" ry="2.9" fill="#1e1e1e"/><ellipse cx="-83.4" cy="-5.1" rx="3.3" ry="2.9" fill="#1e1e1e"/><ellipse cx="-73.1" cy="-16.7" rx="3.3" ry="2.9" fill="#1e1e1e"/><ellipse cx="-73.1" cy="-1.3" rx="3.3" ry="2.9" fill="#1e1e1e"/><ellipse cx="-73.1" cy="6.5" rx="3.3" ry="2.9" fill="#1e1e1e"/><ellipse cx="-62.8" cy="-12.9" rx="3.3" ry="2.9" fill="#1e1e1e"/><ellipse cx="-62.8" cy="-5.1" rx="3.3" ry="2.9" fill="#1e1e1e"/><ellipse cx="-62.8" cy="10.3" rx="3.3" ry="2.9" fill="#1e1e1e"/><ellipse cx="-62.8" cy="18.1" rx="3.3" ry="2.9" fill="#1e1e1e"/><ellipse cx="-52.5" cy="-24.5" rx="3.3" ry="2.9" fill="#1e1e1e"/><ellipse cx="-52.5" cy="-16.7" rx="3.3" ry="2.9" fill="#1e1e1e"/><ellipse cx="-52.5" cy="-1.3" rx="3.3" ry="2.9" fill="#1e1e1e"/><ellipse cx="-52.5" cy="6.5" rx="3.3" ry="2.9" fill="#1e1e1e"/><ellipse cx="-52.5" cy="21.9" rx="3.3" ry="2.9" fill="#1e1e1e"/><ellipse cx="-42.2" cy="-28.3" rx="3.3" ry="2.9" fill="#1e1e1e"/><ellipse cx="-42.2" cy="-12.9" rx="3.3" ry="2.9" fill="#1e1e1e"/><ellipse cx="-42.2" cy="-5.1" rx="3.3" ry="2.9" fill="#1e1e1e"/><ellipse cx="-42.2" cy="10.3" rx="3.3" ry="2.9" fill="#1e1e1e"/><ellipse cx="-42.2" cy="18.1" rx="3.3" ry="2.9" fill="#1e1e1e"/><ellipse cx="-31.9" cy="-24.5" rx="3.3" ry="2.9" fill="#1e1e1e"/><ellipse cx="-31.9" cy="-16.7" rx="3.3" ry="2.9" fill="#1e1e1e"/><ellipse cx="-31.9" cy="-1.3" rx="3.3" ry="2.9" fill="#1e1e1e"/><ellipse cx="-31.9" cy="6.5" rx="3.3" ry="2.9" fill="#1e1e1e"/><ellipse cx="-31.9" cy="21.9" rx="3.3" ry="2.9" fill="#1e1e1e"/><ellipse cx="-21.6" cy="-28.3" rx="3.3" ry="2.9" fill="#1e1e1e"/><ellipse cx="-21.6" cy="-12.9" rx="3.3" ry="2.9" fill="#1e1e1e"/><ellipse cx="-21.6" cy="-5.1" rx="3.3" ry="2.9" fill="#1e1e1e"/><ellipse cx="-21.6" cy="10.3" rx="3.3" ry="2.9" fill="#1e1e1e"/><ellipse cx="-21.6" cy="18.1" rx="3.3" ry="2.9" fill="#1e1e1e"/><ellipse cx="-11.3" cy="-24.5" rx="3.3" ry="2.9" fill="#1e1e1e"/><ellipse cx="-11.3" cy="-16.7" rx="3.3" ry="2.9" fill="#1e1e1e"/><ellipse cx="-11.3" cy="-1.3" rx="3.3" ry="2.9" fill="#1e1e1e"/><ellipse cx="-11.3" cy="6.5" rx="3.3" ry="2.9" fill="#1e1e1e"/><ellipse cx="-11.3" cy="21.9" rx="3.3" ry="2.9" fill="#1e1e1e"/><ellipse cx="-1.0" cy="-28.3" rx="3.3" ry="2.9" fill="#1e1e1e"/><ellipse cx="-1.0" cy="-12.9" rx="3.3" ry="2.9" fill="#1e1e1e"/><ellipse cx="-1.0" cy="-5.1" rx="3.3" ry="2.9" fill="#1e1e1e"/><ellipse cx="-1.0" cy="10.3" rx="3.3" ry="2.9" fill="#1e1e1e"/><ellipse cx="-1.0" cy="18.1" rx="3.3" ry="2.9" fill="#1e1e1e"/><ellipse cx="9.3" cy="-24.5" rx="3.3" ry="2.9" fill="#1e1e1e"/><ellipse cx="9.3" cy="-16.7" rx="3.3" ry="2.9" fill="#1e1e1e"/><ellipse cx="9.3" cy="-1.3" rx="3.3" ry="2.9" fill="#1e1e1e"/><ellipse cx="9.3" cy="6.5" rx="3.3" ry="2.9" fill="#1e1e1e"/><ellipse cx="9.3" cy="21.9" rx="3.3" ry="2.9" fill="#1e1e1e"/><ellipse cx="19.6" cy="-28.3" rx="3.3" ry="2.9" fill="#1e1e1e"/><ellipse cx="19.6" cy="-12.9" rx="3.3" ry="2.9" fill="#1e1e1e"/><ellipse cx="19.6" cy="-5.1" rx="3.3" ry="2.9" fill="#1e1e1e"/><ellipse cx="19.6" cy="10.3" rx="3.3" ry="2.9" fill="#1e1e1e"/><ellipse cx="19.6" cy="18.1" rx="3.3" ry="2.9" fill="#1e1e1e"/><ellipse cx="29.9" cy="-24.5" rx="3.3" ry="2.9" fill="#1e1e1e"/><ellipse cx="29.9" cy="-16.7" rx="3.3" ry="2.9" fill="#1e1e1e"/><ellipse cx="29.9" cy="-1.3" rx="3.3" ry="2.9" fill="#1e1e1e"/><ellipse cx="29.9" cy="6.5" rx="3.3" ry="2.9" fill="#1e1e1e"/><ellipse cx="29.9" cy="21.9" rx="3.3" ry="2.9" fill="#1e1e1e"/><ellipse cx="40.2" cy="-28.3" rx="3.3" ry="2.9" fill="#1e1e1e"/><ellipse cx="40.2" cy="-12.9" rx="3.3" ry="2.9" fill="#1e1e1e"/><ellipse cx="40.2" cy="-5.1" rx="3.3" ry="2.9" fill="#1e1e1e"/><ellipse cx="40.2" cy="10.3" rx="3.3" ry="2.9" fill="#1e1e1e"/><ellipse cx="40.2" cy="18.1" rx="3.3" ry="2.9" fill="#1e1e1e"/><ellipse cx="50.5" cy="-24.5" rx="3.3" ry="2.9" fill="#1e1e1e"/><ellipse cx="50.5" cy="-16.7" rx="3.3" ry="2.9" fill="#1e1e1e"/><ellipse cx="50.5" cy="-1.3" rx="3.3" ry="2.9" fill="#1e1e1e"/><ellipse cx="50.5" cy="6.5" rx="3.3" ry="2.9" fill="#1e1e1e"/><ellipse cx="50.5" cy="21.9" rx="3.3" ry="2.9" fill="#1e1e1e"/><ellipse cx="60.8" cy="-12.9" rx="3.3" ry="2.9" fill="#1e1e1e"/><ellipse cx="60.8" cy="-5.1" rx="3.3" ry="2.9" fill="#1e1e1e"/><ellipse cx="60.8" cy="10.3" rx="3.3" ry="2.9" fill="#1e1e1e"/><ellipse cx="60.8" cy="18.1" rx="3.3" ry="2.9" fill="#1e1e1e"/><ellipse cx="71.1" cy="-16.7" rx="3.3" ry="2.9" fill="#1e1e1e"/><ellipse cx="71.1" cy="-1.3" rx="3.3" ry="2.9" fill="#1e1e1e"/><ellipse cx="71.1" cy="6.5" rx="3.3" ry="2.9" fill="#1e1e1e"/><ellipse cx="81.4" cy="-12.9" rx="3.3" ry="2.9" fill="#1e1e1e"/><ellipse cx="81.4" cy="-5.1" rx="3.3" ry="2.9" fill="#1e1e1e"/></g><ellipse cx="582.5" cy="125.80000000000001" rx="9.5" ry="6.5" fill="url(#gGlow)"/><ellipse cx="582.5" cy="121.80000000000001" rx="5.8" ry="7.6" fill="url(#gGold)"/><ellipse cx="582.2" cy="117.4" rx="3.2" ry="2.6" fill="#e2f21a" opacity="0.85"/><ellipse cx="614.3" cy="126.30000000000001" rx="9.5" ry="6.5" fill="url(#gGlow)"/><ellipse cx="614.3" cy="122.30000000000001" rx="5.8" ry="7.6" fill="url(#gGold)"/><ellipse cx="614.0" cy="117.9" rx="3.2" ry="2.6" fill="#e2f21a" opacity="0.85"/><ellipse cx="647.8" cy="126.80000000000001" rx="9.5" ry="6.5" fill="url(#gGlow)"/><ellipse cx="647.8" cy="122.80000000000001" rx="5.8" ry="7.6" fill="url(#gGold)"/><ellipse cx="647.5" cy="118.4" rx="3.2" ry="2.6" fill="#e2f21a" opacity="0.85"/><ellipse cx="552" cy="143.70000000000002" rx="9.5" ry="6.5" fill="url(#gGlow)"/><ellipse cx="552" cy="139.70000000000002" rx="5.8" ry="7.6" fill="url(#gGold)"/><ellipse cx="551.7" cy="135.3" rx="3.2" ry="2.6" fill="#e2f21a" opacity="0.85"/><ellipse cx="573" cy="152.5" rx="9.5" ry="6.5" fill="url(#gGlow)"/><ellipse cx="573" cy="148.5" rx="5.8" ry="7.6" fill="url(#gGold)"/><ellipse cx="572.7" cy="144.1" rx="3.2" ry="2.6" fill="#e2f21a" opacity="0.85"/><ellipse cx="602" cy="150.5" rx="9.5" ry="6.5" fill="url(#gGlow)"/><ellipse cx="602" cy="146.5" rx="5.8" ry="7.6" fill="url(#gGold)"/><ellipse cx="601.7" cy="142.1" rx="3.2" ry="2.6" fill="#e2f21a" opacity="0.85"/><ellipse cx="633" cy="150.5" rx="9.5" ry="6.5" fill="url(#gGlow)"/><ellipse cx="633" cy="146.5" rx="5.8" ry="7.6" fill="url(#gGold)"/><ellipse cx="632.7" cy="142.1" rx="3.2" ry="2.6" fill="#e2f21a" opacity="0.85"/><ellipse cx="667.5" cy="142.3" rx="9.5" ry="6.5" fill="url(#gGlow)"/><ellipse cx="667.5" cy="138.3" rx="5.8" ry="7.6" fill="url(#gGold)"/><ellipse cx="667.2" cy="133.9" rx="3.2" ry="2.6" fill="#e2f21a" opacity="0.85"/><g transform="translate(617.5 577.7) rotate(1.9) scale(1 1.0)"><path d="M-84 -6 A89.8 41.800000000000004 0 1 0 84 -6 Z" fill="#58b8f2" opacity="0.65" filter="url(#fBlur1)"/><path d="M-83.4 -6 A88.8 40.2 0 1 0 83.4 -6 Z" fill="url(#gRim)"/><path d="M-88 9 A88 34.5 0 0 0 88 9" fill="none" stroke="#506274" stroke-width="1.6" opacity="0.55" filter="url(#fBlur1)"/><ellipse cx="0" cy="3.2" rx="85.6" ry="32.4" fill="url(#gWall2)"/><ellipse cx="0" cy="-3" rx="84.8" ry="28.2" fill="url(#gLip)"/><ellipse cx="0" cy="-2.6" rx="82.3" ry="26.2" fill="#064c82" filter="url(#fBlur1)"/><ellipse cx="0" cy="-0.8" rx="75" ry="21.6" fill="url(#gFloor)" filter="url(#fBlur2)"/></g><g font-family="'Liberation Sans', Arial, sans-serif" font-weight="bold" font-size="19.6" fill="#fff" text-anchor="middle" opacity="0.88" filter="url(#fTxt)"><text x="619.7" y="573.2">Working</text><text x="619.6" y="597.2">Electrode</text></g><g transform="translate(617.5 577.7)"><path d="M-83.4 -12.9L-83.4 -5.1M-83.4 -12.9L-73.1 -16.7M-83.4 -5.1L-73.1 -1.3M-73.1 -16.7L-62.8 -12.9M-73.1 -1.3L-73.1 6.5M-73.1 -1.3L-62.8 -5.1M-73.1 6.5L-62.8 10.3M-62.8 -12.9L-62.8 -5.1M-62.8 -12.9L-52.5 -16.7M-62.8 -5.1L-52.5 -1.3M-62.8 10.3L-62.8 18.1M-62.8 10.3L-52.5 6.5M-62.8 18.1L-52.5 21.9M-52.5 -24.5L-52.5 -16.7M-52.5 -24.5L-42.2 -28.3M-52.5 -16.7L-42.2 -12.9M-52.5 -1.3L-52.5 6.5M-52.5 -1.3L-42.2 -5.1M-52.5 6.5L-42.2 10.3M-52.5 21.9L-42.2 18.1M-42.2 -28.3L-31.9 -24.5M-42.2 -12.9L-42.2 -5.1M-42.2 -12.9L-31.9 -16.7M-42.2 -5.1L-31.9 -1.3M-42.2 10.3L-42.2 18.1M-42.2 10.3L-31.9 6.5M-42.2 18.1L-31.9 21.9M-31.9 -24.5L-31.9 -16.7M-31.9 -24.5L-21.6 -28.3M-31.9 -16.7L-21.6 -12.9M-31.9 -1.3L-31.9 6.5M-31.9 -1.3L-21.6 -5.1M-31.9 6.5L-21.6 10.3M-31.9 21.9L-21.6 18.1M-21.6 -28.3L-11.3 -24.5M-21.6 -12.9L-21.6 -5.1M-21.6 -12.9L-11.3 -16.7M-21.6 -5.1L-11.3 -1.3M-21.6 10.3L-21.6 18.1M-21.6 10.3L-11.3 6.5M-21.6 18.1L-11.3 21.9M-11.3 -24.5L-11.3 -16.7M-11.3 -24.5L-1.0 -28.3M-11.3 -16.7L-1.0 -12.9M-11.3 -1.3L-11.3 6.5M-11.3 -1.3L-1.0 -5.1M-11.3 6.5L-1.0 10.3M-11.3 21.9L-1.0 18.1M-1.0 -28.3L9.3 -24.5M-1.0 -12.9L-1.0 -5.1M-1.0 -12.9L9.3 -16.7M-1.0 -5.1L9.3 -1.3M-1.0 10.3L-1.0 18.1M-1.0 10.3L9.3 6.5M-1.0 18.1L9.3 21.9M9.3 -24.5L9.3 -16.7M9.3 -24.5L19.6 -28.3M9.3 -16.7L19.6 -12.9M9.3 -1.3L9.3 6.5M9.3 -1.3L19.6 -5.1M9.3 6.5L19.6 10.3M9.3 21.9L19.6 18.1M19.6 -28.3L29.9 -24.5M19.6 -12.9L19.6 -5.1M19.6 -12.9L29.9 -16.7M19.6 -5.1L29.9 -1.3M19.6 10.3L19.6 18.1M19.6 10.3L29.9 6.5M19.6 18.1L29.9 21.9M29.9 -24.5L29.9 -16.7M29.9 -24.5L40.2 -28.3M29.9 -16.7L40.2 -12.9M29.9 -1.3L29.9 6.5M29.9 -1.3L40.2 -5.1M29.9 6.5L40.2 10.3M29.9 21.9L40.2 18.1M40.2 -28.3L50.5 -24.5M40.2 -12.9L40.2 -5.1M40.2 -12.9L50.5 -16.7M40.2 -5.1L50.5 -1.3M40.2 10.3L40.2 18.1M40.2 10.3L50.5 6.5M40.2 18.1L50.5 21.9M50.5 -24.5L50.5 -16.7M50.5 -16.7L60.8 -12.9M50.5 -1.3L50.5 6.5M50.5 -1.3L60.8 -5.1M50.5 6.5L60.8 10.3M50.5 21.9L60.8 18.1M60.8 -12.9L60.8 -5.1M60.8 -12.9L71.1 -16.7M60.8 -5.1L71.1 -1.3M60.8 10.3L60.8 18.1M60.8 10.3L71.1 6.5M71.1 -16.7L81.4 -12.9M71.1 -1.3L71.1 6.5M71.1 -1.3L81.4 -5.1M81.4 -12.9L81.4 -5.1" stroke="#05365e" stroke-width="3.6" stroke-linecap="round" fill="none" opacity="0.45" transform="translate(1 2.4)"/><path d="M-83.4 -12.9L-83.4 -5.1M-83.4 -12.9L-73.1 -16.7M-83.4 -5.1L-73.1 -1.3M-73.1 -16.7L-62.8 -12.9M-73.1 -1.3L-73.1 6.5M-73.1 -1.3L-62.8 -5.1M-73.1 6.5L-62.8 10.3M-62.8 -12.9L-62.8 -5.1M-62.8 -12.9L-52.5 -16.7M-62.8 -5.1L-52.5 -1.3M-62.8 10.3L-62.8 18.1M-62.8 10.3L-52.5 6.5M-62.8 18.1L-52.5 21.9M-52.5 -24.5L-52.5 -16.7M-52.5 -24.5L-42.2 -28.3M-52.5 -16.7L-42.2 -12.9M-52.5 -1.3L-52.5 6.5M-52.5 -1.3L-42.2 -5.1M-52.5 6.5L-42.2 10.3M-52.5 21.9L-42.2 18.1M-42.2 -28.3L-31.9 -24.5M-42.2 -12.9L-42.2 -5.1M-42.2 -12.9L-31.9 -16.7M-42.2 -5.1L-31.9 -1.3M-42.2 10.3L-42.2 18.1M-42.2 10.3L-31.9 6.5M-42.2 18.1L-31.9 21.9M-31.9 -24.5L-31.9 -16.7M-31.9 -24.5L-21.6 -28.3M-31.9 -16.7L-21.6 -12.9M-31.9 -1.3L-31.9 6.5M-31.9 -1.3L-21.6 -5.1M-31.9 6.5L-21.6 10.3M-31.9 21.9L-21.6 18.1M-21.6 -28.3L-11.3 -24.5M-21.6 -12.9L-21.6 -5.1M-21.6 -12.9L-11.3 -16.7M-21.6 -5.1L-11.3 -1.3M-21.6 10.3L-21.6 18.1M-21.6 10.3L-11.3 6.5M-21.6 18.1L-11.3 21.9M-11.3 -24.5L-11.3 -16.7M-11.3 -24.5L-1.0 -28.3M-11.3 -16.7L-1.0 -12.9M-11.3 -1.3L-11.3 6.5M-11.3 -1.3L-1.0 -5.1M-11.3 6.5L-1.0 10.3M-11.3 21.9L-1.0 18.1M-1.0 -28.3L9.3 -24.5M-1.0 -12.9L-1.0 -5.1M-1.0 -12.9L9.3 -16.7M-1.0 -5.1L9.3 -1.3M-1.0 10.3L-1.0 18.1M-1.0 10.3L9.3 6.5M-1.0 18.1L9.3 21.9M9.3 -24.5L9.3 -16.7M9.3 -24.5L19.6 -28.3M9.3 -16.7L19.6 -12.9M9.3 -1.3L9.3 6.5M9.3 -1.3L19.6 -5.1M9.3 6.5L19.6 10.3M9.3 21.9L19.6 18.1M19.6 -28.3L29.9 -24.5M19.6 -12.9L19.6 -5.1M19.6 -12.9L29.9 -16.7M19.6 -5.1L29.9 -1.3M19.6 10.3L19.6 18.1M19.6 10.3L29.9 6.5M19.6 18.1L29.9 21.9M29.9 -24.5L29.9 -16.7M29.9 -24.5L40.2 -28.3M29.9 -16.7L40.2 -12.9M29.9 -1.3L29.9 6.5M29.9 -1.3L40.2 -5.1M29.9 6.5L40.2 10.3M29.9 21.9L40.2 18.1M40.2 -28.3L50.5 -24.5M40.2 -12.9L40.2 -5.1M40.2 -12.9L50.5 -16.7M40.2 -5.1L50.5 -1.3M40.2 10.3L40.2 18.1M40.2 10.3L50.5 6.5M40.2 18.1L50.5 21.9M50.5 -24.5L50.5 -16.7M50.5 -16.7L60.8 -12.9M50.5 -1.3L50.5 6.5M50.5 -1.3L60.8 -5.1M50.5 6.5L60.8 10.3M50.5 21.9L60.8 18.1M60.8 -12.9L60.8 -5.1M60.8 -12.9L71.1 -16.7M60.8 -5.1L71.1 -1.3M60.8 10.3L60.8 18.1M60.8 10.3L71.1 6.5M71.1 -16.7L81.4 -12.9M71.1 -1.3L71.1 6.5M71.1 -1.3L81.4 -5.1M81.4 -12.9L81.4 -5.1" stroke="#1a1a1a" stroke-width="4.3" stroke-linecap="round" fill="none"/><path d="M-83.4 -12.9L-83.4 -5.1M-83.4 -12.9L-73.1 -16.7M-83.4 -5.1L-73.1 -1.3M-73.1 -16.7L-62.8 -12.9M-73.1 -1.3L-73.1 6.5M-73.1 -1.3L-62.8 -5.1M-73.1 6.5L-62.8 10.3M-62.8 -12.9L-62.8 -5.1M-62.8 -12.9L-52.5 -16.7M-62.8 -5.1L-52.5 -1.3M-62.8 10.3L-62.8 18.1M-62.8 10.3L-52.5 6.5M-62.8 18.1L-52.5 21.9M-52.5 -24.5L-52.5 -16.7M-52.5 -24.5L-42.2 -28.3M-52.5 -16.7L-42.2 -12.9M-52.5 -1.3L-52.5 6.5M-52.5 -1.3L-42.2 -5.1M-52.5 6.5L-42.2 10.3M-52.5 21.9L-42.2 18.1M-42.2 -28.3L-31.9 -24.5M-42.2 -12.9L-42.2 -5.1M-42.2 -12.9L-31.9 -16.7M-42.2 -5.1L-31.9 -1.3M-42.2 10.3L-42.2 18.1M-42.2 10.3L-31.9 6.5M-42.2 18.1L-31.9 21.9M-31.9 -24.5L-31.9 -16.7M-31.9 -24.5L-21.6 -28.3M-31.9 -16.7L-21.6 -12.9M-31.9 -1.3L-31.9 6.5M-31.9 -1.3L-21.6 -5.1M-31.9 6.5L-21.6 10.3M-31.9 21.9L-21.6 18.1M-21.6 -28.3L-11.3 -24.5M-21.6 -12.9L-21.6 -5.1M-21.6 -12.9L-11.3 -16.7M-21.6 -5.1L-11.3 -1.3M-21.6 10.3L-21.6 18.1M-21.6 10.3L-11.3 6.5M-21.6 18.1L-11.3 21.9M-11.3 -24.5L-11.3 -16.7M-11.3 -24.5L-1.0 -28.3M-11.3 -16.7L-1.0 -12.9M-11.3 -1.3L-11.3 6.5M-11.3 -1.3L-1.0 -5.1M-11.3 6.5L-1.0 10.3M-11.3 21.9L-1.0 18.1M-1.0 -28.3L9.3 -24.5M-1.0 -12.9L-1.0 -5.1M-1.0 -12.9L9.3 -16.7M-1.0 -5.1L9.3 -1.3M-1.0 10.3L-1.0 18.1M-1.0 10.3L9.3 6.5M-1.0 18.1L9.3 21.9M9.3 -24.5L9.3 -16.7M9.3 -24.5L19.6 -28.3M9.3 -16.7L19.6 -12.9M9.3 -1.3L9.3 6.5M9.3 -1.3L19.6 -5.1M9.3 6.5L19.6 10.3M9.3 21.9L19.6 18.1M19.6 -28.3L29.9 -24.5M19.6 -12.9L19.6 -5.1M19.6 -12.9L29.9 -16.7M19.6 -5.1L29.9 -1.3M19.6 10.3L19.6 18.1M19.6 10.3L29.9 6.5M19.6 18.1L29.9 21.9M29.9 -24.5L29.9 -16.7M29.9 -24.5L40.2 -28.3M29.9 -16.7L40.2 -12.9M29.9 -1.3L29.9 6.5M29.9 -1.3L40.2 -5.1M29.9 6.5L40.2 10.3M29.9 21.9L40.2 18.1M40.2 -28.3L50.5 -24.5M40.2 -12.9L40.2 -5.1M40.2 -12.9L50.5 -16.7M40.2 -5.1L50.5 -1.3M40.2 10.3L40.2 18.1M40.2 10.3L50.5 6.5M40.2 18.1L50.5 21.9M50.5 -24.5L50.5 -16.7M50.5 -16.7L60.8 -12.9M50.5 -1.3L50.5 6.5M50.5 -1.3L60.8 -5.1M50.5 6.5L60.8 10.3M50.5 21.9L60.8 18.1M60.8 -12.9L60.8 -5.1M60.8 -12.9L71.1 -16.7M60.8 -5.1L71.1 -1.3M60.8 10.3L60.8 18.1M60.8 10.3L71.1 6.5M71.1 -16.7L81.4 -12.9M71.1 -1.3L71.1 6.5M71.1 -1.3L81.4 -5.1M81.4 -12.9L81.4 -5.1" stroke="#505050" stroke-width="0.9" stroke-linecap="round" fill="none" transform="translate(-0.3 -0.6)"/><ellipse cx="-83.4" cy="-12.9" rx="3.3" ry="2.9" fill="#1e1e1e"/><ellipse cx="-83.4" cy="-5.1" rx="3.3" ry="2.9" fill="#1e1e1e"/><ellipse cx="-73.1" cy="-16.7" rx="3.3" ry="2.9" fill="#1e1e1e"/><ellipse cx="-73.1" cy="-1.3" rx="3.3" ry="2.9" fill="#1e1e1e"/><ellipse cx="-73.1" cy="6.5" rx="3.3" ry="2.9" fill="#1e1e1e"/><ellipse cx="-62.8" cy="-12.9" rx="3.3" ry="2.9" fill="#1e1e1e"/><ellipse cx="-62.8" cy="-5.1" rx="3.3" ry="2.9" fill="#1e1e1e"/><ellipse cx="-62.8" cy="10.3" rx="3.3" ry="2.9" fill="#1e1e1e"/><ellipse cx="-62.8" cy="18.1" rx="3.3" ry="2.9" fill="#1e1e1e"/><ellipse cx="-52.5" cy="-24.5" rx="3.3" ry="2.9" fill="#1e1e1e"/><ellipse cx="-52.5" cy="-16.7" rx="3.3" ry="2.9" fill="#1e1e1e"/><ellipse cx="-52.5" cy="-1.3" rx="3.3" ry="2.9" fill="#1e1e1e"/><ellipse cx="-52.5" cy="6.5" rx="3.3" ry="2.9" fill="#1e1e1e"/><ellipse cx="-52.5" cy="21.9" rx="3.3" ry="2.9" fill="#1e1e1e"/><ellipse cx="-42.2" cy="-28.3" rx="3.3" ry="2.9" fill="#1e1e1e"/><ellipse cx="-42.2" cy="-12.9" rx="3.3" ry="2.9" fill="#1e1e1e"/><ellipse cx="-42.2" cy="-5.1" rx="3.3" ry="2.9" fill="#1e1e1e"/><ellipse cx="-42.2" cy="10.3" rx="3.3" ry="2.9" fill="#1e1e1e"/><ellipse cx="-42.2" cy="18.1" rx="3.3" ry="2.9" fill="#1e1e1e"/><ellipse cx="-31.9" cy="-24.5" rx="3.3" ry="2.9" fill="#1e1e1e"/><ellipse cx="-31.9" cy="-16.7" rx="3.3" ry="2.9" fill="#1e1e1e"/><ellipse cx="-31.9" cy="-1.3" rx="3.3" ry="2.9" fill="#1e1e1e"/><ellipse cx="-31.9" cy="6.5" rx="3.3" ry="2.9" fill="#1e1e1e"/><ellipse cx="-31.9" cy="21.9" rx="3.3" ry="2.9" fill="#1e1e1e"/><ellipse cx="-21.6" cy="-28.3" rx="3.3" ry="2.9" fill="#1e1e1e"/><ellipse cx="-21.6" cy="-12.9" rx="3.3" ry="2.9" fill="#1e1e1e"/><ellipse cx="-21.6" cy="-5.1" rx="3.3" ry="2.9" fill="#1e1e1e"/><ellipse cx="-21.6" cy="10.3" rx="3.3" ry="2.9" fill="#1e1e1e"/><ellipse cx="-21.6" cy="18.1" rx="3.3" ry="2.9" fill="#1e1e1e"/><ellipse cx="-11.3" cy="-24.5" rx="3.3" ry="2.9" fill="#1e1e1e"/><ellipse cx="-11.3" cy="-16.7" rx="3.3" ry="2.9" fill="#1e1e1e"/><ellipse cx="-11.3" cy="-1.3" rx="3.3" ry="2.9" fill="#1e1e1e"/><ellipse cx="-11.3" cy="6.5" rx="3.3" ry="2.9" fill="#1e1e1e"/><ellipse cx="-11.3" cy="21.9" rx="3.3" ry="2.9" fill="#1e1e1e"/><ellipse cx="-1.0" cy="-28.3" rx="3.3" ry="2.9" fill="#1e1e1e"/><ellipse cx="-1.0" cy="-12.9" rx="3.3" ry="2.9" fill="#1e1e1e"/><ellipse cx="-1.0" cy="-5.1" rx="3.3" ry="2.9" fill="#1e1e1e"/><ellipse cx="-1.0" cy="10.3" rx="3.3" ry="2.9" fill="#1e1e1e"/><ellipse cx="-1.0" cy="18.1" rx="3.3" ry="2.9" fill="#1e1e1e"/><ellipse cx="9.3" cy="-24.5" rx="3.3" ry="2.9" fill="#1e1e1e"/><ellipse cx="9.3" cy="-16.7" rx="3.3" ry="2.9" fill="#1e1e1e"/><ellipse cx="9.3" cy="-1.3" rx="3.3" ry="2.9" fill="#1e1e1e"/><ellipse cx="9.3" cy="6.5" rx="3.3" ry="2.9" fill="#1e1e1e"/><ellipse cx="9.3" cy="21.9" rx="3.3" ry="2.9" fill="#1e1e1e"/><ellipse cx="19.6" cy="-28.3" rx="3.3" ry="2.9" fill="#1e1e1e"/><ellipse cx="19.6" cy="-12.9" rx="3.3" ry="2.9" fill="#1e1e1e"/><ellipse cx="19.6" cy="-5.1" rx="3.3" ry="2.9" fill="#1e1e1e"/><ellipse cx="19.6" cy="10.3" rx="3.3" ry="2.9" fill="#1e1e1e"/><ellipse cx="19.6" cy="18.1" rx="3.3" ry="2.9" fill="#1e1e1e"/><ellipse cx="29.9" cy="-24.5" rx="3.3" ry="2.9" fill="#1e1e1e"/><ellipse cx="29.9" cy="-16.7" rx="3.3" ry="2.9" fill="#1e1e1e"/><ellipse cx="29.9" cy="-1.3" rx="3.3" ry="2.9" fill="#1e1e1e"/><ellipse cx="29.9" cy="6.5" rx="3.3" ry="2.9" fill="#1e1e1e"/><ellipse cx="29.9" cy="21.9" rx="3.3" ry="2.9" fill="#1e1e1e"/><ellipse cx="40.2" cy="-28.3" rx="3.3" ry="2.9" fill="#1e1e1e"/><ellipse cx="40.2" cy="-12.9" rx="3.3" ry="2.9" fill="#1e1e1e"/><ellipse cx="40.2" cy="-5.1" rx="3.3" ry="2.9" fill="#1e1e1e"/><ellipse cx="40.2" cy="10.3" rx="3.3" ry="2.9" fill="#1e1e1e"/><ellipse cx="40.2" cy="18.1" rx="3.3" ry="2.9" fill="#1e1e1e"/><ellipse cx="50.5" cy="-24.5" rx="3.3" ry="2.9" fill="#1e1e1e"/><ellipse cx="50.5" cy="-16.7" rx="3.3" ry="2.9" fill="#1e1e1e"/><ellipse cx="50.5" cy="-1.3" rx="3.3" ry="2.9" fill="#1e1e1e"/><ellipse cx="50.5" cy="6.5" rx="3.3" ry="2.9" fill="#1e1e1e"/><ellipse cx="50.5" cy="21.9" rx="3.3" ry="2.9" fill="#1e1e1e"/><ellipse cx="60.8" cy="-12.9" rx="3.3" ry="2.9" fill="#1e1e1e"/><ellipse cx="60.8" cy="-5.1" rx="3.3" ry="2.9" fill="#1e1e1e"/><ellipse cx="60.8" cy="10.3" rx="3.3" ry="2.9" fill="#1e1e1e"/><ellipse cx="60.8" cy="18.1" rx="3.3" ry="2.9" fill="#1e1e1e"/><ellipse cx="71.1" cy="-16.7" rx="3.3" ry="2.9" fill="#1e1e1e"/><ellipse cx="71.1" cy="-1.3" rx="3.3" ry="2.9" fill="#1e1e1e"/><ellipse cx="71.1" cy="6.5" rx="3.3" ry="2.9" fill="#1e1e1e"/><ellipse cx="81.4" cy="-12.9" rx="3.3" ry="2.9" fill="#1e1e1e"/><ellipse cx="81.4" cy="-5.1" rx="3.3" ry="2.9" fill="#1e1e1e"/></g><ellipse cx="598.0" cy="559.2" rx="9.5" ry="6.5" fill="url(#gGlow)"/><ellipse cx="598.0" cy="555.2" rx="5.8" ry="7.6" fill="url(#gGold)"/><ellipse cx="597.7" cy="550.8000000000001" rx="3.2" ry="2.6" fill="#e2f21a" opacity="0.85"/><ellipse cx="629.8" cy="559.7" rx="9.5" ry="6.5" fill="url(#gGlow)"/><ellipse cx="629.8" cy="555.7" rx="5.8" ry="7.6" fill="url(#gGold)"/><ellipse cx="629.5" cy="551.3000000000001" rx="3.2" ry="2.6" fill="#e2f21a" opacity="0.85"/><ellipse cx="663.3" cy="560.2" rx="9.5" ry="6.5" fill="url(#gGlow)"/><ellipse cx="663.3" cy="556.2" rx="5.8" ry="7.6" fill="url(#gGold)"/><ellipse cx="663.0" cy="551.8000000000001" rx="3.2" ry="2.6" fill="#e2f21a" opacity="0.85"/><ellipse cx="567.5" cy="577.1" rx="9.5" ry="6.5" fill="url(#gGlow)"/><ellipse cx="567.5" cy="573.1" rx="5.8" ry="7.6" fill="url(#gGold)"/><ellipse cx="567.2" cy="568.7" rx="3.2" ry="2.6" fill="#e2f21a" opacity="0.85"/><ellipse cx="588.5" cy="585.9000000000001" rx="9.5" ry="6.5" fill="url(#gGlow)"/><ellipse cx="588.5" cy="581.9000000000001" rx="5.8" ry="7.6" fill="url(#gGold)"/><ellipse cx="588.2" cy="577.5000000000001" rx="3.2" ry="2.6" fill="#e2f21a" opacity="0.85"/><ellipse cx="617.5" cy="583.9000000000001" rx="9.5" ry="6.5" fill="url(#gGlow)"/><ellipse cx="617.5" cy="579.9000000000001" rx="5.8" ry="7.6" fill="url(#gGold)"/><ellipse cx="617.2" cy="575.5000000000001" rx="3.2" ry="2.6" fill="#e2f21a" opacity="0.85"/><ellipse cx="648.5" cy="583.9000000000001" rx="9.5" ry="6.5" fill="url(#gGlow)"/><ellipse cx="648.5" cy="579.9000000000001" rx="5.8" ry="7.6" fill="url(#gGold)"/><ellipse cx="648.2" cy="575.5000000000001" rx="3.2" ry="2.6" fill="#e2f21a" opacity="0.85"/><ellipse cx="683.0" cy="575.7" rx="9.5" ry="6.5" fill="url(#gGlow)"/><ellipse cx="683.0" cy="571.7" rx="5.8" ry="7.6" fill="url(#gGold)"/><ellipse cx="682.7" cy="567.3000000000001" rx="3.2" ry="2.6" fill="#e2f21a" opacity="0.85"/><path d="M45.9 182.3L45.3 184.1L44.4 185.7L43.2 187.0L42.0 188.2L40.6 189.4L39.4 190.8L38.0 192.3L36.6 193.8L35.1 195.3L33.8 197.0L32.6 198.9L31.7 201.0L31.2 203.3L31.2 205.7L31.2 207.8L31.7 209.7L32.8 211.4L34.0 212.8L35.4 214.1L36.8 215.2L38.3 216.3L39.7 217.4L40.9 218.4L42.0 219.4L42.9 220.4L43.4 221.3L44.0 222.1L44.4 223.0L44.0 224.1L43.5 225.0L42.9 226.0L42.1 227.0L41.1 228.1L39.9 229.2L38.6 230.3L37.3 231.4L36.0 232.7L34.7 234.0L33.6 235.5L32.6 237.3L32.2 239.2L32.2 241.3L32.2 243.7L32.6 246.0L33.3 248.1L34.3 250.1L35.4 251.8L36.6 253.5L37.8 255.0L39.0 256.5L40.1 257.9L41.0 259.4L41.8 260.8L42.8 262.2L43.9 263.7L44.7 265.7L46.1 265.5L46.6 263.3L46.7 261.0L46.3 258.8L45.3 256.8L44.2 255.1L43.0 253.4L41.8 251.9L40.6 250.4L39.5 249.0L38.6 247.5L37.8 246.1L37.0 244.6L36.5 243.1L36.2 241.3L36.6 240.2L37.1 239.3L37.7 238.3L38.5 237.3L39.5 236.2L40.7 235.1L42.0 234.0L43.3 232.9L44.6 231.6L45.9 230.3L47.0 228.8L48.0 227.0L48.4 225.1L48.4 223.0L48.4 220.9L47.9 219.0L46.8 217.3L45.6 215.9L44.2 214.6L42.8 213.5L41.3 212.4L39.9 211.3L38.7 210.3L37.6 209.3L36.7 208.3L36.2 207.4L35.6 206.6L35.2 205.7L35.6 204.1L36.2 202.7L36.9 201.3L37.8 200.0L39.0 198.6L40.2 197.2L41.6 195.7L43.0 194.2L44.5 192.7L45.6 190.8L46.5 188.8L47.0 186.7L47.1 184.5L46.9 182.3Z" fill="#cc00b6" stroke="#cc00b6" stroke-width="0.5" stroke-linejoin="round"/><path d="M31.2 207.8L31.7 209.7L32.8 211.4L34.0 212.8L35.4 214.1L36.8 215.2L38.3 216.3L39.7 217.4L40.9 218.4L42.0 219.4L42.9 220.4L43.4 221.3L44.0 222.1L44.4 223.0L48.4 223.0L48.4 220.9L47.9 219.0L46.8 217.3L45.6 215.9L44.2 214.6L42.8 213.5L41.3 212.4L39.9 211.3L38.7 210.3L37.6 209.3L36.7 208.3L36.2 207.4L35.6 206.6Z" fill="#9c0a94" stroke="#9c0a94" stroke-width="0.5" stroke-linejoin="round"/><path d="M32.2 243.7L32.6 246.0L33.3 248.1L34.3 250.1L35.4 251.8L36.6 253.5L37.8 255.0L39.0 256.5L40.1 257.9L41.0 259.4L41.8 260.8L42.8 262.2L43.9 263.7L44.7 265.7L46.1 265.5L46.6 263.3L46.7 261.0L46.3 258.8L45.3 256.8L44.2 255.1L43.0 253.4L41.8 251.9L40.6 250.4L39.5 249.0L38.6 247.5L37.8 246.1L37.0 244.6L36.5 243.1Z" fill="#9c0a94" stroke="#9c0a94" stroke-width="0.5" stroke-linejoin="round"/><path d="M77.4 175.2L76.4 178.6L74.8 181.4L73.1 184.0L71.4 186.6L69.4 189.2L67.2 191.8L64.9 194.4L62.4 197.0L60.1 199.7L57.9 202.6L55.9 205.7L54.5 209.2L53.7 212.9L53.5 216.9L53.5 219.2L54.0 221.5L54.9 223.5L56.1 225.2L57.5 226.8L58.9 228.3L60.3 229.7L61.7 231.1L63.0 232.4L64.1 233.7L65.0 235.0L65.7 236.2L66.3 237.5L66.7 239.0L66.4 240.0L65.9 240.8L65.4 241.6L64.7 242.5L63.9 243.5L63.0 244.4L61.9 245.4L60.8 246.5L59.7 247.6L58.6 248.9L57.7 250.2L56.9 251.8L56.6 253.6L56.6 255.5L56.6 257.7L56.9 259.9L57.6 261.9L58.4 263.6L59.5 265.3L60.6 266.8L61.7 268.2L62.7 269.5L63.7 270.9L64.5 272.2L65.3 273.5L66.3 274.7L67.3 276.1L68.0 277.9L69.4 277.7L69.8 275.7L70.0 273.5L69.7 271.4L68.9 269.7L67.8 268.0L66.7 266.5L65.6 265.1L64.6 263.8L63.6 262.4L62.8 261.1L62.0 259.8L61.4 258.5L60.9 257.1L60.6 255.5L60.9 254.5L61.4 253.7L61.9 252.9L62.6 252.0L63.4 251.0L64.3 250.1L65.4 249.1L66.5 248.0L67.6 246.9L68.7 245.6L69.6 244.3L70.4 242.7L70.7 240.9L70.7 239.0L70.7 236.7L70.2 234.4L69.3 232.4L68.1 230.7L66.7 229.1L65.3 227.6L63.9 226.2L62.5 224.8L61.2 223.5L60.1 222.2L59.2 220.9L58.5 219.7L57.9 218.4L57.5 216.9L58.0 213.7L59.0 210.8L60.3 208.1L62.0 205.5L64.0 202.9L66.2 200.3L68.5 197.7L71.0 195.1L73.3 192.4L75.5 189.5L77.5 186.4L78.5 182.8L78.8 179.0L78.4 175.2Z" fill="#cc00b6" stroke="#cc00b6" stroke-width="0.5" stroke-linejoin="round"/><path d="M53.5 219.2L54.0 221.5L54.9 223.5L56.1 225.2L57.5 226.8L58.9 228.3L60.3 229.7L61.7 231.1L63.0 232.4L64.1 233.7L65.0 235.0L65.7 236.2L66.3 237.5L66.7 239.0L70.7 239.0L70.7 236.7L70.2 234.4L69.3 232.4L68.1 230.7L66.7 229.1L65.3 227.6L63.9 226.2L62.5 224.8L61.2 223.5L60.1 222.2L59.2 220.9L58.5 219.7L57.9 218.4Z" fill="#9c0a94" stroke="#9c0a94" stroke-width="0.5" stroke-linejoin="round"/><path d="M56.6 257.7L56.9 259.9L57.6 261.9L58.4 263.6L59.5 265.3L60.6 266.8L61.7 268.2L62.7 269.5L63.7 270.9L64.5 272.2L65.3 273.5L66.3 274.7L67.3 276.1L68.0 277.9L69.4 277.7L69.8 275.7L70.0 273.5L69.7 271.4L68.9 269.7L67.8 268.0L66.7 266.5L65.6 265.1L64.6 263.8L63.6 262.4L62.8 261.1L62.0 259.8L61.4 258.5L60.9 257.1Z" fill="#9c0a94" stroke="#9c0a94" stroke-width="0.5" stroke-linejoin="round"/><path d="M67.2 196.7L67.0 198.2L67.2 199.9L67.6 201.5L68.3 203.0L69.1 204.5L70.0 205.8L71.0 207.0L72.1 208.0L73.1 209.0L73.9 210.0L74.5 211.0L75.1 211.8L75.6 212.7L75.9 213.8L75.5 214.7L74.9 215.4L74.3 216.3L73.4 217.3L72.2 218.3L70.8 219.3L69.4 220.4L67.8 221.5L66.3 222.6L64.8 223.9L63.6 225.4L62.9 227.3L62.7 229.2L63.0 230.9L64.4 231.1L65.1 229.9L66.1 229.1L67.2 228.4L68.2 227.5L69.4 226.5L70.8 225.5L72.2 224.4L73.8 223.3L75.3 222.2L76.8 220.9L78.2 219.5L79.3 217.9L79.9 215.9L79.9 213.8L79.9 211.9L79.6 210.1L78.8 208.4L77.9 207.0L76.8 205.7L75.7 204.5L74.6 203.4L73.5 202.4L72.3 201.6L71.2 200.8L70.2 199.9L69.4 199.0L68.7 197.9L68.2 196.5Z" fill="#cc00b6" stroke="#cc00b6" stroke-width="0.5" stroke-linejoin="round"/><path d="M67.2 196.7L67.0 198.2L67.2 199.9L67.6 201.5L68.3 203.0L69.1 204.5L70.0 205.8L71.0 207.0L72.1 208.0L73.1 209.0L73.9 210.0L74.5 211.0L75.1 211.8L75.6 212.7L75.9 213.8L79.9 213.8L79.9 211.9L79.6 210.1L78.8 208.4L77.9 207.0L76.8 205.7L75.7 204.5L74.6 203.4L73.5 202.4L72.3 201.6L71.2 200.8L70.2 199.9L69.4 199.0L68.7 197.9L68.2 196.5Z" fill="#9c0a94" stroke="#9c0a94" stroke-width="0.5" stroke-linejoin="round"/><path d="M103.8 167.0L103.2 168.6L102.3 169.7L101.3 170.7L100.0 171.7L98.5 172.5L97.1 173.6L95.6 174.8L94.1 176.0L92.6 177.3L91.1 178.7L89.8 180.3L88.7 182.1L88.1 184.2L88.1 186.4L88.1 188.7L88.6 190.8L89.7 192.7L91.1 194.3L92.5 195.8L94.1 197.2L95.6 198.5L97.1 199.7L98.4 200.9L99.6 202.1L100.6 203.3L101.3 204.4L101.9 205.5L102.3 206.7L101.9 208.0L101.3 209.1L100.6 210.2L99.8 211.4L98.7 212.5L97.4 213.8L96.0 215.0L94.6 216.3L93.2 217.7L91.8 219.1L90.6 220.8L89.6 222.7L89.1 224.8L89.1 227.0L89.2 229.7L89.7 232.2L90.7 234.6L92.1 236.6L93.6 238.5L95.3 240.3L96.9 242.0L98.5 243.6L100.0 245.2L101.3 246.7L102.3 248.3L103.4 249.8L104.7 251.4L105.6 253.5L107.0 253.3L107.5 250.9L107.5 248.2L106.7 245.8L105.3 243.8L103.8 241.9L102.1 240.1L100.5 238.4L98.9 236.8L97.4 235.2L96.1 233.7L95.1 232.1L94.2 230.5L93.5 228.9L93.1 227.0L93.5 225.7L94.1 224.6L94.8 223.5L95.6 222.3L96.7 221.2L98.0 219.9L99.4 218.7L100.8 217.4L102.2 216.0L103.6 214.6L104.8 212.9L105.8 211.0L106.3 208.9L106.3 206.7L106.3 204.4L105.8 202.3L104.7 200.4L103.3 198.8L101.9 197.3L100.3 195.9L98.8 194.6L97.3 193.4L96.0 192.2L94.8 191.0L93.8 189.8L93.1 188.7L92.5 187.6L92.1 186.4L92.5 185.3L93.1 184.3L93.8 183.3L94.7 182.2L95.9 181.0L97.3 179.9L98.8 178.7L100.3 177.5L101.8 176.1L103.0 174.4L104.0 172.7L104.7 170.9L105.0 169.0L104.8 167.2Z" fill="#cc00b6" stroke="#cc00b6" stroke-width="0.5" stroke-linejoin="round"/><path d="M88.1 188.7L88.6 190.8L89.7 192.7L91.1 194.3L92.5 195.8L94.1 197.2L95.6 198.5L97.1 199.7L98.4 200.9L99.6 202.1L100.6 203.3L101.3 204.4L101.9 205.5L102.3 206.7L106.3 206.7L106.3 204.4L105.8 202.3L104.7 200.4L103.3 198.8L101.9 197.3L100.3 195.9L98.8 194.6L97.3 193.4L96.0 192.2L94.8 191.0L93.8 189.8L93.1 188.7L92.5 187.6Z" fill="#9c0a94" stroke="#9c0a94" stroke-width="0.5" stroke-linejoin="round"/><path d="M89.2 229.7L89.7 232.2L90.7 234.6L92.1 236.6L93.6 238.5L95.3 240.3L96.9 242.0L98.5 243.6L100.0 245.2L101.3 246.7L102.3 248.3L103.4 249.8L104.7 251.4L105.6 253.5L107.0 253.3L107.5 250.9L107.5 248.2L106.7 245.8L105.3 243.8L103.8 241.9L102.1 240.1L100.5 238.4L98.9 236.8L97.4 235.2L96.1 233.7L95.1 232.1L94.2 230.5L93.5 228.9Z" fill="#9c0a94" stroke="#9c0a94" stroke-width="0.5" stroke-linejoin="round"/><path d="M122.1 192.4L121.5 194.2L120.5 195.6L119.4 196.9L118.1 198.0L116.7 199.1L115.3 200.4L113.8 201.8L112.3 203.2L110.7 204.7L109.3 206.3L108.0 208.1L106.9 210.1L106.4 212.4L106.4 214.8L106.4 217.0L106.9 219.0L107.9 220.8L109.1 222.4L110.5 223.8L111.9 225.1L113.4 226.3L114.8 227.5L116.0 228.6L117.1 229.7L118.0 230.8L118.6 231.9L119.2 232.8L119.6 234.0L119.3 235.0L118.7 235.9L118.2 236.8L117.5 237.8L116.5 238.8L115.5 239.8L114.3 240.9L113.1 242.0L111.9 243.1L110.7 244.4L109.6 245.9L108.8 247.5L108.4 249.4L108.4 251.4L108.4 253.8L108.8 256.1L109.5 258.3L110.5 260.2L111.6 262.0L112.8 263.6L114.0 265.1L115.2 266.6L116.3 268.1L117.2 269.5L118.0 271.0L119.0 272.4L120.1 273.9L120.9 275.9L122.3 275.7L122.8 273.5L122.9 271.1L122.5 268.9L121.5 267.0L120.4 265.2L119.2 263.6L118.0 262.1L116.8 260.6L115.7 259.1L114.8 257.7L114.0 256.2L113.2 254.8L112.7 253.2L112.4 251.4L112.7 250.4L113.3 249.5L113.8 248.6L114.5 247.6L115.5 246.6L116.5 245.6L117.7 244.5L118.9 243.4L120.1 242.3L121.3 241.0L122.4 239.5L123.2 237.9L123.6 236.0L123.6 234.0L123.6 231.8L123.1 229.8L122.1 228.0L120.9 226.4L119.5 225.0L118.1 223.7L116.6 222.5L115.2 221.3L114.0 220.2L112.9 219.1L112.0 218.0L111.4 216.9L110.8 216.0L110.4 214.8L110.8 213.3L111.4 212.1L112.2 210.8L113.1 209.5L114.3 208.2L115.7 206.9L117.2 205.5L118.7 204.1L120.3 202.6L121.5 200.8L122.4 198.8L123.1 196.7L123.3 194.6L123.1 192.6Z" fill="#cc00b6" stroke="#cc00b6" stroke-width="0.5" stroke-linejoin="round"/><path d="M106.4 217.0L106.9 219.0L107.9 220.8L109.1 222.4L110.5 223.8L111.9 225.1L113.4 226.3L114.8 227.5L116.0 228.6L117.1 229.7L118.0 230.8L118.6 231.9L119.2 232.8L119.6 234.0L123.6 234.0L123.6 231.8L123.1 229.8L122.1 228.0L120.9 226.4L119.5 225.0L118.1 223.7L116.6 222.5L115.2 221.3L114.0 220.2L112.9 219.1L112.0 218.0L111.4 216.9L110.8 216.0Z" fill="#9c0a94" stroke="#9c0a94" stroke-width="0.5" stroke-linejoin="round"/><path d="M108.4 253.8L108.8 256.1L109.5 258.3L110.5 260.2L111.6 262.0L112.8 263.6L114.0 265.1L115.2 266.6L116.3 268.1L117.2 269.5L118.0 271.0L119.0 272.4L120.1 273.9L120.9 275.9L122.3 275.7L122.8 273.5L122.9 271.1L122.5 268.9L121.5 267.0L120.4 265.2L119.2 263.6L118.0 262.1L116.8 260.6L115.7 259.1L114.8 257.7L114.0 256.2L113.2 254.8L112.7 253.2Z" fill="#9c0a94" stroke="#9c0a94" stroke-width="0.5" stroke-linejoin="round"/><path d="M142.3 167.9L141.8 169.4L140.9 170.5L139.9 171.5L138.7 172.4L137.3 173.3L135.9 174.3L134.5 175.4L133.1 176.6L131.6 177.9L130.2 179.2L129.0 180.8L127.9 182.5L127.4 184.6L127.4 186.7L127.4 189.2L128.0 191.6L129.0 193.7L130.3 195.6L131.8 197.4L133.4 199.0L135.0 200.5L136.5 202.0L137.9 203.4L139.1 204.8L140.1 206.3L141.0 207.6L141.6 209.1L142.0 210.7L141.6 211.8L141.0 212.7L140.4 213.7L139.5 214.8L138.4 215.9L137.2 217.0L135.8 218.1L134.4 219.3L132.9 220.6L131.6 222.0L130.3 223.5L129.3 225.2L128.8 227.3L128.8 229.4L128.8 231.8L129.2 234.1L130.0 236.3L131.1 238.2L132.3 239.9L133.6 241.5L134.9 243.0L136.2 244.5L137.3 245.9L138.3 247.3L139.1 248.8L140.2 250.1L141.3 251.6L142.1 253.5L143.5 253.3L144.0 251.1L144.1 248.8L143.6 246.5L142.5 244.6L141.3 242.9L140.0 241.3L138.7 239.8L137.4 238.3L136.3 236.9L135.3 235.5L134.5 234.0L133.7 232.6L133.1 231.1L132.8 229.4L133.2 228.3L133.8 227.4L134.4 226.4L135.3 225.3L136.4 224.2L137.6 223.1L139.0 222.0L140.4 220.8L141.9 219.5L143.2 218.1L144.5 216.6L145.5 214.9L146.0 212.8L146.0 210.7L146.0 208.2L145.4 205.8L144.4 203.7L143.1 201.8L141.6 200.0L140.0 198.4L138.4 196.9L136.9 195.4L135.5 194.0L134.3 192.6L133.3 191.1L132.4 189.8L131.8 188.3L131.4 186.7L131.8 185.6L132.4 184.7L133.0 183.7L133.9 182.6L135.0 181.5L136.3 180.4L137.7 179.3L139.1 178.1L140.5 176.7L141.6 175.1L142.5 173.4L143.2 171.7L143.5 169.8L143.3 168.1Z" fill="#cc00b6" stroke="#cc00b6" stroke-width="0.5" stroke-linejoin="round"/><path d="M127.4 189.2L128.0 191.6L129.0 193.7L130.3 195.6L131.8 197.4L133.4 199.0L135.0 200.5L136.5 202.0L137.9 203.4L139.1 204.8L140.1 206.3L141.0 207.6L141.6 209.1L142.0 210.7L146.0 210.7L146.0 208.2L145.4 205.8L144.4 203.7L143.1 201.8L141.6 200.0L140.0 198.4L138.4 196.9L136.9 195.4L135.5 194.0L134.3 192.6L133.3 191.1L132.4 189.8L131.8 188.3Z" fill="#9c0a94" stroke="#9c0a94" stroke-width="0.5" stroke-linejoin="round"/><path d="M128.8 231.8L129.2 234.1L130.0 236.3L131.1 238.2L132.3 239.9L133.6 241.5L134.9 243.0L136.2 244.5L137.3 245.9L138.3 247.3L139.1 248.8L140.2 250.1L141.3 251.6L142.1 253.5L143.5 253.3L144.0 251.1L144.1 248.8L143.6 246.5L142.5 244.6L141.3 242.9L140.0 241.3L138.7 239.8L137.4 238.3L136.3 236.9L135.3 235.5L134.5 234.0L133.7 232.6L133.1 231.1Z" fill="#9c0a94" stroke="#9c0a94" stroke-width="0.5" stroke-linejoin="round"/><path d="M222.2 33.8L221.6 35.6L220.7 37.2L219.5 38.5L218.3 39.7L216.9 40.9L215.7 42.3L214.3 43.8L212.9 45.3L211.4 46.8L210.1 48.5L208.9 50.4L208.0 52.5L207.5 54.8L207.5 57.2L207.5 59.3L208.0 61.2L209.1 62.9L210.3 64.3L211.7 65.6L213.1 66.7L214.6 67.8L216.0 68.9L217.2 69.9L218.3 70.9L219.2 71.9L219.7 72.8L220.3 73.6L220.7 74.5L220.3 75.6L219.8 76.5L219.2 77.5L218.4 78.5L217.4 79.6L216.2 80.7L214.9 81.8L213.6 82.9L212.3 84.2L211.0 85.5L209.9 87.0L208.9 88.8L208.5 90.7L208.5 92.8L208.5 95.2L208.9 97.5L209.6 99.6L210.6 101.6L211.7 103.3L212.9 105.0L214.1 106.5L215.3 108.0L216.4 109.4L217.3 110.9L218.1 112.3L219.1 113.7L220.2 115.2L221.0 117.2L222.4 117.0L222.9 114.8L223.0 112.5L222.6 110.3L221.6 108.3L220.5 106.6L219.3 104.9L218.1 103.4L216.9 101.9L215.8 100.5L214.9 99.0L214.1 97.6L213.3 96.1L212.8 94.6L212.5 92.8L212.9 91.7L213.4 90.8L214.0 89.8L214.8 88.8L215.8 87.7L217.0 86.6L218.3 85.5L219.6 84.4L220.9 83.1L222.2 81.8L223.3 80.3L224.3 78.5L224.7 76.6L224.7 74.5L224.7 72.4L224.2 70.5L223.1 68.8L221.9 67.4L220.5 66.1L219.1 65.0L217.6 63.9L216.2 62.8L215.0 61.8L213.9 60.8L213.0 59.8L212.5 58.9L211.9 58.1L211.5 57.2L211.9 55.6L212.5 54.2L213.2 52.8L214.1 51.5L215.3 50.1L216.5 48.7L217.9 47.2L219.3 45.7L220.8 44.2L221.9 42.3L222.8 40.3L223.3 38.2L223.4 36.0L223.2 33.8Z" fill="#cc00b6" stroke="#cc00b6" stroke-width="0.5" stroke-linejoin="round"/><path d="M207.5 59.3L208.0 61.2L209.1 62.9L210.3 64.3L211.7 65.6L213.1 66.7L214.6 67.8L216.0 68.9L217.2 69.9L218.3 70.9L219.2 71.9L219.7 72.8L220.3 73.6L220.7 74.5L224.7 74.5L224.7 72.4L224.2 70.5L223.1 68.8L221.9 67.4L220.5 66.1L219.1 65.0L217.6 63.9L216.2 62.8L215.0 61.8L213.9 60.8L213.0 59.8L212.5 58.9L211.9 58.1Z" fill="#9c0a94" stroke="#9c0a94" stroke-width="0.5" stroke-linejoin="round"/><path d="M208.5 95.2L208.9 97.5L209.6 99.6L210.6 101.6L211.7 103.3L212.9 105.0L214.1 106.5L215.3 108.0L216.4 109.4L217.3 110.9L218.1 112.3L219.1 113.7L220.2 115.2L221.0 117.2L222.4 117.0L222.9 114.8L223.0 112.5L222.6 110.3L221.6 108.3L220.5 106.6L219.3 104.9L218.1 103.4L216.9 101.9L215.8 100.5L214.9 99.0L214.1 97.6L213.3 96.1L212.8 94.6Z" fill="#9c0a94" stroke="#9c0a94" stroke-width="0.5" stroke-linejoin="round"/><path d="M253.7 26.7L252.7 30.1L251.1 32.9L249.4 35.5L247.7 38.1L245.7 40.7L243.5 43.3L241.2 45.9L238.7 48.5L236.4 51.2L234.2 54.1L232.2 57.2L230.8 60.7L230.0 64.4L229.8 68.4L229.8 70.7L230.3 73.0L231.2 75.0L232.4 76.7L233.8 78.3L235.2 79.8L236.6 81.2L238.0 82.6L239.3 83.9L240.4 85.2L241.3 86.5L242.0 87.7L242.6 89.0L243.0 90.5L242.7 91.5L242.2 92.3L241.7 93.1L241.0 94.0L240.2 95.0L239.3 95.9L238.2 96.9L237.1 98.0L236.0 99.1L234.9 100.4L234.0 101.7L233.2 103.3L232.9 105.1L232.9 107.0L232.9 109.2L233.2 111.4L233.9 113.4L234.7 115.1L235.8 116.8L236.9 118.3L238.0 119.7L239.0 121.0L240.0 122.4L240.8 123.7L241.6 125.0L242.6 126.2L243.6 127.6L244.3 129.4L245.7 129.2L246.1 127.2L246.3 125.0L246.0 122.9L245.2 121.2L244.1 119.5L243.0 118.0L241.9 116.6L240.9 115.3L239.9 113.9L239.1 112.6L238.3 111.3L237.7 110.0L237.2 108.6L236.9 107.0L237.2 106.0L237.7 105.2L238.2 104.4L238.9 103.5L239.7 102.5L240.6 101.6L241.7 100.6L242.8 99.5L243.9 98.4L245.0 97.1L245.9 95.8L246.7 94.2L247.0 92.4L247.0 90.5L247.0 88.2L246.5 85.9L245.6 83.9L244.4 82.2L243.0 80.6L241.6 79.1L240.2 77.7L238.8 76.3L237.5 75.0L236.4 73.7L235.5 72.4L234.8 71.2L234.2 69.9L233.8 68.4L234.3 65.2L235.3 62.3L236.6 59.6L238.3 57.0L240.3 54.4L242.5 51.8L244.8 49.2L247.3 46.6L249.6 43.9L251.8 41.0L253.8 37.9L254.8 34.3L255.1 30.5L254.7 26.7Z" fill="#cc00b6" stroke="#cc00b6" stroke-width="0.5" stroke-linejoin="round"/><path d="M229.8 70.7L230.3 73.0L231.2 75.0L232.4 76.7L233.8 78.3L235.2 79.8L236.6 81.2L238.0 82.6L239.3 83.9L240.4 85.2L241.3 86.5L242.0 87.7L242.6 89.0L243.0 90.5L247.0 90.5L247.0 88.2L246.5 85.9L245.6 83.9L244.4 82.2L243.0 80.6L241.6 79.1L240.2 77.7L238.8 76.3L237.5 75.0L236.4 73.7L235.5 72.4L234.8 71.2L234.2 69.9Z" fill="#9c0a94" stroke="#9c0a94" stroke-width="0.5" stroke-linejoin="round"/><path d="M232.9 109.2L233.2 111.4L233.9 113.4L234.7 115.1L235.8 116.8L236.9 118.3L238.0 119.7L239.0 121.0L240.0 122.4L240.8 123.7L241.6 125.0L242.6 126.2L243.6 127.6L244.3 129.4L245.7 129.2L246.1 127.2L246.3 125.0L246.0 122.9L245.2 121.2L244.1 119.5L243.0 118.0L241.9 116.6L240.9 115.3L239.9 113.9L239.1 112.6L238.3 111.3L237.7 110.0L237.2 108.6Z" fill="#9c0a94" stroke="#9c0a94" stroke-width="0.5" stroke-linejoin="round"/><path d="M243.5 48.2L243.3 49.7L243.5 51.4L243.9 53.0L244.6 54.5L245.4 56.0L246.3 57.3L247.3 58.5L248.4 59.5L249.4 60.5L250.2 61.5L250.8 62.5L251.4 63.3L251.9 64.2L252.2 65.3L251.8 66.2L251.2 66.9L250.6 67.8L249.7 68.8L248.5 69.8L247.1 70.8L245.7 71.9L244.1 73.0L242.6 74.1L241.1 75.4L239.9 76.9L239.2 78.8L239.0 80.7L239.3 82.4L240.7 82.6L241.4 81.4L242.4 80.6L243.5 79.9L244.5 79.0L245.7 78.0L247.1 77.0L248.5 75.9L250.1 74.8L251.6 73.7L253.1 72.4L254.5 71.0L255.6 69.4L256.2 67.4L256.2 65.3L256.2 63.4L255.9 61.6L255.1 59.9L254.2 58.5L253.1 57.2L252.0 56.0L250.9 54.9L249.8 53.9L248.6 53.1L247.5 52.3L246.5 51.4L245.7 50.5L245.0 49.4L244.5 48.0Z" fill="#cc00b6" stroke="#cc00b6" stroke-width="0.5" stroke-linejoin="round"/><path d="M243.5 48.2L243.3 49.7L243.5 51.4L243.9 53.0L244.6 54.5L245.4 56.0L246.3 57.3L247.3 58.5L248.4 59.5L249.4 60.5L250.2 61.5L250.8 62.5L251.4 63.3L251.9 64.2L252.2 65.3L256.2 65.3L256.2 63.4L255.9 61.6L255.1 59.9L254.2 58.5L253.1 57.2L252.0 56.0L250.9 54.9L249.8 53.9L248.6 53.1L247.5 52.3L246.5 51.4L245.7 50.5L245.0 49.4L244.5 48.0Z" fill="#9c0a94" stroke="#9c0a94" stroke-width="0.5" stroke-linejoin="round"/><path d="M280.1 18.5L279.5 20.1L278.6 21.2L277.6 22.2L276.3 23.2L274.8 24.0L273.4 25.1L271.9 26.3L270.4 27.5L268.9 28.8L267.4 30.2L266.1 31.8L265.0 33.6L264.4 35.7L264.4 37.9L264.4 40.2L264.9 42.3L266.0 44.2L267.4 45.8L268.8 47.3L270.4 48.7L271.9 50.0L273.4 51.2L274.7 52.4L275.9 53.6L276.9 54.8L277.6 55.9L278.2 57.0L278.6 58.2L278.2 59.5L277.6 60.6L276.9 61.7L276.1 62.9L275.0 64.0L273.7 65.3L272.3 66.5L270.9 67.8L269.5 69.2L268.1 70.6L266.9 72.3L265.9 74.2L265.4 76.3L265.4 78.5L265.5 81.2L266.0 83.7L267.0 86.1L268.4 88.1L269.9 90.0L271.6 91.8L273.2 93.5L274.8 95.1L276.3 96.7L277.6 98.2L278.6 99.8L279.7 101.3L281.0 102.9L281.9 105.0L283.3 104.8L283.8 102.4L283.8 99.7L283.0 97.3L281.6 95.3L280.1 93.4L278.4 91.6L276.8 89.9L275.2 88.3L273.7 86.7L272.4 85.2L271.4 83.6L270.5 82.0L269.8 80.4L269.4 78.5L269.8 77.2L270.4 76.1L271.1 75.0L271.9 73.8L273.0 72.7L274.3 71.4L275.7 70.2L277.1 68.9L278.5 67.5L279.9 66.1L281.1 64.4L282.1 62.5L282.6 60.4L282.6 58.2L282.6 55.9L282.1 53.8L281.0 51.9L279.6 50.3L278.2 48.8L276.6 47.4L275.1 46.1L273.6 44.9L272.3 43.7L271.1 42.5L270.1 41.3L269.4 40.2L268.8 39.1L268.4 37.9L268.8 36.8L269.4 35.8L270.1 34.8L271.0 33.7L272.2 32.5L273.6 31.4L275.1 30.2L276.6 29.0L278.1 27.6L279.3 25.9L280.3 24.2L281.0 22.4L281.3 20.5L281.1 18.7Z" fill="#cc00b6" stroke="#cc00b6" stroke-width="0.5" stroke-linejoin="round"/><path d="M264.4 40.2L264.9 42.3L266.0 44.2L267.4 45.8L268.8 47.3L270.4 48.7L271.9 50.0L273.4 51.2L274.7 52.4L275.9 53.6L276.9 54.8L277.6 55.9L278.2 57.0L278.6 58.2L282.6 58.2L282.6 55.9L282.1 53.8L281.0 51.9L279.6 50.3L278.2 48.8L276.6 47.4L275.1 46.1L273.6 44.9L272.3 43.7L271.1 42.5L270.1 41.3L269.4 40.2L268.8 39.1Z" fill="#9c0a94" stroke="#9c0a94" stroke-width="0.5" stroke-linejoin="round"/><path d="M265.5 81.2L266.0 83.7L267.0 86.1L268.4 88.1L269.9 90.0L271.6 91.8L273.2 93.5L274.8 95.1L276.3 96.7L277.6 98.2L278.6 99.8L279.7 101.3L281.0 102.9L281.9 105.0L283.3 104.8L283.8 102.4L283.8 99.7L283.0 97.3L281.6 95.3L280.1 93.4L278.4 91.6L276.8 89.9L275.2 88.3L273.7 86.7L272.4 85.2L271.4 83.6L270.5 82.0L269.8 80.4Z" fill="#9c0a94" stroke="#9c0a94" stroke-width="0.5" stroke-linejoin="round"/><path d="M298.4 43.9L297.8 45.7L296.8 47.1L295.7 48.4L294.4 49.5L293.0 50.6L291.6 51.9L290.1 53.3L288.6 54.7L287.0 56.2L285.6 57.8L284.3 59.6L283.2 61.6L282.7 63.9L282.7 66.3L282.7 68.5L283.2 70.5L284.2 72.3L285.4 73.9L286.8 75.3L288.2 76.6L289.7 77.8L291.1 79.0L292.3 80.1L293.4 81.2L294.3 82.3L294.9 83.4L295.5 84.3L295.9 85.5L295.6 86.5L295.0 87.4L294.5 88.3L293.8 89.3L292.8 90.3L291.8 91.3L290.6 92.4L289.4 93.5L288.2 94.6L287.0 95.9L285.9 97.4L285.1 99.0L284.7 100.9L284.7 102.9L284.7 105.3L285.1 107.6L285.8 109.8L286.8 111.7L287.9 113.5L289.1 115.1L290.3 116.6L291.5 118.1L292.6 119.6L293.5 121.0L294.3 122.5L295.3 123.9L296.4 125.4L297.2 127.4L298.6 127.2L299.1 125.0L299.2 122.6L298.8 120.4L297.8 118.5L296.7 116.7L295.5 115.1L294.3 113.6L293.1 112.1L292.0 110.6L291.1 109.2L290.3 107.7L289.5 106.3L289.0 104.7L288.7 102.9L289.0 101.9L289.6 101.0L290.1 100.1L290.8 99.1L291.8 98.1L292.8 97.1L294.0 96.0L295.2 94.9L296.4 93.8L297.6 92.5L298.7 91.0L299.5 89.4L299.9 87.5L299.9 85.5L299.9 83.3L299.4 81.3L298.4 79.5L297.2 77.9L295.8 76.5L294.4 75.2L292.9 74.0L291.5 72.8L290.3 71.7L289.2 70.6L288.3 69.5L287.7 68.4L287.1 67.5L286.7 66.3L287.1 64.8L287.7 63.6L288.5 62.3L289.4 61.0L290.6 59.7L292.0 58.4L293.5 57.0L295.0 55.6L296.6 54.1L297.8 52.3L298.7 50.3L299.4 48.2L299.6 46.1L299.4 44.1Z" fill="#cc00b6" stroke="#cc00b6" stroke-width="0.5" stroke-linejoin="round"/><path d="M282.7 68.5L283.2 70.5L284.2 72.3L285.4 73.9L286.8 75.3L288.2 76.6L289.7 77.8L291.1 79.0L292.3 80.1L293.4 81.2L294.3 82.3L294.9 83.4L295.5 84.3L295.9 85.5L299.9 85.5L299.9 83.3L299.4 81.3L298.4 79.5L297.2 77.9L295.8 76.5L294.4 75.2L292.9 74.0L291.5 72.8L290.3 71.7L289.2 70.6L288.3 69.5L287.7 68.4L287.1 67.5Z" fill="#9c0a94" stroke="#9c0a94" stroke-width="0.5" stroke-linejoin="round"/><path d="M284.7 105.3L285.1 107.6L285.8 109.8L286.8 111.7L287.9 113.5L289.1 115.1L290.3 116.6L291.5 118.1L292.6 119.6L293.5 121.0L294.3 122.5L295.3 123.9L296.4 125.4L297.2 127.4L298.6 127.2L299.1 125.0L299.2 122.6L298.8 120.4L297.8 118.5L296.7 116.7L295.5 115.1L294.3 113.6L293.1 112.1L292.0 110.6L291.1 109.2L290.3 107.7L289.5 106.3L289.0 104.7Z" fill="#9c0a94" stroke="#9c0a94" stroke-width="0.5" stroke-linejoin="round"/><path d="M318.6 19.4L318.1 20.9L317.2 22.0L316.2 23.0L315.0 23.9L313.6 24.8L312.2 25.8L310.8 26.9L309.4 28.1L307.9 29.4L306.5 30.7L305.3 32.3L304.2 34.0L303.7 36.1L303.7 38.2L303.7 40.7L304.3 43.1L305.3 45.2L306.6 47.1L308.1 48.9L309.7 50.5L311.3 52.0L312.8 53.5L314.2 54.9L315.4 56.3L316.4 57.8L317.3 59.1L317.9 60.6L318.3 62.2L317.9 63.3L317.3 64.2L316.7 65.2L315.8 66.3L314.7 67.4L313.5 68.5L312.1 69.6L310.7 70.8L309.2 72.1L307.9 73.5L306.6 75.0L305.6 76.7L305.1 78.8L305.1 80.9L305.1 83.3L305.5 85.6L306.3 87.8L307.4 89.7L308.6 91.4L309.9 93.0L311.2 94.5L312.5 96.0L313.6 97.4L314.6 98.8L315.4 100.3L316.5 101.6L317.6 103.1L318.4 105.0L319.8 104.8L320.3 102.6L320.4 100.3L319.9 98.0L318.8 96.1L317.6 94.4L316.3 92.8L315.0 91.3L313.7 89.8L312.6 88.4L311.6 87.0L310.8 85.5L310.0 84.1L309.4 82.6L309.1 80.9L309.5 79.8L310.1 78.9L310.7 77.9L311.6 76.8L312.7 75.7L313.9 74.6L315.3 73.5L316.7 72.3L318.2 71.0L319.5 69.6L320.8 68.1L321.8 66.4L322.3 64.3L322.3 62.2L322.3 59.7L321.7 57.3L320.7 55.2L319.4 53.3L317.9 51.5L316.3 49.9L314.7 48.4L313.2 46.9L311.8 45.5L310.6 44.1L309.6 42.6L308.7 41.3L308.1 39.8L307.7 38.2L308.1 37.1L308.7 36.2L309.3 35.2L310.2 34.1L311.3 33.0L312.6 31.9L314.0 30.8L315.4 29.6L316.8 28.2L317.9 26.6L318.8 24.9L319.5 23.2L319.8 21.3L319.6 19.6Z" fill="#cc00b6" stroke="#cc00b6" stroke-width="0.5" stroke-linejoin="round"/><path d="M303.7 40.7L304.3 43.1L305.3 45.2L306.6 47.1L308.1 48.9L309.7 50.5L311.3 52.0L312.8 53.5L314.2 54.9L315.4 56.3L316.4 57.8L317.3 59.1L317.9 60.6L318.3 62.2L322.3 62.2L322.3 59.7L321.7 57.3L320.7 55.2L319.4 53.3L317.9 51.5L316.3 49.9L314.7 48.4L313.2 46.9L311.8 45.5L310.6 44.1L309.6 42.6L308.7 41.3L308.1 39.8Z" fill="#9c0a94" stroke="#9c0a94" stroke-width="0.5" stroke-linejoin="round"/><path d="M305.1 83.3L305.5 85.6L306.3 87.8L307.4 89.7L308.6 91.4L309.9 93.0L311.2 94.5L312.5 96.0L313.6 97.4L314.6 98.8L315.4 100.3L316.5 101.6L317.6 103.1L318.4 105.0L319.8 104.8L320.3 102.6L320.4 100.3L319.9 98.0L318.8 96.1L317.6 94.4L316.3 92.8L315.0 91.3L313.7 89.8L312.6 88.4L311.6 87.0L310.8 85.5L310.0 84.1L309.4 82.6Z" fill="#9c0a94" stroke="#9c0a94" stroke-width="0.5" stroke-linejoin="round"/><circle cx="204.6" cy="116.8" r="6.5" fill="none" stroke="#f03a12" stroke-width="2.8"/><path d="M200.00385 112.20385L209.19615 121.39614999999999" stroke="#f03a12" stroke-width="2.8"/><circle cx="257.7" cy="100.6" r="6.5" fill="none" stroke="#f03a12" stroke-width="2.8"/><path d="M253.10385 96.00385L262.29615 105.19614999999999" stroke="#f03a12" stroke-width="2.8"/><circle cx="272.4" cy="127.1" r="6.5" fill="none" stroke="#f03a12" stroke-width="2.8"/><path d="M267.80384999999995 122.50385L276.99615 131.69615" stroke="#f03a12" stroke-width="2.8"/><circle cx="319.1" cy="116.3" r="6.5" fill="none" stroke="#f03a12" stroke-width="2.8"/><path d="M314.50385 111.70385L323.69615000000005 120.89614999999999" stroke="#f03a12" stroke-width="2.8"/><circle cx="156.7" cy="156.2" r="11.6" fill="none" stroke="#f5000c" stroke-width="4.8"/><path d="M148.49764 147.99764L164.90236 164.40236" stroke="#f5000c" stroke-width="4.8"/><path d="M541.0 80.0L540.6 81.7L540.3 83.3L540.1 84.8L539.8 86.1L539.5 87.5L539.3 88.7L539.2 90.0L539.2 91.2L539.2 92.5L539.2 93.8L539.2 95.2L539.1 96.7L539.1 98.3L539.1 100.1L539.1 102.5L539.5 104.8L540.0 106.9L540.8 108.9L541.8 110.7L542.8 112.4L543.9 114.0L544.9 115.5L545.8 117.0L546.7 118.5L547.4 120.0L548.1 121.5L548.6 123.1L548.8 125.1L548.8 126.7L548.9 128.4L548.9 129.9L549.0 131.3L549.2 132.6L549.3 133.9L549.5 135.1L549.7 136.3L549.8 137.5L550.0 138.8L550.3 140.1L550.8 141.4L551.3 142.9L551.8 144.6L553.4 144.6L553.8 142.9L554.2 141.3L554.6 139.7L554.6 138.3L554.4 137.0L554.3 135.7L554.1 134.5L553.9 133.3L553.8 132.1L553.6 130.8L553.4 129.5L553.3 128.1L553.2 126.6L553.2 124.9L553.2 122.5L552.8 120.2L552.3 118.1L551.5 116.1L550.5 114.3L549.5 112.6L548.4 111.0L547.4 109.5L546.5 108.0L545.6 106.5L544.9 105.0L544.2 103.5L543.7 101.9L543.5 99.9L543.5 98.3L543.5 96.7L543.5 95.2L543.5 93.9L543.5 92.5L543.6 91.3L543.6 90.0L543.6 88.8L543.3 87.5L543.1 86.2L542.9 84.8L542.6 83.3L542.3 81.7L542.0 80.0Z" fill="#cc00b6" stroke="#cc00b6" stroke-width="0.5" stroke-linejoin="round"/><path d="M539.1 102.5L539.5 104.8L540.0 106.9L540.8 108.9L541.8 110.7L542.8 112.4L543.9 114.0L544.9 115.5L545.8 117.0L546.7 118.5L547.4 120.0L548.1 121.5L548.6 123.1L548.8 125.1L553.2 124.9L553.2 122.5L552.8 120.2L552.3 118.1L551.5 116.1L550.5 114.3L549.5 112.6L548.4 111.0L547.4 109.5L546.5 108.0L545.6 106.5L544.9 105.0L544.2 103.5L543.7 101.9Z" fill="#9c0a94" stroke="#9c0a94" stroke-width="0.5" stroke-linejoin="round"/><path d="M548.8 126.7L548.9 128.4L548.9 129.9L549.0 131.3L549.2 132.6L549.3 133.9L549.5 135.1L549.7 136.3L549.8 137.5L550.0 138.8L550.3 140.1L550.8 141.4L551.3 142.9L551.8 144.6L553.4 144.6L553.8 142.9L554.2 141.3L554.6 139.7L554.6 138.3L554.4 137.0L554.3 135.7L554.1 134.5L553.9 133.3L553.8 132.1L553.6 130.8L553.4 129.5L553.3 128.1L553.2 126.6Z" fill="#9c0a94" stroke="#9c0a94" stroke-width="0.5" stroke-linejoin="round"/><path d="M581.2 49.0L580.2 52.3L578.7 54.9L576.9 57.2L575.3 59.7L573.5 62.1L571.4 64.5L569.1 66.9L566.8 69.4L564.6 72.0L562.4 74.7L560.6 77.7L559.2 81.0L558.4 84.6L558.2 88.3L558.3 90.9L558.7 93.3L559.5 95.5L560.6 97.5L561.9 99.3L563.2 100.9L564.5 102.5L565.8 104.0L567.0 105.5L568.1 106.9L568.9 108.4L569.7 109.8L570.3 111.4L570.6 113.1L570.3 114.1L569.7 115.0L569.1 115.9L568.3 116.9L567.3 117.9L566.1 118.9L564.9 120.0L563.5 121.2L562.1 122.4L560.8 123.8L559.6 125.3L558.7 127.0L558.2 129.0L558.2 131.1L558.3 133.8L558.7 136.3L559.4 138.7L560.5 140.8L561.8 142.7L563.1 144.6L564.5 146.3L565.8 147.9L567.0 149.5L568.0 151.1L568.9 152.7L569.9 154.3L571.1 156.0L572.0 158.2L573.6 158.0L574.1 155.5L574.4 152.9L573.8 150.5L572.7 148.4L571.4 146.5L570.1 144.6L568.7 142.9L567.4 141.3L566.2 139.7L565.2 138.1L564.3 136.5L563.5 134.8L562.9 133.1L562.6 131.1L562.9 130.1L563.5 129.2L564.1 128.3L564.9 127.3L565.9 126.3L567.1 125.3L568.3 124.2L569.7 123.0L571.1 121.8L572.4 120.4L573.6 118.9L574.5 117.2L575.0 115.2L575.0 113.1L574.9 110.6L574.5 108.2L573.7 106.0L572.6 104.0L571.3 102.2L570.0 100.6L568.7 99.0L567.4 97.5L566.2 96.0L565.1 94.6L564.3 93.1L563.5 91.7L562.9 90.1L562.6 88.5L563.0 85.4L564.0 82.8L565.3 80.3L566.9 77.8L568.7 75.4L570.8 73.0L573.1 70.6L575.4 68.1L577.6 65.5L579.8 62.8L581.6 59.8L582.6 56.3L582.7 52.7L582.4 49.2Z" fill="#cc00b6" stroke="#cc00b6" stroke-width="0.5" stroke-linejoin="round"/><path d="M558.3 90.9L558.7 93.3L559.5 95.5L560.6 97.5L561.9 99.3L563.2 100.9L564.5 102.5L565.8 104.0L567.0 105.5L568.1 106.9L568.9 108.4L569.7 109.8L570.3 111.4L570.6 113.1L575.0 113.1L574.9 110.6L574.5 108.2L573.7 106.0L572.6 104.0L571.3 102.2L570.0 100.6L568.7 99.0L567.4 97.5L566.2 96.0L565.1 94.6L564.3 93.1L563.5 91.7L562.9 90.1Z" fill="#9c0a94" stroke="#9c0a94" stroke-width="0.5" stroke-linejoin="round"/><path d="M558.3 133.8L558.7 136.3L559.4 138.7L560.5 140.8L561.8 142.7L563.1 144.6L564.5 146.3L565.8 147.9L567.0 149.5L568.0 151.1L568.9 152.7L569.9 154.3L571.1 156.0L572.0 158.2L573.6 158.0L574.1 155.5L574.4 152.9L573.8 150.5L572.7 148.4L571.4 146.5L570.1 144.6L568.7 142.9L567.4 141.3L566.2 139.7L565.2 138.1L564.3 136.5L563.5 134.8L562.9 133.1Z" fill="#9c0a94" stroke="#9c0a94" stroke-width="0.5" stroke-linejoin="round"/><path d="M572.2 78.3L572.0 80.3L572.1 82.4L572.4 84.4L573.1 86.3L574.0 88.1L575.2 89.6L576.4 90.9L577.5 92.3L578.6 93.5L579.5 94.8L580.3 96.0L581.0 97.2L581.5 98.5L581.8 100.0L581.5 101.0L580.9 101.9L580.3 102.8L579.6 103.8L578.6 104.8L577.5 105.9L576.2 107.0L574.9 108.1L573.6 109.3L572.3 110.7L571.3 112.3L570.9 114.2L570.9 116.2L571.2 117.9L572.8 118.1L573.5 116.7L574.5 115.8L575.5 115.1L576.4 114.2L577.4 113.2L578.5 112.1L579.8 111.0L581.1 109.9L582.4 108.7L583.7 107.3L584.8 105.8L585.8 104.1L586.2 102.1L586.2 100.0L586.2 97.7L585.8 95.6L585.1 93.6L584.0 91.8L582.9 90.2L581.6 88.7L580.4 87.4L579.3 86.0L578.2 84.8L576.9 83.7L575.8 82.6L574.8 81.4L573.9 80.0L573.4 78.3Z" fill="#cc00b6" stroke="#cc00b6" stroke-width="0.5" stroke-linejoin="round"/><path d="M572.2 78.3L572.0 80.3L572.1 82.4L572.4 84.4L573.1 86.3L574.0 88.1L575.2 89.6L576.4 90.9L577.5 92.3L578.6 93.5L579.5 94.8L580.3 96.0L581.0 97.2L581.5 98.5L581.8 100.0L586.2 100.0L586.2 97.7L585.8 95.6L585.1 93.6L584.0 91.8L582.9 90.2L581.6 88.7L580.4 87.4L579.3 86.0L578.2 84.8L576.9 83.7L575.8 82.6L574.8 81.4L573.9 80.0L573.4 78.3Z" fill="#9c0a94" stroke="#9c0a94" stroke-width="0.5" stroke-linejoin="round"/><path d="M609.3 41.1L608.7 42.7L607.8 43.9L606.7 45.0L605.3 45.9L603.8 46.8L602.4 48.0L600.9 49.3L599.3 50.5L597.7 51.9L596.2 53.4L594.8 55.1L593.7 57.0L593.1 59.2L593.1 61.5L593.2 64.0L593.7 66.3L594.8 68.4L596.1 70.2L597.7 71.8L599.3 73.3L600.8 74.8L602.4 76.1L603.8 77.5L605.0 78.8L606.0 80.1L606.8 81.3L607.4 82.6L607.8 84.0L607.5 85.3L607.0 86.5L606.4 87.6L605.7 88.7L604.9 89.9L604.0 91.0L602.9 92.2L601.9 93.5L600.8 94.9L599.7 96.4L598.8 98.0L598.1 99.9L597.8 101.9L597.8 104.0L597.8 106.3L598.4 108.5L599.5 110.4L600.9 112.1L602.4 113.6L603.9 115.0L605.5 116.3L607.0 117.5L608.4 118.7L609.5 119.9L610.5 121.1L611.7 121.9L612.8 123.0L613.6 124.5L615.2 124.3L615.6 122.3L615.5 120.1L614.9 118.0L613.5 116.3L612.0 114.8L610.5 113.4L608.9 112.1L607.4 110.9L606.0 109.7L604.9 108.5L603.9 107.3L603.2 106.2L602.6 105.2L602.2 104.0L602.5 102.7L603.0 101.5L603.6 100.4L604.3 99.3L605.1 98.1L606.0 97.0L607.1 95.8L608.1 94.5L609.2 93.1L610.3 91.6L611.2 90.0L611.9 88.1L612.2 86.1L612.2 84.0L612.1 81.5L611.6 79.2L610.5 77.1L609.2 75.3L607.6 73.7L606.0 72.2L604.5 70.7L602.9 69.4L601.5 68.0L600.3 66.7L599.3 65.4L598.5 64.2L597.9 62.9L597.5 61.5L597.9 60.3L598.5 59.3L599.2 58.2L600.2 57.1L601.4 55.9L602.8 54.7L604.3 53.4L605.9 52.2L607.5 50.8L608.7 49.0L609.7 47.1L610.4 45.2L610.6 43.2L610.5 41.3Z" fill="#cc00b6" stroke="#cc00b6" stroke-width="0.5" stroke-linejoin="round"/><path d="M593.2 64.0L593.7 66.3L594.8 68.4L596.1 70.2L597.7 71.8L599.3 73.3L600.8 74.8L602.4 76.1L603.8 77.5L605.0 78.8L606.0 80.1L606.8 81.3L607.4 82.6L607.8 84.0L612.2 84.0L612.1 81.5L611.6 79.2L610.5 77.1L609.2 75.3L607.6 73.7L606.0 72.2L604.5 70.7L602.9 69.4L601.5 68.0L600.3 66.7L599.3 65.4L598.5 64.2L597.9 62.9Z" fill="#9c0a94" stroke="#9c0a94" stroke-width="0.5" stroke-linejoin="round"/><path d="M597.8 106.3L598.4 108.5L599.5 110.4L600.9 112.1L602.4 113.6L603.9 115.0L605.5 116.3L607.0 117.5L608.4 118.7L609.5 119.9L610.5 121.1L611.7 121.9L612.8 123.0L613.6 124.5L615.2 124.3L615.6 122.3L615.5 120.1L614.9 118.0L613.5 116.3L612.0 114.8L610.5 113.4L608.9 112.1L607.4 110.9L606.0 109.7L604.9 108.5L603.9 107.3L603.2 106.2L602.6 105.2Z" fill="#9c0a94" stroke="#9c0a94" stroke-width="0.5" stroke-linejoin="round"/><path d="M623.4 72.0L622.7 74.7L621.8 77.0L620.6 79.0L619.5 80.9L618.5 82.8L617.4 84.8L616.3 86.8L615.1 88.8L614.0 90.9L613.0 93.2L612.2 95.7L611.5 98.3L611.2 101.2L611.1 104.2L611.2 106.9L611.7 109.4L612.7 111.7L614.0 113.8L615.5 115.6L617.1 117.3L618.7 119.0L620.3 120.6L621.7 122.1L622.9 123.6L623.9 125.2L624.8 126.7L625.4 128.2L625.8 130.1L625.8 131.7L625.9 133.3L626.0 134.8L626.1 136.2L626.3 137.5L626.5 138.8L626.7 140.0L626.9 141.2L627.2 142.3L627.4 143.5L627.7 144.8L628.3 146.1L628.8 147.5L629.3 149.1L630.9 149.1L631.3 147.4L631.7 145.8L632.0 144.3L632.0 142.9L631.8 141.6L631.6 140.3L631.4 139.1L631.2 137.9L630.9 136.8L630.7 135.6L630.5 134.3L630.4 133.0L630.2 131.6L630.2 129.9L630.1 127.3L629.6 124.8L628.6 122.5L627.3 120.4L625.8 118.6L624.2 116.9L622.6 115.2L621.0 113.6L619.6 112.1L618.4 110.6L617.4 109.0L616.5 107.5L615.9 106.0L615.5 104.2L615.7 101.7L616.3 99.4L617.0 97.3L617.8 95.3L618.8 93.4L619.9 91.4L621.0 89.4L622.2 87.4L623.3 85.3L624.3 83.0L624.9 80.4L625.1 77.7L624.9 74.9L624.6 72.0Z" fill="#cc00b6" stroke="#cc00b6" stroke-width="0.5" stroke-linejoin="round"/><path d="M611.2 106.9L611.7 109.4L612.7 111.7L614.0 113.8L615.5 115.6L617.1 117.3L618.7 119.0L620.3 120.6L621.7 122.1L622.9 123.6L623.9 125.2L624.8 126.7L625.4 128.2L625.8 130.1L630.2 129.9L630.1 127.3L629.6 124.8L628.6 122.5L627.3 120.4L625.8 118.6L624.2 116.9L622.6 115.2L621.0 113.6L619.6 112.1L618.4 110.6L617.4 109.0L616.5 107.5L615.9 106.0Z" fill="#9c0a94" stroke="#9c0a94" stroke-width="0.5" stroke-linejoin="round"/><path d="M625.8 131.7L625.9 133.3L626.0 134.8L626.1 136.2L626.3 137.5L626.5 138.8L626.7 140.0L626.9 141.2L627.2 142.3L627.4 143.5L627.7 144.8L628.3 146.1L628.8 147.5L629.3 149.1L630.9 149.1L631.3 147.4L631.7 145.8L632.0 144.3L632.0 142.9L631.8 141.6L631.6 140.3L631.4 139.1L631.2 137.9L630.9 136.8L630.7 135.6L630.5 134.3L630.4 133.0L630.2 131.6Z" fill="#9c0a94" stroke="#9c0a94" stroke-width="0.5" stroke-linejoin="round"/><path d="M647.5 41.2L647.1 42.7L646.4 44.0L645.6 45.0L644.7 46.0L643.8 46.9L642.7 47.9L641.9 49.0L641.0 50.2L640.1 51.5L639.2 52.9L638.5 54.5L638.1 56.2L637.8 58.0L637.8 60.0L637.8 62.0L638.0 63.8L638.3 65.5L638.8 67.1L639.3 68.6L639.9 70.0L640.6 71.2L641.2 72.4L641.8 73.6L642.4 74.8L642.9 75.9L643.3 77.2L643.6 78.5L643.8 80.0L643.5 81.5L643.0 82.8L642.3 84.0L641.5 85.3L640.6 86.5L639.5 87.8L638.3 89.2L637.0 90.6L635.8 92.0L634.6 93.6L633.6 95.4L632.8 97.4L632.4 99.6L632.4 101.9L632.4 104.3L632.9 106.5L633.7 108.6L634.9 110.4L636.1 112.0L637.5 113.6L638.8 115.0L640.1 116.4L641.3 117.7L642.3 119.0L643.2 120.3L644.3 121.4L645.4 122.7L646.2 124.5L647.8 124.3L648.2 122.2L648.4 119.9L647.9 117.7L646.7 115.9L645.5 114.3L644.1 112.7L642.8 111.3L641.5 109.9L640.3 108.6L639.3 107.3L638.4 106.0L637.7 104.7L637.1 103.4L636.8 101.9L637.1 100.4L637.6 99.1L638.3 97.9L639.1 96.6L640.0 95.4L641.1 94.1L642.3 92.7L643.6 91.3L644.8 89.9L646.0 88.3L647.0 86.5L647.8 84.5L648.2 82.3L648.2 80.0L648.2 78.0L648.0 76.2L647.7 74.5L647.2 72.9L646.7 71.4L646.1 70.0L645.4 68.8L644.8 67.6L644.2 66.4L643.6 65.2L643.1 64.1L642.7 62.8L642.4 61.5L642.2 60.0L642.4 58.7L642.8 57.6L643.4 56.5L644.0 55.5L644.6 54.4L645.4 53.3L646.2 52.2L647.1 51.0L647.7 49.5L648.3 48.0L648.7 46.4L648.9 44.7L648.9 42.9L648.7 41.2Z" fill="#cc00b6" stroke="#cc00b6" stroke-width="0.5" stroke-linejoin="round"/><path d="M637.8 62.0L638.0 63.8L638.3 65.5L638.8 67.1L639.3 68.6L639.9 70.0L640.6 71.2L641.2 72.4L641.8 73.6L642.4 74.8L642.9 75.9L643.3 77.2L643.6 78.5L643.8 80.0L648.2 80.0L648.2 78.0L648.0 76.2L647.7 74.5L647.2 72.9L646.7 71.4L646.1 70.0L645.4 68.8L644.8 67.6L644.2 66.4L643.6 65.2L643.1 64.1L642.7 62.8L642.4 61.5Z" fill="#9c0a94" stroke="#9c0a94" stroke-width="0.5" stroke-linejoin="round"/><path d="M632.4 104.3L632.9 106.5L633.7 108.6L634.9 110.4L636.1 112.0L637.5 113.6L638.8 115.0L640.1 116.4L641.3 117.7L642.3 119.0L643.2 120.3L644.3 121.4L645.4 122.7L646.2 124.5L647.8 124.3L648.2 122.2L648.4 119.9L647.9 117.7L646.7 115.9L645.5 114.3L644.1 112.7L642.8 111.3L641.5 109.9L640.3 108.6L639.3 107.3L638.4 106.0L637.7 104.7L637.1 103.4Z" fill="#9c0a94" stroke="#9c0a94" stroke-width="0.5" stroke-linejoin="round"/><circle cx="533.6" cy="140.70000000000002" r="6.5" fill="none" stroke="#f03a12" stroke-width="2.8"/><path d="M529.00385 136.10385000000002L538.19615 145.29615" stroke="#f03a12" stroke-width="2.8"/><circle cx="586.7" cy="124.5" r="6.5" fill="none" stroke="#f03a12" stroke-width="2.8"/><path d="M582.1038500000001 119.90385L591.29615 129.09615" stroke="#f03a12" stroke-width="2.8"/><circle cx="601.4" cy="151.0" r="6.5" fill="none" stroke="#f03a12" stroke-width="2.8"/><path d="M596.80385 146.40385L605.99615 155.59615" stroke="#f03a12" stroke-width="2.8"/><circle cx="648.1" cy="140.20000000000002" r="6.5" fill="none" stroke="#f03a12" stroke-width="2.8"/><path d="M643.50385 135.60385000000002L652.69615 144.79615" stroke="#f03a12" stroke-width="2.8"/><g transform="translate(554.8 70.4)"><circle cx="13.1" cy="5.3" r="5.1" fill="#08752f"/><circle cx="9.7" cy="11.1" r="5.1" fill="#08752f"/><circle cx="2.9" cy="13.0" r="5.1" fill="#08752f"/><circle cx="-4.2" cy="13.9" r="5.1" fill="#08752f"/><circle cx="-10.2" cy="10.2" r="5.1" fill="#08752f"/><circle cx="-12.7" cy="4.2" r="5.1" fill="#08752f"/><circle cx="-13.9" cy="-2.3" r="5.1" fill="#08752f"/><circle cx="-9.1" cy="-7.3" r="5.1" fill="#08752f"/><circle cx="-3.0" cy="-10.2" r="5.1" fill="#08752f"/><circle cx="4.3" cy="-11.0" r="5.1" fill="#08752f"/><circle cx="9.6" cy="-6.4" r="5.1" fill="#08752f"/><circle cx="13.5" cy="-1.2" r="5.1" fill="#08752f"/><ellipse cx="0" cy="1.6" rx="13.7" ry="12.4" fill="#08752f"/><circle cx="13.1" cy="3.3" r="4.8" fill="#14a84a"/><circle cx="9.7" cy="9.1" r="4.8" fill="#14a84a"/><circle cx="2.9" cy="11.0" r="4.8" fill="#14a84a"/><circle cx="-4.2" cy="11.9" r="4.8" fill="#14a84a"/><circle cx="-10.2" cy="8.2" r="4.8" fill="#14a84a"/><circle cx="-12.7" cy="2.2" r="4.8" fill="#14a84a"/><circle cx="-13.9" cy="-4.3" r="4.8" fill="#14a84a"/><circle cx="-9.1" cy="-9.3" r="4.8" fill="#14a84a"/><circle cx="-3.0" cy="-12.2" r="4.8" fill="#14a84a"/><circle cx="4.3" cy="-13.0" r="4.8" fill="#14a84a"/><circle cx="9.6" cy="-8.4" r="4.8" fill="#14a84a"/><circle cx="13.5" cy="-3.2" r="4.8" fill="#14a84a"/><ellipse cx="0" cy="-0.4" rx="13.7" ry="12.4" fill="#14a84a"/><circle cx="12.2" cy="2.4" r="3.0" fill="#20b858" opacity="0.8"/><circle cx="9.0" cy="8.0" r="3.0" fill="#20b858" opacity="0.8"/><circle cx="2.3" cy="9.9" r="3.0" fill="#20b858" opacity="0.8"/><circle cx="-4.6" cy="10.7" r="3.0" fill="#20b858" opacity="0.8"/><circle cx="-10.4" cy="7.1" r="3.0" fill="#20b858" opacity="0.8"/><circle cx="-12.8" cy="1.3" r="3.0" fill="#20b858" opacity="0.8"/><circle cx="-13.9" cy="-5.0" r="3.0" fill="#20b858" opacity="0.8"/><circle cx="-9.3" cy="-9.8" r="3.0" fill="#20b858" opacity="0.8"/><circle cx="-3.4" cy="-12.6" r="3.0" fill="#20b858" opacity="0.8"/><circle cx="3.7" cy="-13.4" r="3.0" fill="#20b858" opacity="0.8"/><circle cx="8.8" cy="-9.0" r="3.0" fill="#20b858" opacity="0.8"/><circle cx="12.6" cy="-3.9" r="3.0" fill="#20b858" opacity="0.8"/><ellipse cx="-0.5" cy="-0.8" rx="13.5" ry="12.2" fill="url(#gCell)"/></g><g transform="translate(595.3 90.7)"><circle cx="13.1" cy="5.3" r="5.1" fill="#08752f"/><circle cx="9.7" cy="11.1" r="5.1" fill="#08752f"/><circle cx="2.9" cy="13.0" r="5.1" fill="#08752f"/><circle cx="-4.2" cy="13.9" r="5.1" fill="#08752f"/><circle cx="-10.2" cy="10.2" r="5.1" fill="#08752f"/><circle cx="-12.7" cy="4.2" r="5.1" fill="#08752f"/><circle cx="-13.9" cy="-2.3" r="5.1" fill="#08752f"/><circle cx="-9.1" cy="-7.3" r="5.1" fill="#08752f"/><circle cx="-3.0" cy="-10.2" r="5.1" fill="#08752f"/><circle cx="4.3" cy="-11.0" r="5.1" fill="#08752f"/><circle cx="9.6" cy="-6.4" r="5.1" fill="#08752f"/><circle cx="13.5" cy="-1.2" r="5.1" fill="#08752f"/><ellipse cx="0" cy="1.6" rx="13.7" ry="12.4" fill="#08752f"/><circle cx="13.1" cy="3.3" r="4.8" fill="#14a84a"/><circle cx="9.7" cy="9.1" r="4.8" fill="#14a84a"/><circle cx="2.9" cy="11.0" r="4.8" fill="#14a84a"/><circle cx="-4.2" cy="11.9" r="4.8" fill="#14a84a"/><circle cx="-10.2" cy="8.2" r="4.8" fill="#14a84a"/><circle cx="-12.7" cy="2.2" r="4.8" fill="#14a84a"/><circle cx="-13.9" cy="-4.3" r="4.8" fill="#14a84a"/><circle cx="-9.1" cy="-9.3" r="4.8" fill="#14a84a"/><circle cx="-3.0" cy="-12.2" r="4.8" fill="#14a84a"/><circle cx="4.3" cy="-13.0" r="4.8" fill="#14a84a"/><circle cx="9.6" cy="-8.4" r="4.8" fill="#14a84a"/><circle cx="13.5" cy="-3.2" r="4.8" fill="#14a84a"/><ellipse cx="0" cy="-0.4" rx="13.7" ry="12.4" fill="#14a84a"/><circle cx="12.2" cy="2.4" r="3.0" fill="#20b858" opacity="0.8"/><circle cx="9.0" cy="8.0" r="3.0" fill="#20b858" opacity="0.8"/><circle cx="2.3" cy="9.9" r="3.0" fill="#20b858" opacity="0.8"/><circle cx="-4.6" cy="10.7" r="3.0" fill="#20b858" opacity="0.8"/><circle cx="-10.4" cy="7.1" r="3.0" fill="#20b858" opacity="0.8"/><circle cx="-12.8" cy="1.3" r="3.0" fill="#20b858" opacity="0.8"/><circle cx="-13.9" cy="-5.0" r="3.0" fill="#20b858" opacity="0.8"/><circle cx="-9.3" cy="-9.8" r="3.0" fill="#20b858" opacity="0.8"/><circle cx="-3.4" cy="-12.6" r="3.0" fill="#20b858" opacity="0.8"/><circle cx="3.7" cy="-13.4" r="3.0" fill="#20b858" opacity="0.8"/><circle cx="8.8" cy="-9.0" r="3.0" fill="#20b858" opacity="0.8"/><circle cx="12.6" cy="-3.9" r="3.0" fill="#20b858" opacity="0.8"/><ellipse cx="-0.5" cy="-0.8" rx="13.5" ry="12.2" fill="url(#gCell)"/></g><g transform="translate(639.1 67.1)"><circle cx="13.1" cy="5.3" r="5.1" fill="#08752f"/><circle cx="9.7" cy="11.1" r="5.1" fill="#08752f"/><circle cx="2.9" cy="13.0" r="5.1" fill="#08752f"/><circle cx="-4.2" cy="13.9" r="5.1" fill="#08752f"/><circle cx="-10.2" cy="10.2" r="5.1" fill="#08752f"/><circle cx="-12.7" cy="4.2" r="5.1" fill="#08752f"/><circle cx="-13.9" cy="-2.3" r="5.1" fill="#08752f"/><circle cx="-9.1" cy="-7.3" r="5.1" fill="#08752f"/><circle cx="-3.0" cy="-10.2" r="5.1" fill="#08752f"/><circle cx="4.3" cy="-11.0" r="5.1" fill="#08752f"/><circle cx="9.6" cy="-6.4" r="5.1" fill="#08752f"/><circle cx="13.5" cy="-1.2" r="5.1" fill="#08752f"/><ellipse cx="0" cy="1.6" rx="13.7" ry="12.4" fill="#08752f"/><circle cx="13.1" cy="3.3" r="4.8" fill="#14a84a"/><circle cx="9.7" cy="9.1" r="4.8" fill="#14a84a"/><circle cx="2.9" cy="11.0" r="4.8" fill="#14a84a"/><circle cx="-4.2" cy="11.9" r="4.8" fill="#14a84a"/><circle cx="-10.2" cy="8.2" r="4.8" fill="#14a84a"/><circle cx="-12.7" cy="2.2" r="4.8" fill="#14a84a"/><circle cx="-13.9" cy="-4.3" r="4.8" fill="#14a84a"/><circle cx="-9.1" cy="-9.3" r="4.8" fill="#14a84a"/><circle cx="-3.0" cy="-12.2" r="4.8" fill="#14a84a"/><circle cx="4.3" cy="-13.0" r="4.8" fill="#14a84a"/><circle cx="9.6" cy="-8.4" r="4.8" fill="#14a84a"/><circle cx="13.5" cy="-3.2" r="4.8" fill="#14a84a"/><ellipse cx="0" cy="-0.4" rx="13.7" ry="12.4" fill="#14a84a"/><circle cx="12.2" cy="2.4" r="3.0" fill="#20b858" opacity="0.8"/><circle cx="9.0" cy="8.0" r="3.0" fill="#20b858" opacity="0.8"/><circle cx="2.3" cy="9.9" r="3.0" fill="#20b858" opacity="0.8"/><circle cx="-4.6" cy="10.7" r="3.0" fill="#20b858" opacity="0.8"/><circle cx="-10.4" cy="7.1" r="3.0" fill="#20b858" opacity="0.8"/><circle cx="-12.8" cy="1.3" r="3.0" fill="#20b858" opacity="0.8"/><circle cx="-13.9" cy="-5.0" r="3.0" fill="#20b858" opacity="0.8"/><circle cx="-9.3" cy="-9.8" r="3.0" fill="#20b858" opacity="0.8"/><circle cx="-3.4" cy="-12.6" r="3.0" fill="#20b858" opacity="0.8"/><circle cx="3.7" cy="-13.4" r="3.0" fill="#20b858" opacity="0.8"/><circle cx="8.8" cy="-9.0" r="3.0" fill="#20b858" opacity="0.8"/><circle cx="12.6" cy="-3.9" r="3.0" fill="#20b858" opacity="0.8"/><ellipse cx="-0.5" cy="-0.8" rx="13.5" ry="12.2" fill="url(#gCell)"/></g><g transform="translate(418.6 108.4)"><circle cx="16.6" cy="5.8" r="6.4" fill="#08752f"/><circle cx="12.3" cy="12.5" r="6.4" fill="#08752f"/><circle cx="3.6" cy="14.6" r="6.4" fill="#08752f"/><circle cx="-5.3" cy="15.6" r="6.4" fill="#08752f"/><circle cx="-12.9" cy="11.4" r="6.4" fill="#08752f"/><circle cx="-16.1" cy="4.6" r="6.4" fill="#08752f"/><circle cx="-17.5" cy="-2.8" r="6.4" fill="#08752f"/><circle cx="-11.5" cy="-8.6" r="6.4" fill="#08752f"/><circle cx="-3.8" cy="-11.9" r="6.4" fill="#08752f"/><circle cx="5.4" cy="-12.7" r="6.4" fill="#08752f"/><circle cx="12.1" cy="-7.5" r="6.4" fill="#08752f"/><circle cx="17.1" cy="-1.6" r="6.4" fill="#08752f"/><ellipse cx="0" cy="1.6" rx="17.4" ry="14.2" fill="#08752f"/><circle cx="16.6" cy="3.8" r="6.1" fill="#14a84a"/><circle cx="12.3" cy="10.5" r="6.1" fill="#14a84a"/><circle cx="3.6" cy="12.6" r="6.1" fill="#14a84a"/><circle cx="-5.3" cy="13.6" r="6.1" fill="#14a84a"/><circle cx="-12.9" cy="9.4" r="6.1" fill="#14a84a"/><circle cx="-16.1" cy="2.6" r="6.1" fill="#14a84a"/><circle cx="-17.5" cy="-4.8" r="6.1" fill="#14a84a"/><circle cx="-11.5" cy="-10.6" r="6.1" fill="#14a84a"/><circle cx="-3.8" cy="-13.9" r="6.1" fill="#14a84a"/><circle cx="5.4" cy="-14.7" r="6.1" fill="#14a84a"/><circle cx="12.1" cy="-9.5" r="6.1" fill="#14a84a"/><circle cx="17.1" cy="-3.6" r="6.1" fill="#14a84a"/><ellipse cx="0" cy="-0.4" rx="17.4" ry="14.2" fill="#14a84a"/><circle cx="15.6" cy="2.9" r="3.9" fill="#20b858" opacity="0.8"/><circle cx="11.5" cy="9.3" r="3.9" fill="#20b858" opacity="0.8"/><circle cx="3.0" cy="11.4" r="3.9" fill="#20b858" opacity="0.8"/><circle cx="-5.7" cy="12.4" r="3.9" fill="#20b858" opacity="0.8"/><circle cx="-13.0" cy="8.3" r="3.9" fill="#20b858" opacity="0.8"/><circle cx="-16.1" cy="1.7" r="3.9" fill="#20b858" opacity="0.8"/><circle cx="-17.5" cy="-5.5" r="3.9" fill="#20b858" opacity="0.8"/><circle cx="-11.7" cy="-11.1" r="3.9" fill="#20b858" opacity="0.8"/><circle cx="-4.1" cy="-14.3" r="3.9" fill="#20b858" opacity="0.8"/><circle cx="4.8" cy="-15.1" r="3.9" fill="#20b858" opacity="0.8"/><circle cx="11.2" cy="-10.1" r="3.9" fill="#20b858" opacity="0.8"/><circle cx="16.1" cy="-4.3" r="3.9" fill="#20b858" opacity="0.8"/><ellipse cx="-0.5" cy="-0.8" rx="17.1" ry="14.4" fill="url(#gCell)"/></g><g font-family="'Liberation Sans', Arial, sans-serif" font-weight="bold" fill="#000"><text x="100.3" y="129.3" font-size="20" textLength="44" lengthAdjust="spacingAndGlyphs">MCH</text><text x="12.4" y="370" font-size="19.6" textLength="31.3" lengthAdjust="spacingAndGlyphs">Apt</text><text x="115.6" y="526.5" font-size="19.6" textLength="59.5" lengthAdjust="spacingAndGlyphs">Au-GR</text><text x="652.8" y="229.5" font-size="19.6" textLength="49.2" lengthAdjust="spacingAndGlyphs">Label</text><text x="372.6" y="54.2" font-size="19.8" transform="rotate(3.8 372.6 54.2)">CCRF-ECM cell</text></g><text x="17.7" y="43.8" font-family="'Liberation Serif', 'Times New Roman', serif" font-weight="bold" font-size="25" textLength="17" lengthAdjust="spacingAndGlyphs">A</text><rect x="186.4" y="209.3" width="359.8" height="207.2" fill="none" stroke="#4390c8" stroke-width="1.25" stroke-dasharray="5.8 3.3"/><text x="191.8" y="230.1" font-family="'Liberation Serif', 'Times New Roman', serif" font-weight="bold" font-size="24" textLength="14.6" lengthAdjust="spacingAndGlyphs">B</text><rect x="205.5" y="308.5" width="36.5" height="27.5" fill="#bee9fd"/><rect x="308.1" y="390.4" width="93" height="25.5" fill="#bee9fd"/><rect x="430" y="324" width="115" height="26.5" fill="#bee9fd"/><g font-family="'Liberation Serif', 'Times New Roman', serif" font-weight="bold" font-size="22" fill="#000"><text x="210" y="329.5" textLength="22.3" lengthAdjust="spacingAndGlyphs">Gr</text><text x="310.3" y="411" textLength="74.8" lengthAdjust="spacingAndGlyphs">CuS–GR</text><text x="432.2" y="344.5" textLength="109.5" lengthAdjust="spacingAndGlyphs">Apt-CuS-GR</text><text x="0" y="0" font-size="21" transform="translate(271.8 289.3) rotate(47)">CuS</text><text x="0" y="0" font-size="21" transform="translate(405.2 310) rotate(-38)">Apt</text></g><path d="M263.1 294.1L283.8 318.0L281.9 319.6L290.6 322.0L289.5 313.1L287.6 314.7L266.9 290.9Z" fill="#7fa9d8"/><path d="M411.0 318.1L433.4 303.6L434.9 305.8L439.0 296.6L428.9 296.6L430.3 298.9L408.0 313.5Z" fill="#7fa9d8"/><g><path d="M195.3 244.3L190.4 245.1M197.8 237.5L194.6 233.7M202.2 262.3L200.5 267.0M197.5 256.7L192.6 257.5M207.5 229.4L204.3 225.6M214.6 228.1L216.2 223.4M216.2 279.0L214.5 283.7M211.5 273.5L206.6 274.5M228.0 283.3L226.2 288.0M228.9 225.6L225.6 221.8M236.1 224.3L237.8 219.6M247.1 286.4L250.4 290.2M239.9 287.7L238.2 292.4M248.0 228.7L249.8 224.0M259.8 233.0L261.5 228.3M264.5 238.5L269.4 237.5M268.5 282.6L271.7 286.4M261.4 283.9L259.8 288.6M273.8 249.7L275.5 245.0M278.5 255.3L283.4 254.5M278.2 274.5L281.4 278.3M280.7 267.7L285.6 266.9" stroke="#d4b890" stroke-width="1.2000000000000002" fill="none"/><circle cx="190.4" cy="245.1" r="0.84" fill="#d8b98a"/><circle cx="194.6" cy="233.7" r="0.84" fill="#d8b98a"/><circle cx="200.5" cy="267.0" r="0.84" fill="#d8b98a"/><circle cx="192.6" cy="257.5" r="0.84" fill="#d8b98a"/><circle cx="204.3" cy="225.6" r="0.84" fill="#d8b98a"/><circle cx="216.2" cy="223.4" r="0.84" fill="#d8b98a"/><circle cx="214.5" cy="283.7" r="0.84" fill="#d8b98a"/><circle cx="206.6" cy="274.5" r="0.84" fill="#d8b98a"/><circle cx="226.2" cy="288.0" r="0.84" fill="#d8b98a"/><circle cx="225.6" cy="221.8" r="0.84" fill="#d8b98a"/><circle cx="237.8" cy="219.6" r="0.84" fill="#d8b98a"/><circle cx="250.4" cy="290.2" r="0.84" fill="#d8b98a"/><circle cx="238.2" cy="292.4" r="0.84" fill="#d8b98a"/><circle cx="249.8" cy="224.0" r="0.84" fill="#d8b98a"/><circle cx="261.5" cy="228.3" r="0.84" fill="#d8b98a"/><circle cx="269.4" cy="237.5" r="0.84" fill="#d8b98a"/><circle cx="271.7" cy="286.4" r="0.84" fill="#d8b98a"/><circle cx="259.8" cy="288.6" r="0.84" fill="#d8b98a"/><circle cx="275.5" cy="245.0" r="0.84" fill="#d8b98a"/><circle cx="283.4" cy="254.5" r="0.84" fill="#d8b98a"/><circle cx="281.4" cy="278.3" r="0.84" fill="#d8b98a"/><circle cx="285.6" cy="266.9" r="0.84" fill="#d8b98a"/><path d="M195.3 244.3L197.8 237.5M195.3 244.3L200.0 249.9M197.8 237.5L205.0 236.2M197.5 256.7L200.0 249.9M197.5 256.7L202.2 262.3M200.0 249.9L207.2 248.6M202.2 262.3L209.3 261.1M205.0 236.2L207.5 229.4M205.0 236.2L209.6 241.8M207.2 248.6L209.6 241.8M207.2 248.6L211.8 254.2M207.5 229.4L214.6 228.1M209.3 261.1L211.8 254.2M209.3 261.1L214.0 266.6M209.6 241.8L216.8 240.5M211.8 254.2L219.0 253.0M211.5 273.5L214.0 266.6M211.5 273.5L216.2 279.0M214.0 266.6L221.2 265.4M214.6 228.1L219.3 233.7M216.2 279.0L223.4 277.8M216.8 240.5L219.3 233.7M216.8 240.5L221.5 246.1M219.3 233.7L226.5 232.4M219.0 253.0L221.5 246.1M219.0 253.0L223.7 258.5M221.2 265.4L223.7 258.5M221.2 265.4L225.9 270.9M221.5 246.1L228.6 244.9M223.4 277.8L225.9 270.9M223.4 277.8L228.0 283.3M223.7 258.5L230.8 257.3M226.5 232.4L228.9 225.6M226.5 232.4L231.1 238.0M225.9 270.9L233.0 269.7M228.0 283.3L235.2 282.1M228.9 225.6L236.1 224.3M228.6 244.9L231.1 238.0M228.6 244.9L233.3 250.4M231.1 238.0L238.3 236.8M230.8 257.3L233.3 250.4M230.8 257.3L235.5 262.8M233.3 250.4L240.5 249.2M233.0 269.7L235.5 262.8M233.0 269.7L237.7 275.2M235.2 282.1L237.7 275.2M235.2 282.1L239.9 287.7M236.1 224.3L240.8 229.9M235.5 262.8L242.7 261.6M238.3 236.8L240.8 229.9M238.3 236.8L243.0 242.3M237.7 275.2L244.9 274.0M240.5 249.2L243.0 242.3M240.5 249.2L245.2 254.7M239.9 287.7L247.1 286.4M240.8 229.9L248.0 228.7M243.0 242.3L250.1 241.1M242.7 261.6L245.2 254.7M242.7 261.6L247.4 267.1M245.2 254.7L252.3 253.5M244.9 274.0L247.4 267.1M244.9 274.0L249.5 279.6M247.4 267.1L254.5 265.9M247.1 286.4L249.5 279.6M248.0 228.7L252.6 234.2M250.1 241.1L252.6 234.2M250.1 241.1L254.8 246.6M249.5 279.6L256.7 278.3M252.3 253.5L254.8 246.6M252.3 253.5L257.0 259.0M252.6 234.2L259.8 233.0M254.5 265.9L257.0 259.0M254.5 265.9L259.2 271.5M254.8 246.6L262.0 245.4M257.0 259.0L264.2 257.8M256.7 278.3L259.2 271.5M256.7 278.3L261.4 283.9M259.2 271.5L266.4 270.2M259.8 233.0L264.5 238.5M261.4 283.9L268.5 282.6M262.0 245.4L264.5 238.5M262.0 245.4L266.7 250.9M264.2 257.8L266.7 250.9M264.2 257.8L268.8 263.4M266.4 270.2L268.8 263.4M266.4 270.2L271.0 275.8M266.7 250.9L273.8 249.7M268.5 282.6L271.0 275.8M268.8 263.4L276.0 262.1M271.0 275.8L278.2 274.5M273.8 249.7L278.5 255.3M276.0 262.1L278.5 255.3M276.0 262.1L280.7 267.7M278.2 274.5L280.7 267.7" stroke="#c4aa88" stroke-width="1.52" fill="none" opacity="0.7"/><path d="M195.3 244.3L197.8 237.5M195.3 244.3L200.0 249.9M197.8 237.5L205.0 236.2M197.5 256.7L200.0 249.9M197.5 256.7L202.2 262.3M200.0 249.9L207.2 248.6M202.2 262.3L209.3 261.1M205.0 236.2L207.5 229.4M205.0 236.2L209.6 241.8M207.2 248.6L209.6 241.8M207.2 248.6L211.8 254.2M207.5 229.4L214.6 228.1M209.3 261.1L211.8 254.2M209.3 261.1L214.0 266.6M209.6 241.8L216.8 240.5M211.8 254.2L219.0 253.0M211.5 273.5L214.0 266.6M211.5 273.5L216.2 279.0M214.0 266.6L221.2 265.4M214.6 228.1L219.3 233.7M216.2 279.0L223.4 277.8M216.8 240.5L219.3 233.7M216.8 240.5L221.5 246.1M219.3 233.7L226.5 232.4M219.0 253.0L221.5 246.1M219.0 253.0L223.7 258.5M221.2 265.4L223.7 258.5M221.2 265.4L225.9 270.9M221.5 246.1L228.6 244.9M223.4 277.8L225.9 270.9M223.4 277.8L228.0 283.3M223.7 258.5L230.8 257.3M226.5 232.4L228.9 225.6M226.5 232.4L231.1 238.0M225.9 270.9L233.0 269.7M228.0 283.3L235.2 282.1M228.9 225.6L236.1 224.3M228.6 244.9L231.1 238.0M228.6 244.9L233.3 250.4M231.1 238.0L238.3 236.8M230.8 257.3L233.3 250.4M230.8 257.3L235.5 262.8M233.3 250.4L240.5 249.2M233.0 269.7L235.5 262.8M233.0 269.7L237.7 275.2M235.2 282.1L237.7 275.2M235.2 282.1L239.9 287.7M236.1 224.3L240.8 229.9M235.5 262.8L242.7 261.6M238.3 236.8L240.8 229.9M238.3 236.8L243.0 242.3M237.7 275.2L244.9 274.0M240.5 249.2L243.0 242.3M240.5 249.2L245.2 254.7M239.9 287.7L247.1 286.4M240.8 229.9L248.0 228.7M243.0 242.3L250.1 241.1M242.7 261.6L245.2 254.7M242.7 261.6L247.4 267.1M245.2 254.7L252.3 253.5M244.9 274.0L247.4 267.1M244.9 274.0L249.5 279.6M247.4 267.1L254.5 265.9M247.1 286.4L249.5 279.6M248.0 228.7L252.6 234.2M250.1 241.1L252.6 234.2M250.1 241.1L254.8 246.6M249.5 279.6L256.7 278.3M252.3 253.5L254.8 246.6M252.3 253.5L257.0 259.0M252.6 234.2L259.8 233.0M254.5 265.9L257.0 259.0M254.5 265.9L259.2 271.5M254.8 246.6L262.0 245.4M257.0 259.0L264.2 257.8M256.7 278.3L259.2 271.5M256.7 278.3L261.4 283.9M259.2 271.5L266.4 270.2M259.8 233.0L264.5 238.5M261.4 283.9L268.5 282.6M262.0 245.4L264.5 238.5M262.0 245.4L266.7 250.9M264.2 257.8L266.7 250.9M264.2 257.8L268.8 263.4M266.4 270.2L268.8 263.4M266.4 270.2L271.0 275.8M266.7 250.9L273.8 249.7M268.5 282.6L271.0 275.8M268.8 263.4L276.0 262.1M271.0 275.8L278.2 274.5M273.8 249.7L278.5 255.3M276.0 262.1L278.5 255.3M276.0 262.1L280.7 267.7M278.2 274.5L280.7 267.7" stroke="#2a1c10" stroke-width="0.68" fill="none"/><circle cx="207.2" cy="248.6" r="1.35" fill="#e2cfa8" stroke="#050505" stroke-width="1.08"/><circle cx="200.0" cy="249.9" r="1.35" fill="#e2cfa8" stroke="#050505" stroke-width="1.08"/><circle cx="195.3" cy="244.3" r="1.35" fill="#e2cfa8" stroke="#050505" stroke-width="1.08"/><circle cx="197.8" cy="237.5" r="1.35" fill="#e2cfa8" stroke="#050505" stroke-width="1.08"/><circle cx="205.0" cy="236.2" r="1.35" fill="#e2cfa8" stroke="#050505" stroke-width="1.08"/><circle cx="209.6" cy="241.8" r="1.35" fill="#e2cfa8" stroke="#050505" stroke-width="1.08"/><circle cx="209.3" cy="261.1" r="1.35" fill="#e2cfa8" stroke="#050505" stroke-width="1.08"/><circle cx="202.2" cy="262.3" r="1.35" fill="#e2cfa8" stroke="#050505" stroke-width="1.08"/><circle cx="197.5" cy="256.7" r="1.35" fill="#e2cfa8" stroke="#050505" stroke-width="1.08"/><circle cx="211.8" cy="254.2" r="1.35" fill="#e2cfa8" stroke="#050505" stroke-width="1.08"/><circle cx="216.8" cy="240.5" r="1.35" fill="#e2cfa8" stroke="#050505" stroke-width="1.08"/><circle cx="207.5" cy="229.4" r="1.35" fill="#e2cfa8" stroke="#050505" stroke-width="1.08"/><circle cx="214.6" cy="228.1" r="1.35" fill="#e2cfa8" stroke="#050505" stroke-width="1.08"/><circle cx="219.3" cy="233.7" r="1.35" fill="#e2cfa8" stroke="#050505" stroke-width="1.08"/><circle cx="219.0" cy="253.0" r="1.35" fill="#e2cfa8" stroke="#050505" stroke-width="1.08"/><circle cx="221.5" cy="246.1" r="1.35" fill="#e2cfa8" stroke="#050505" stroke-width="1.08"/><circle cx="221.2" cy="265.4" r="1.35" fill="#e2cfa8" stroke="#050505" stroke-width="1.08"/><circle cx="214.0" cy="266.6" r="1.35" fill="#e2cfa8" stroke="#050505" stroke-width="1.08"/><circle cx="223.7" cy="258.5" r="1.35" fill="#e2cfa8" stroke="#050505" stroke-width="1.08"/><circle cx="223.4" cy="277.8" r="1.35" fill="#e2cfa8" stroke="#050505" stroke-width="1.08"/><circle cx="216.2" cy="279.0" r="1.35" fill="#e2cfa8" stroke="#050505" stroke-width="1.08"/><circle cx="211.5" cy="273.5" r="1.35" fill="#e2cfa8" stroke="#050505" stroke-width="1.08"/><circle cx="225.9" cy="270.9" r="1.35" fill="#e2cfa8" stroke="#050505" stroke-width="1.08"/><circle cx="228.6" cy="244.9" r="1.35" fill="#e2cfa8" stroke="#050505" stroke-width="1.08"/><circle cx="226.5" cy="232.4" r="1.35" fill="#e2cfa8" stroke="#050505" stroke-width="1.08"/><circle cx="231.1" cy="238.0" r="1.35" fill="#e2cfa8" stroke="#050505" stroke-width="1.08"/><circle cx="230.8" cy="257.3" r="1.35" fill="#e2cfa8" stroke="#050505" stroke-width="1.08"/><circle cx="233.3" cy="250.4" r="1.35" fill="#e2cfa8" stroke="#050505" stroke-width="1.08"/><circle cx="233.0" cy="269.7" r="1.35" fill="#e2cfa8" stroke="#050505" stroke-width="1.08"/><circle cx="235.5" cy="262.8" r="1.35" fill="#e2cfa8" stroke="#050505" stroke-width="1.08"/><circle cx="235.2" cy="282.1" r="1.35" fill="#e2cfa8" stroke="#050505" stroke-width="1.08"/><circle cx="228.0" cy="283.3" r="1.35" fill="#e2cfa8" stroke="#050505" stroke-width="1.08"/><circle cx="237.7" cy="275.2" r="1.35" fill="#e2cfa8" stroke="#050505" stroke-width="1.08"/><circle cx="238.3" cy="236.8" r="1.35" fill="#e2cfa8" stroke="#050505" stroke-width="1.08"/><circle cx="228.9" cy="225.6" r="1.35" fill="#e2cfa8" stroke="#050505" stroke-width="1.08"/><circle cx="236.1" cy="224.3" r="1.35" fill="#e2cfa8" stroke="#050505" stroke-width="1.08"/><circle cx="240.8" cy="229.9" r="1.35" fill="#e2cfa8" stroke="#050505" stroke-width="1.08"/><circle cx="240.5" cy="249.2" r="1.35" fill="#e2cfa8" stroke="#050505" stroke-width="1.08"/><circle cx="243.0" cy="242.3" r="1.35" fill="#e2cfa8" stroke="#050505" stroke-width="1.08"/><circle cx="242.7" cy="261.6" r="1.35" fill="#e2cfa8" stroke="#050505" stroke-width="1.08"/><circle cx="245.2" cy="254.7" r="1.35" fill="#e2cfa8" stroke="#050505" stroke-width="1.08"/><circle cx="244.9" cy="274.0" r="1.35" fill="#e2cfa8" stroke="#050505" stroke-width="1.08"/><circle cx="247.4" cy="267.1" r="1.35" fill="#e2cfa8" stroke="#050505" stroke-width="1.08"/><circle cx="247.1" cy="286.4" r="1.35" fill="#e2cfa8" stroke="#050505" stroke-width="1.08"/><circle cx="239.9" cy="287.7" r="1.35" fill="#e2cfa8" stroke="#050505" stroke-width="1.08"/><circle cx="249.5" cy="279.6" r="1.35" fill="#e2cfa8" stroke="#050505" stroke-width="1.08"/><circle cx="250.1" cy="241.1" r="1.35" fill="#e2cfa8" stroke="#050505" stroke-width="1.08"/><circle cx="248.0" cy="228.7" r="1.35" fill="#e2cfa8" stroke="#050505" stroke-width="1.08"/><circle cx="252.6" cy="234.2" r="1.35" fill="#e2cfa8" stroke="#050505" stroke-width="1.08"/><circle cx="252.3" cy="253.5" r="1.35" fill="#e2cfa8" stroke="#050505" stroke-width="1.08"/><circle cx="254.8" cy="246.6" r="1.35" fill="#e2cfa8" stroke="#050505" stroke-width="1.08"/><circle cx="254.5" cy="265.9" r="1.35" fill="#e2cfa8" stroke="#050505" stroke-width="1.08"/><circle cx="257.0" cy="259.0" r="1.35" fill="#e2cfa8" stroke="#050505" stroke-width="1.08"/><circle cx="256.7" cy="278.3" r="1.35" fill="#e2cfa8" stroke="#050505" stroke-width="1.08"/><circle cx="259.2" cy="271.5" r="1.35" fill="#e2cfa8" stroke="#050505" stroke-width="1.08"/><circle cx="262.0" cy="245.4" r="1.35" fill="#e2cfa8" stroke="#050505" stroke-width="1.08"/><circle cx="259.8" cy="233.0" r="1.35" fill="#e2cfa8" stroke="#050505" stroke-width="1.08"/><circle cx="264.5" cy="238.5" r="1.35" fill="#e2cfa8" stroke="#050505" stroke-width="1.08"/><circle cx="264.2" cy="257.8" r="1.35" fill="#e2cfa8" stroke="#050505" stroke-width="1.08"/><circle cx="266.7" cy="250.9" r="1.35" fill="#e2cfa8" stroke="#050505" stroke-width="1.08"/><circle cx="266.4" cy="270.2" r="1.35" fill="#e2cfa8" stroke="#050505" stroke-width="1.08"/><circle cx="268.8" cy="263.4" r="1.35" fill="#e2cfa8" stroke="#050505" stroke-width="1.08"/><circle cx="268.5" cy="282.6" r="1.35" fill="#e2cfa8" stroke="#050505" stroke-width="1.08"/><circle cx="261.4" cy="283.9" r="1.35" fill="#e2cfa8" stroke="#050505" stroke-width="1.08"/><circle cx="271.0" cy="275.8" r="1.35" fill="#e2cfa8" stroke="#050505" stroke-width="1.08"/><circle cx="276.0" cy="262.1" r="1.35" fill="#e2cfa8" stroke="#050505" stroke-width="1.08"/><circle cx="273.8" cy="249.7" r="1.35" fill="#e2cfa8" stroke="#050505" stroke-width="1.08"/><circle cx="278.5" cy="255.3" r="1.35" fill="#e2cfa8" stroke="#050505" stroke-width="1.08"/><circle cx="278.2" cy="274.5" r="1.35" fill="#e2cfa8" stroke="#050505" stroke-width="1.08"/><circle cx="280.7" cy="267.7" r="1.35" fill="#e2cfa8" stroke="#050505" stroke-width="1.08"/></g><g><g><path d="M305.6 322.3L299.7 323.6M308.4 313.2L304.3 308.9M309.3 338.5L303.4 339.8M313.1 354.7L307.3 356.1M323.4 377.9L321.7 383.7M316.8 370.9L311.0 372.3M320.6 301.9L316.5 297.5M329.9 299.7L331.6 294.0M348.6 380.6L352.7 385.0M339.2 382.7L337.4 388.4M345.8 304.6L347.6 298.9M361.6 309.4L363.3 303.6M376.6 374.1L380.7 378.5M367.2 376.3L365.4 382.0M377.5 314.3L379.2 308.5M393.4 319.1L395.1 313.4M399.9 326.1L405.7 324.7M403.7 342.3L409.5 340.9M404.6 367.6L408.7 372.0M395.3 369.8L393.6 375.6M407.4 358.5L413.3 357.2" stroke="#d4b890" stroke-width="1.5" fill="none"/><circle cx="299.7" cy="323.6" r="1.05" fill="#d8b98a"/><circle cx="304.3" cy="308.9" r="1.05" fill="#d8b98a"/><circle cx="303.4" cy="339.8" r="1.05" fill="#d8b98a"/><circle cx="307.3" cy="356.1" r="1.05" fill="#d8b98a"/><circle cx="321.7" cy="383.7" r="1.05" fill="#d8b98a"/><circle cx="311.0" cy="372.3" r="1.05" fill="#d8b98a"/><circle cx="316.5" cy="297.5" r="1.05" fill="#d8b98a"/><circle cx="331.6" cy="294.0" r="1.05" fill="#d8b98a"/><circle cx="352.7" cy="385.0" r="1.05" fill="#d8b98a"/><circle cx="337.4" cy="388.4" r="1.05" fill="#d8b98a"/><circle cx="347.6" cy="298.9" r="1.05" fill="#d8b98a"/><circle cx="363.3" cy="303.6" r="1.05" fill="#d8b98a"/><circle cx="380.7" cy="378.5" r="1.05" fill="#d8b98a"/><circle cx="365.4" cy="382.0" r="1.05" fill="#d8b98a"/><circle cx="379.2" cy="308.5" r="1.05" fill="#d8b98a"/><circle cx="395.1" cy="313.4" r="1.05" fill="#d8b98a"/><circle cx="405.7" cy="324.7" r="1.05" fill="#d8b98a"/><circle cx="409.5" cy="340.9" r="1.05" fill="#d8b98a"/><circle cx="408.7" cy="372.0" r="1.05" fill="#d8b98a"/><circle cx="393.6" cy="375.6" r="1.05" fill="#d8b98a"/><circle cx="413.3" cy="357.2" r="1.05" fill="#d8b98a"/><path d="M305.6 322.3L308.4 313.2M305.6 322.3L312.1 329.4M308.4 313.2L317.8 311.0M309.3 338.5L312.1 329.4M309.3 338.5L315.9 345.5M312.1 329.4L321.5 327.2M313.1 354.7L315.9 345.5M313.1 354.7L319.6 361.7M315.9 345.5L325.2 343.4M316.8 370.9L319.6 361.7M316.8 370.9L323.4 377.9M317.8 311.0L320.6 301.9M317.8 311.0L324.3 318.0M319.6 361.7L329.0 359.6M320.6 301.9L329.9 299.7M321.5 327.2L324.3 318.0M321.5 327.2L328.0 334.2M323.4 377.9L332.7 375.7M324.3 318.0L333.6 315.9M325.2 343.4L328.0 334.2M325.2 343.4L331.8 350.4M328.0 334.2L337.4 332.1M329.0 359.6L331.8 350.4M329.0 359.6L335.5 366.6M329.9 299.7L336.4 306.7M331.8 350.4L341.1 348.2M332.7 375.7L335.5 366.6M332.7 375.7L339.2 382.7M333.6 315.9L336.4 306.7M333.6 315.9L340.2 322.9M336.4 306.7L345.8 304.6M335.5 366.6L344.8 364.4M337.4 332.1L340.2 322.9M337.4 332.1L343.9 339.1M339.2 382.7L348.6 380.6M340.2 322.9L349.5 320.7M341.1 348.2L343.9 339.1M341.1 348.2L347.6 355.2M343.9 339.1L353.2 336.9M344.8 364.4L347.6 355.2M344.8 364.4L351.4 371.4M345.8 304.6L352.3 311.6M347.6 355.2L357.0 353.1M348.6 380.6L351.4 371.4M349.5 320.7L352.3 311.6M349.5 320.7L356.0 327.7M351.4 371.4L360.7 369.3M352.3 311.6L361.6 309.4M353.2 336.9L356.0 327.7M353.2 336.9L359.8 343.9M356.0 327.7L365.4 325.6M357.0 353.1L359.8 343.9M357.0 353.1L363.5 360.1M359.8 343.9L369.1 341.8M360.7 369.3L363.5 360.1M360.7 369.3L367.2 376.3M361.6 309.4L368.2 316.4M363.5 360.1L372.8 357.9M365.4 325.6L368.2 316.4M365.4 325.6L371.9 332.6M367.2 376.3L376.6 374.1M368.2 316.4L377.5 314.3M369.1 341.8L371.9 332.6M369.1 341.8L375.6 348.8M371.9 332.6L381.3 330.4M372.8 357.9L375.6 348.8M372.8 357.9L379.4 364.9M375.6 348.8L385.0 346.6M376.6 374.1L379.4 364.9M377.5 314.3L384.1 321.3M379.4 364.9L388.7 362.8M381.3 330.4L384.1 321.3M381.3 330.4L387.8 337.5M384.1 321.3L393.4 319.1M385.0 346.6L387.8 337.5M385.0 346.6L391.5 353.6M387.8 337.5L397.1 335.3M388.7 362.8L391.5 353.6M388.7 362.8L395.3 369.8M391.5 353.6L400.9 351.5M393.4 319.1L399.9 326.1M395.3 369.8L404.6 367.6M397.1 335.3L399.9 326.1M397.1 335.3L403.7 342.3M400.9 351.5L403.7 342.3M400.9 351.5L407.4 358.5M404.6 367.6L407.4 358.5" stroke="#c4aa88" stroke-width="1.9" fill="none" opacity="0.7"/><path d="M305.6 322.3L308.4 313.2M305.6 322.3L312.1 329.4M308.4 313.2L317.8 311.0M309.3 338.5L312.1 329.4M309.3 338.5L315.9 345.5M312.1 329.4L321.5 327.2M313.1 354.7L315.9 345.5M313.1 354.7L319.6 361.7M315.9 345.5L325.2 343.4M316.8 370.9L319.6 361.7M316.8 370.9L323.4 377.9M317.8 311.0L320.6 301.9M317.8 311.0L324.3 318.0M319.6 361.7L329.0 359.6M320.6 301.9L329.9 299.7M321.5 327.2L324.3 318.0M321.5 327.2L328.0 334.2M323.4 377.9L332.7 375.7M324.3 318.0L333.6 315.9M325.2 343.4L328.0 334.2M325.2 343.4L331.8 350.4M328.0 334.2L337.4 332.1M329.0 359.6L331.8 350.4M329.0 359.6L335.5 366.6M329.9 299.7L336.4 306.7M331.8 350.4L341.1 348.2M332.7 375.7L335.5 366.6M332.7 375.7L339.2 382.7M333.6 315.9L336.4 306.7M333.6 315.9L340.2 322.9M336.4 306.7L345.8 304.6M335.5 366.6L344.8 364.4M337.4 332.1L340.2 322.9M337.4 332.1L343.9 339.1M339.2 382.7L348.6 380.6M340.2 322.9L349.5 320.7M341.1 348.2L343.9 339.1M341.1 348.2L347.6 355.2M343.9 339.1L353.2 336.9M344.8 364.4L347.6 355.2M344.8 364.4L351.4 371.4M345.8 304.6L352.3 311.6M347.6 355.2L357.0 353.1M348.6 380.6L351.4 371.4M349.5 320.7L352.3 311.6M349.5 320.7L356.0 327.7M351.4 371.4L360.7 369.3M352.3 311.6L361.6 309.4M353.2 336.9L356.0 327.7M353.2 336.9L359.8 343.9M356.0 327.7L365.4 325.6M357.0 353.1L359.8 343.9M357.0 353.1L363.5 360.1M359.8 343.9L369.1 341.8M360.7 369.3L363.5 360.1M360.7 369.3L367.2 376.3M361.6 309.4L368.2 316.4M363.5 360.1L372.8 357.9M365.4 325.6L368.2 316.4M365.4 325.6L371.9 332.6M367.2 376.3L376.6 374.1M368.2 316.4L377.5 314.3M369.1 341.8L371.9 332.6M369.1 341.8L375.6 348.8M371.9 332.6L381.3 330.4M372.8 357.9L375.6 348.8M372.8 357.9L379.4 364.9M375.6 348.8L385.0 346.6M376.6 374.1L379.4 364.9M377.5 314.3L384.1 321.3M379.4 364.9L388.7 362.8M381.3 330.4L384.1 321.3M381.3 330.4L387.8 337.5M384.1 321.3L393.4 319.1M385.0 346.6L387.8 337.5M385.0 346.6L391.5 353.6M387.8 337.5L397.1 335.3M388.7 362.8L391.5 353.6M388.7 362.8L395.3 369.8M391.5 353.6L400.9 351.5M393.4 319.1L399.9 326.1M395.3 369.8L404.6 367.6M397.1 335.3L399.9 326.1M397.1 335.3L403.7 342.3M400.9 351.5L403.7 342.3M400.9 351.5L407.4 358.5M404.6 367.6L407.4 358.5" stroke="#2a1c10" stroke-width="0.85" fill="none"/><circle cx="321.5" cy="327.2" r="1.7" fill="#e2cfa8" stroke="#050505" stroke-width="1.36"/><circle cx="312.1" cy="329.4" r="1.7" fill="#e2cfa8" stroke="#050505" stroke-width="1.36"/><circle cx="305.6" cy="322.3" r="1.7" fill="#e2cfa8" stroke="#050505" stroke-width="1.36"/><circle cx="308.4" cy="313.2" r="1.7" fill="#e2cfa8" stroke="#050505" stroke-width="1.36"/><circle cx="317.8" cy="311.0" r="1.7" fill="#e2cfa8" stroke="#050505" stroke-width="1.36"/><circle cx="324.3" cy="318.0" r="1.7" fill="#e2cfa8" stroke="#050505" stroke-width="1.36"/><circle cx="325.2" cy="343.4" r="1.7" fill="#e2cfa8" stroke="#050505" stroke-width="1.36"/><circle cx="315.9" cy="345.5" r="1.7" fill="#e2cfa8" stroke="#050505" stroke-width="1.36"/><circle cx="309.3" cy="338.5" r="1.7" fill="#e2cfa8" stroke="#050505" stroke-width="1.36"/><circle cx="328.0" cy="334.2" r="1.7" fill="#e2cfa8" stroke="#050505" stroke-width="1.36"/><circle cx="329.0" cy="359.6" r="1.7" fill="#e2cfa8" stroke="#050505" stroke-width="1.36"/><circle cx="319.6" cy="361.7" r="1.7" fill="#e2cfa8" stroke="#050505" stroke-width="1.36"/><circle cx="313.1" cy="354.7" r="1.7" fill="#e2cfa8" stroke="#050505" stroke-width="1.36"/><circle cx="331.8" cy="350.4" r="1.7" fill="#e2cfa8" stroke="#050505" stroke-width="1.36"/><circle cx="332.7" cy="375.7" r="1.7" fill="#e2cfa8" stroke="#050505" stroke-width="1.36"/><circle cx="323.4" cy="377.9" r="1.7" fill="#e2cfa8" stroke="#050505" stroke-width="1.36"/><circle cx="316.8" cy="370.9" r="1.7" fill="#e2cfa8" stroke="#050505" stroke-width="1.36"/><circle cx="335.5" cy="366.6" r="1.7" fill="#e2cfa8" stroke="#050505" stroke-width="1.36"/><circle cx="333.6" cy="315.9" r="1.7" fill="#e2cfa8" stroke="#050505" stroke-width="1.36"/><circle cx="320.6" cy="301.9" r="1.7" fill="#e2cfa8" stroke="#050505" stroke-width="1.36"/><circle cx="329.9" cy="299.7" r="1.7" fill="#e2cfa8" stroke="#050505" stroke-width="1.36"/><circle cx="336.4" cy="306.7" r="1.7" fill="#e2cfa8" stroke="#050505" stroke-width="1.36"/><circle cx="337.4" cy="332.1" r="1.7" fill="#e2cfa8" stroke="#050505" stroke-width="1.36"/><circle cx="340.2" cy="322.9" r="1.7" fill="#e2cfa8" stroke="#050505" stroke-width="1.36"/><circle cx="341.1" cy="348.2" r="1.7" fill="#e2cfa8" stroke="#050505" stroke-width="1.36"/><circle cx="343.9" cy="339.1" r="1.7" fill="#e2cfa8" stroke="#050505" stroke-width="1.36"/><circle cx="344.8" cy="364.4" r="1.7" fill="#e2cfa8" stroke="#050505" stroke-width="1.36"/><circle cx="347.6" cy="355.2" r="1.7" fill="#e2cfa8" stroke="#050505" stroke-width="1.36"/><circle cx="348.6" cy="380.6" r="1.7" fill="#e2cfa8" stroke="#050505" stroke-width="1.36"/><circle cx="339.2" cy="382.7" r="1.7" fill="#e2cfa8" stroke="#050505" stroke-width="1.36"/><circle cx="351.4" cy="371.4" r="1.7" fill="#e2cfa8" stroke="#050505" stroke-width="1.36"/><circle cx="349.5" cy="320.7" r="1.7" fill="#e2cfa8" stroke="#050505" stroke-width="1.36"/><circle cx="345.8" cy="304.6" r="1.7" fill="#e2cfa8" stroke="#050505" stroke-width="1.36"/><circle cx="352.3" cy="311.6" r="1.7" fill="#e2cfa8" stroke="#050505" stroke-width="1.36"/><circle cx="353.2" cy="336.9" r="1.7" fill="#e2cfa8" stroke="#050505" stroke-width="1.36"/><circle cx="356.0" cy="327.7" r="1.7" fill="#e2cfa8" stroke="#050505" stroke-width="1.36"/><circle cx="357.0" cy="353.1" r="1.7" fill="#e2cfa8" stroke="#050505" stroke-width="1.36"/><circle cx="359.8" cy="343.9" r="1.7" fill="#e2cfa8" stroke="#050505" stroke-width="1.36"/><circle cx="360.7" cy="369.3" r="1.7" fill="#e2cfa8" stroke="#050505" stroke-width="1.36"/><circle cx="363.5" cy="360.1" r="1.7" fill="#e2cfa8" stroke="#050505" stroke-width="1.36"/><circle cx="365.4" cy="325.6" r="1.7" fill="#e2cfa8" stroke="#050505" stroke-width="1.36"/><circle cx="361.6" cy="309.4" r="1.7" fill="#e2cfa8" stroke="#050505" stroke-width="1.36"/><circle cx="368.2" cy="316.4" r="1.7" fill="#e2cfa8" stroke="#050505" stroke-width="1.36"/><circle cx="369.1" cy="341.8" r="1.7" fill="#e2cfa8" stroke="#050505" stroke-width="1.36"/><circle cx="371.9" cy="332.6" r="1.7" fill="#e2cfa8" stroke="#050505" stroke-width="1.36"/><circle cx="372.8" cy="357.9" r="1.7" fill="#e2cfa8" stroke="#050505" stroke-width="1.36"/><circle cx="375.6" cy="348.8" r="1.7" fill="#e2cfa8" stroke="#050505" stroke-width="1.36"/><circle cx="376.6" cy="374.1" r="1.7" fill="#e2cfa8" stroke="#050505" stroke-width="1.36"/><circle cx="367.2" cy="376.3" r="1.7" fill="#e2cfa8" stroke="#050505" stroke-width="1.36"/><circle cx="379.4" cy="364.9" r="1.7" fill="#e2cfa8" stroke="#050505" stroke-width="1.36"/><circle cx="381.3" cy="330.4" r="1.7" fill="#e2cfa8" stroke="#050505" stroke-width="1.36"/><circle cx="377.5" cy="314.3" r="1.7" fill="#e2cfa8" stroke="#050505" stroke-width="1.36"/><circle cx="384.1" cy="321.3" r="1.7" fill="#e2cfa8" stroke="#050505" stroke-width="1.36"/><circle cx="385.0" cy="346.6" r="1.7" fill="#e2cfa8" stroke="#050505" stroke-width="1.36"/><circle cx="387.8" cy="337.5" r="1.7" fill="#e2cfa8" stroke="#050505" stroke-width="1.36"/><circle cx="388.7" cy="362.8" r="1.7" fill="#e2cfa8" stroke="#050505" stroke-width="1.36"/><circle cx="391.5" cy="353.6" r="1.7" fill="#e2cfa8" stroke="#050505" stroke-width="1.36"/><circle cx="397.1" cy="335.3" r="1.7" fill="#e2cfa8" stroke="#050505" stroke-width="1.36"/><circle cx="393.4" cy="319.1" r="1.7" fill="#e2cfa8" stroke="#050505" stroke-width="1.36"/><circle cx="399.9" cy="326.1" r="1.7" fill="#e2cfa8" stroke="#050505" stroke-width="1.36"/><circle cx="400.9" cy="351.5" r="1.7" fill="#e2cfa8" stroke="#050505" stroke-width="1.36"/><circle cx="403.7" cy="342.3" r="1.7" fill="#e2cfa8" stroke="#050505" stroke-width="1.36"/><circle cx="404.6" cy="367.6" r="1.7" fill="#e2cfa8" stroke="#050505" stroke-width="1.36"/><circle cx="395.3" cy="369.8" r="1.7" fill="#e2cfa8" stroke="#050505" stroke-width="1.36"/><circle cx="407.4" cy="358.5" r="1.7" fill="#e2cfa8" stroke="#050505" stroke-width="1.36"/></g><g transform="translate(321.3 320.9) rotate(8)"><ellipse cx="0" cy="0.8" rx="7.2" ry="6.2" fill="#9aa6cc" opacity="0.6"/><ellipse cx="0" cy="0" rx="7.2" ry="6.2" fill="url(#gCus)"/></g><g transform="translate(341.9 308.9) rotate(8)"><ellipse cx="0" cy="0.8" rx="7.2" ry="6.2" fill="#9aa6cc" opacity="0.6"/><ellipse cx="0" cy="0" rx="7.2" ry="6.2" fill="url(#gCus)"/></g><g transform="translate(370.8 309.2) rotate(8)"><ellipse cx="0" cy="0.8" rx="7.2" ry="6.2" fill="#9aa6cc" opacity="0.6"/><ellipse cx="0" cy="0" rx="7.2" ry="6.2" fill="url(#gCus)"/></g><g transform="translate(346.7 329.9) rotate(8)"><ellipse cx="0" cy="0.8" rx="7.2" ry="6.2" fill="#9aa6cc" opacity="0.6"/><ellipse cx="0" cy="0" rx="7.2" ry="6.2" fill="url(#gCus)"/></g><g transform="translate(388.8 329.5) rotate(8)"><ellipse cx="0" cy="0.8" rx="7.2" ry="6.2" fill="#9aa6cc" opacity="0.6"/><ellipse cx="0" cy="0" rx="7.2" ry="6.2" fill="url(#gCus)"/></g><g transform="translate(362.2 345.3) rotate(8)"><ellipse cx="0" cy="0.8" rx="7.2" ry="6.2" fill="#9aa6cc" opacity="0.6"/><ellipse cx="0" cy="0" rx="7.2" ry="6.2" fill="url(#gCus)"/></g><g transform="translate(325.2 352.2) rotate(8)"><ellipse cx="0" cy="0.8" rx="7.2" ry="6.2" fill="#9aa6cc" opacity="0.6"/><ellipse cx="0" cy="0" rx="7.2" ry="6.2" fill="url(#gCus)"/></g><g transform="translate(349.8 362.2) rotate(8)"><ellipse cx="0" cy="0.8" rx="7.2" ry="6.2" fill="#9aa6cc" opacity="0.6"/><ellipse cx="0" cy="0" rx="7.2" ry="6.2" fill="url(#gCus)"/></g><g transform="translate(380.8 363.9) rotate(8)"><ellipse cx="0" cy="0.8" rx="7.2" ry="6.2" fill="#9aa6cc" opacity="0.6"/><ellipse cx="0" cy="0" rx="7.2" ry="6.2" fill="url(#gCus)"/></g></g><g transform="translate(131.2 -65.6)"><g><path d="M305.6 322.3L299.7 323.6M308.4 313.2L304.3 308.9M309.3 338.5L303.4 339.8M313.1 354.7L307.3 356.1M323.4 377.9L321.7 383.7M316.8 370.9L311.0 372.3M320.6 301.9L316.5 297.5M329.9 299.7L331.6 294.0M348.6 380.6L352.7 385.0M339.2 382.7L337.4 388.4M345.8 304.6L347.6 298.9M361.6 309.4L363.3 303.6M376.6 374.1L380.7 378.5M367.2 376.3L365.4 382.0M377.5 314.3L379.2 308.5M393.4 319.1L395.1 313.4M399.9 326.1L405.7 324.7M403.7 342.3L409.5 340.9M404.6 367.6L408.7 372.0M395.3 369.8L393.6 375.6M407.4 358.5L413.3 357.2" stroke="#d4b890" stroke-width="1.5" fill="none"/><circle cx="299.7" cy="323.6" r="1.05" fill="#d8b98a"/><circle cx="304.3" cy="308.9" r="1.05" fill="#d8b98a"/><circle cx="303.4" cy="339.8" r="1.05" fill="#d8b98a"/><circle cx="307.3" cy="356.1" r="1.05" fill="#d8b98a"/><circle cx="321.7" cy="383.7" r="1.05" fill="#d8b98a"/><circle cx="311.0" cy="372.3" r="1.05" fill="#d8b98a"/><circle cx="316.5" cy="297.5" r="1.05" fill="#d8b98a"/><circle cx="331.6" cy="294.0" r="1.05" fill="#d8b98a"/><circle cx="352.7" cy="385.0" r="1.05" fill="#d8b98a"/><circle cx="337.4" cy="388.4" r="1.05" fill="#d8b98a"/><circle cx="347.6" cy="298.9" r="1.05" fill="#d8b98a"/><circle cx="363.3" cy="303.6" r="1.05" fill="#d8b98a"/><circle cx="380.7" cy="378.5" r="1.05" fill="#d8b98a"/><circle cx="365.4" cy="382.0" r="1.05" fill="#d8b98a"/><circle cx="379.2" cy="308.5" r="1.05" fill="#d8b98a"/><circle cx="395.1" cy="313.4" r="1.05" fill="#d8b98a"/><circle cx="405.7" cy="324.7" r="1.05" fill="#d8b98a"/><circle cx="409.5" cy="340.9" r="1.05" fill="#d8b98a"/><circle cx="408.7" cy="372.0" r="1.05" fill="#d8b98a"/><circle cx="393.6" cy="375.6" r="1.05" fill="#d8b98a"/><circle cx="413.3" cy="357.2" r="1.05" fill="#d8b98a"/><path d="M305.6 322.3L308.4 313.2M305.6 322.3L312.1 329.4M308.4 313.2L317.8 311.0M309.3 338.5L312.1 329.4M309.3 338.5L315.9 345.5M312.1 329.4L321.5 327.2M313.1 354.7L315.9 345.5M313.1 354.7L319.6 361.7M315.9 345.5L325.2 343.4M316.8 370.9L319.6 361.7M316.8 370.9L323.4 377.9M317.8 311.0L320.6 301.9M317.8 311.0L324.3 318.0M319.6 361.7L329.0 359.6M320.6 301.9L329.9 299.7M321.5 327.2L324.3 318.0M321.5 327.2L328.0 334.2M323.4 377.9L332.7 375.7M324.3 318.0L333.6 315.9M325.2 343.4L328.0 334.2M325.2 343.4L331.8 350.4M328.0 334.2L337.4 332.1M329.0 359.6L331.8 350.4M329.0 359.6L335.5 366.6M329.9 299.7L336.4 306.7M331.8 350.4L341.1 348.2M332.7 375.7L335.5 366.6M332.7 375.7L339.2 382.7M333.6 315.9L336.4 306.7M333.6 315.9L340.2 322.9M336.4 306.7L345.8 304.6M335.5 366.6L344.8 364.4M337.4 332.1L340.2 322.9M337.4 332.1L343.9 339.1M339.2 382.7L348.6 380.6M340.2 322.9L349.5 320.7M341.1 348.2L343.9 339.1M341.1 348.2L347.6 355.2M343.9 339.1L353.2 336.9M344.8 364.4L347.6 355.2M344.8 364.4L351.4 371.4M345.8 304.6L352.3 311.6M347.6 355.2L357.0 353.1M348.6 380.6L351.4 371.4M349.5 320.7L352.3 311.6M349.5 320.7L356.0 327.7M351.4 371.4L360.7 369.3M352.3 311.6L361.6 309.4M353.2 336.9L356.0 327.7M353.2 336.9L359.8 343.9M356.0 327.7L365.4 325.6M357.0 353.1L359.8 343.9M357.0 353.1L363.5 360.1M359.8 343.9L369.1 341.8M360.7 369.3L363.5 360.1M360.7 369.3L367.2 376.3M361.6 309.4L368.2 316.4M363.5 360.1L372.8 357.9M365.4 325.6L368.2 316.4M365.4 325.6L371.9 332.6M367.2 376.3L376.6 374.1M368.2 316.4L377.5 314.3M369.1 341.8L371.9 332.6M369.1 341.8L375.6 348.8M371.9 332.6L381.3 330.4M372.8 357.9L375.6 348.8M372.8 357.9L379.4 364.9M375.6 348.8L385.0 346.6M376.6 374.1L379.4 364.9M377.5 314.3L384.1 321.3M379.4 364.9L388.7 362.8M381.3 330.4L384.1 321.3M381.3 330.4L387.8 337.5M384.1 321.3L393.4 319.1M385.0 346.6L387.8 337.5M385.0 346.6L391.5 353.6M387.8 337.5L397.1 335.3M388.7 362.8L391.5 353.6M388.7 362.8L395.3 369.8M391.5 353.6L400.9 351.5M393.4 319.1L399.9 326.1M395.3 369.8L404.6 367.6M397.1 335.3L399.9 326.1M397.1 335.3L403.7 342.3M400.9 351.5L403.7 342.3M400.9 351.5L407.4 358.5M404.6 367.6L407.4 358.5" stroke="#c4aa88" stroke-width="1.9" fill="none" opacity="0.7"/><path d="M305.6 322.3L308.4 313.2M305.6 322.3L312.1 329.4M308.4 313.2L317.8 311.0M309.3 338.5L312.1 329.4M309.3 338.5L315.9 345.5M312.1 329.4L321.5 327.2M313.1 354.7L315.9 345.5M313.1 354.7L319.6 361.7M315.9 345.5L325.2 343.4M316.8 370.9L319.6 361.7M316.8 370.9L323.4 377.9M317.8 311.0L320.6 301.9M317.8 311.0L324.3 318.0M319.6 361.7L329.0 359.6M320.6 301.9L329.9 299.7M321.5 327.2L324.3 318.0M321.5 327.2L328.0 334.2M323.4 377.9L332.7 375.7M324.3 318.0L333.6 315.9M325.2 343.4L328.0 334.2M325.2 343.4L331.8 350.4M328.0 334.2L337.4 332.1M329.0 359.6L331.8 350.4M329.0 359.6L335.5 366.6M329.9 299.7L336.4 306.7M331.8 350.4L341.1 348.2M332.7 375.7L335.5 366.6M332.7 375.7L339.2 382.7M333.6 315.9L336.4 306.7M333.6 315.9L340.2 322.9M336.4 306.7L345.8 304.6M335.5 366.6L344.8 364.4M337.4 332.1L340.2 322.9M337.4 332.1L343.9 339.1M339.2 382.7L348.6 380.6M340.2 322.9L349.5 320.7M341.1 348.2L343.9 339.1M341.1 348.2L347.6 355.2M343.9 339.1L353.2 336.9M344.8 364.4L347.6 355.2M344.8 364.4L351.4 371.4M345.8 304.6L352.3 311.6M347.6 355.2L357.0 353.1M348.6 380.6L351.4 371.4M349.5 320.7L352.3 311.6M349.5 320.7L356.0 327.7M351.4 371.4L360.7 369.3M352.3 311.6L361.6 309.4M353.2 336.9L356.0 327.7M353.2 336.9L359.8 343.9M356.0 327.7L365.4 325.6M357.0 353.1L359.8 343.9M357.0 353.1L363.5 360.1M359.8 343.9L369.1 341.8M360.7 369.3L363.5 360.1M360.7 369.3L367.2 376.3M361.6 309.4L368.2 316.4M363.5 360.1L372.8 357.9M365.4 325.6L368.2 316.4M365.4 325.6L371.9 332.6M367.2 376.3L376.6 374.1M368.2 316.4L377.5 314.3M369.1 341.8L371.9 332.6M369.1 341.8L375.6 348.8M371.9 332.6L381.3 330.4M372.8 357.9L375.6 348.8M372.8 357.9L379.4 364.9M375.6 348.8L385.0 346.6M376.6 374.1L379.4 364.9M377.5 314.3L384.1 321.3M379.4 364.9L388.7 362.8M381.3 330.4L384.1 321.3M381.3 330.4L387.8 337.5M384.1 321.3L393.4 319.1M385.0 346.6L387.8 337.5M385.0 346.6L391.5 353.6M387.8 337.5L397.1 335.3M388.7 362.8L391.5 353.6M388.7 362.8L395.3 369.8M391.5 353.6L400.9 351.5M393.4 319.1L399.9 326.1M395.3 369.8L404.6 367.6M397.1 335.3L399.9 326.1M397.1 335.3L403.7 342.3M400.9 351.5L403.7 342.3M400.9 351.5L407.4 358.5M404.6 367.6L407.4 358.5" stroke="#2a1c10" stroke-width="0.85" fill="none"/><circle cx="321.5" cy="327.2" r="1.7" fill="#e2cfa8" stroke="#050505" stroke-width="1.36"/><circle cx="312.1" cy="329.4" r="1.7" fill="#e2cfa8" stroke="#050505" stroke-width="1.36"/><circle cx="305.6" cy="322.3" r="1.7" fill="#e2cfa8" stroke="#050505" stroke-width="1.36"/><circle cx="308.4" cy="313.2" r="1.7" fill="#e2cfa8" stroke="#050505" stroke-width="1.36"/><circle cx="317.8" cy="311.0" r="1.7" fill="#e2cfa8" stroke="#050505" stroke-width="1.36"/><circle cx="324.3" cy="318.0" r="1.7" fill="#e2cfa8" stroke="#050505" stroke-width="1.36"/><circle cx="325.2" cy="343.4" r="1.7" fill="#e2cfa8" stroke="#050505" stroke-width="1.36"/><circle cx="315.9" cy="345.5" r="1.7" fill="#e2cfa8" stroke="#050505" stroke-width="1.36"/><circle cx="309.3" cy="338.5" r="1.7" fill="#e2cfa8" stroke="#050505" stroke-width="1.36"/><circle cx="328.0" cy="334.2" r="1.7" fill="#e2cfa8" stroke="#050505" stroke-width="1.36"/><circle cx="329.0" cy="359.6" r="1.7" fill="#e2cfa8" stroke="#050505" stroke-width="1.36"/><circle cx="319.6" cy="361.7" r="1.7" fill="#e2cfa8" stroke="#050505" stroke-width="1.36"/><circle cx="313.1" cy="354.7" r="1.7" fill="#e2cfa8" stroke="#050505" stroke-width="1.36"/><circle cx="331.8" cy="350.4" r="1.7" fill="#e2cfa8" stroke="#050505" stroke-width="1.36"/><circle cx="332.7" cy="375.7" r="1.7" fill="#e2cfa8" stroke="#050505" stroke-width="1.36"/><circle cx="323.4" cy="377.9" r="1.7" fill="#e2cfa8" stroke="#050505" stroke-width="1.36"/><circle cx="316.8" cy="370.9" r="1.7" fill="#e2cfa8" stroke="#050505" stroke-width="1.36"/><circle cx="335.5" cy="366.6" r="1.7" fill="#e2cfa8" stroke="#050505" stroke-width="1.36"/><circle cx="333.6" cy="315.9" r="1.7" fill="#e2cfa8" stroke="#050505" stroke-width="1.36"/><circle cx="320.6" cy="301.9" r="1.7" fill="#e2cfa8" stroke="#050505" stroke-width="1.36"/><circle cx="329.9" cy="299.7" r="1.7" fill="#e2cfa8" stroke="#050505" stroke-width="1.36"/><circle cx="336.4" cy="306.7" r="1.7" fill="#e2cfa8" stroke="#050505" stroke-width="1.36"/><circle cx="337.4" cy="332.1" r="1.7" fill="#e2cfa8" stroke="#050505" stroke-width="1.36"/><circle cx="340.2" cy="322.9" r="1.7" fill="#e2cfa8" stroke="#050505" stroke-width="1.36"/><circle cx="341.1" cy="348.2" r="1.7" fill="#e2cfa8" stroke="#050505" stroke-width="1.36"/><circle cx="343.9" cy="339.1" r="1.7" fill="#e2cfa8" stroke="#050505" stroke-width="1.36"/><circle cx="344.8" cy="364.4" r="1.7" fill="#e2cfa8" stroke="#050505" stroke-width="1.36"/><circle cx="347.6" cy="355.2" r="1.7" fill="#e2cfa8" stroke="#050505" stroke-width="1.36"/><circle cx="348.6" cy="380.6" r="1.7" fill="#e2cfa8" stroke="#050505" stroke-width="1.36"/><circle cx="339.2" cy="382.7" r="1.7" fill="#e2cfa8" stroke="#050505" stroke-width="1.36"/><circle cx="351.4" cy="371.4" r="1.7" fill="#e2cfa8" stroke="#050505" stroke-width="1.36"/><circle cx="349.5" cy="320.7" r="1.7" fill="#e2cfa8" stroke="#050505" stroke-width="1.36"/><circle cx="345.8" cy="304.6" r="1.7" fill="#e2cfa8" stroke="#050505" stroke-width="1.36"/><circle cx="352.3" cy="311.6" r="1.7" fill="#e2cfa8" stroke="#050505" stroke-width="1.36"/><circle cx="353.2" cy="336.9" r="1.7" fill="#e2cfa8" stroke="#050505" stroke-width="1.36"/><circle cx="356.0" cy="327.7" r="1.7" fill="#e2cfa8" stroke="#050505" stroke-width="1.36"/><circle cx="357.0" cy="353.1" r="1.7" fill="#e2cfa8" stroke="#050505" stroke-width="1.36"/><circle cx="359.8" cy="343.9" r="1.7" fill="#e2cfa8" stroke="#050505" stroke-width="1.36"/><circle cx="360.7" cy="369.3" r="1.7" fill="#e2cfa8" stroke="#050505" stroke-width="1.36"/><circle cx="363.5" cy="360.1" r="1.7" fill="#e2cfa8" stroke="#050505" stroke-width="1.36"/><circle cx="365.4" cy="325.6" r="1.7" fill="#e2cfa8" stroke="#050505" stroke-width="1.36"/><circle cx="361.6" cy="309.4" r="1.7" fill="#e2cfa8" stroke="#050505" stroke-width="1.36"/><circle cx="368.2" cy="316.4" r="1.7" fill="#e2cfa8" stroke="#050505" stroke-width="1.36"/><circle cx="369.1" cy="341.8" r="1.7" fill="#e2cfa8" stroke="#050505" stroke-width="1.36"/><circle cx="371.9" cy="332.6" r="1.7" fill="#e2cfa8" stroke="#050505" stroke-width="1.36"/><circle cx="372.8" cy="357.9" r="1.7" fill="#e2cfa8" stroke="#050505" stroke-width="1.36"/><circle cx="375.6" cy="348.8" r="1.7" fill="#e2cfa8" stroke="#050505" stroke-width="1.36"/><circle cx="376.6" cy="374.1" r="1.7" fill="#e2cfa8" stroke="#050505" stroke-width="1.36"/><circle cx="367.2" cy="376.3" r="1.7" fill="#e2cfa8" stroke="#050505" stroke-width="1.36"/><circle cx="379.4" cy="364.9" r="1.7" fill="#e2cfa8" stroke="#050505" stroke-width="1.36"/><circle cx="381.3" cy="330.4" r="1.7" fill="#e2cfa8" stroke="#050505" stroke-width="1.36"/><circle cx="377.5" cy="314.3" r="1.7" fill="#e2cfa8" stroke="#050505" stroke-width="1.36"/><circle cx="384.1" cy="321.3" r="1.7" fill="#e2cfa8" stroke="#050505" stroke-width="1.36"/><circle cx="385.0" cy="346.6" r="1.7" fill="#e2cfa8" stroke="#050505" stroke-width="1.36"/><circle cx="387.8" cy="337.5" r="1.7" fill="#e2cfa8" stroke="#050505" stroke-width="1.36"/><circle cx="388.7" cy="362.8" r="1.7" fill="#e2cfa8" stroke="#050505" stroke-width="1.36"/><circle cx="391.5" cy="353.6" r="1.7" fill="#e2cfa8" stroke="#050505" stroke-width="1.36"/><circle cx="397.1" cy="335.3" r="1.7" fill="#e2cfa8" stroke="#050505" stroke-width="1.36"/><circle cx="393.4" cy="319.1" r="1.7" fill="#e2cfa8" stroke="#050505" stroke-width="1.36"/><circle cx="399.9" cy="326.1" r="1.7" fill="#e2cfa8" stroke="#050505" stroke-width="1.36"/><circle cx="400.9" cy="351.5" r="1.7" fill="#e2cfa8" stroke="#050505" stroke-width="1.36"/><circle cx="403.7" cy="342.3" r="1.7" fill="#e2cfa8" stroke="#050505" stroke-width="1.36"/><circle cx="404.6" cy="367.6" r="1.7" fill="#e2cfa8" stroke="#050505" stroke-width="1.36"/><circle cx="395.3" cy="369.8" r="1.7" fill="#e2cfa8" stroke="#050505" stroke-width="1.36"/><circle cx="407.4" cy="358.5" r="1.7" fill="#e2cfa8" stroke="#050505" stroke-width="1.36"/></g><g transform="translate(321.3 320.9) rotate(8)"><ellipse cx="0" cy="0.8" rx="7.2" ry="6.2" fill="#9aa6cc" opacity="0.6"/><ellipse cx="0" cy="0" rx="7.2" ry="6.2" fill="url(#gCus)"/></g><g transform="translate(341.9 308.9) rotate(8)"><ellipse cx="0" cy="0.8" rx="7.2" ry="6.2" fill="#9aa6cc" opacity="0.6"/><ellipse cx="0" cy="0" rx="7.2" ry="6.2" fill="url(#gCus)"/></g><g transform="translate(370.8 309.2) rotate(8)"><ellipse cx="0" cy="0.8" rx="7.2" ry="6.2" fill="#9aa6cc" opacity="0.6"/><ellipse cx="0" cy="0" rx="7.2" ry="6.2" fill="url(#gCus)"/></g><g transform="translate(346.7 329.9) rotate(8)"><ellipse cx="0" cy="0.8" rx="7.2" ry="6.2" fill="#9aa6cc" opacity="0.6"/><ellipse cx="0" cy="0" rx="7.2" ry="6.2" fill="url(#gCus)"/></g><g transform="translate(388.8 329.5) rotate(8)"><ellipse cx="0" cy="0.8" rx="7.2" ry="6.2" fill="#9aa6cc" opacity="0.6"/><ellipse cx="0" cy="0" rx="7.2" ry="6.2" fill="url(#gCus)"/></g><g transform="translate(362.2 345.3) rotate(8)"><ellipse cx="0" cy="0.8" rx="7.2" ry="6.2" fill="#9aa6cc" opacity="0.6"/><ellipse cx="0" cy="0" rx="7.2" ry="6.2" fill="url(#gCus)"/></g><g transform="translate(325.2 352.2) rotate(8)"><ellipse cx="0" cy="0.8" rx="7.2" ry="6.2" fill="#9aa6cc" opacity="0.6"/><ellipse cx="0" cy="0" rx="7.2" ry="6.2" fill="url(#gCus)"/></g><g transform="translate(349.8 362.2) rotate(8)"><ellipse cx="0" cy="0.8" rx="7.2" ry="6.2" fill="#9aa6cc" opacity="0.6"/><ellipse cx="0" cy="0" rx="7.2" ry="6.2" fill="url(#gCus)"/></g><g transform="translate(380.8 363.9) rotate(8)"><ellipse cx="0" cy="0.8" rx="7.2" ry="6.2" fill="#9aa6cc" opacity="0.6"/><ellipse cx="0" cy="0" rx="7.2" ry="6.2" fill="url(#gCus)"/></g></g><path d="M442.5 222.8L442.2 223.6L441.7 224.2L441.1 224.7L440.5 225.2L439.8 225.6L439.0 226.1L438.3 226.8L437.5 227.4L436.8 228.1L436.0 228.9L435.3 229.8L434.8 230.8L434.5 231.9L434.6 233.1L434.6 234.4L434.8 235.6L435.3 236.6L436.0 237.6L436.7 238.4L437.5 239.2L438.2 239.9L439.0 240.6L439.6 241.2L440.2 241.9L440.7 242.5L441.0 243.1L441.3 243.7L441.6 244.4L441.4 244.9L441.1 245.2L440.9 245.6L440.5 246.1L440.1 246.6L439.6 247.1L439.1 247.6L438.5 248.1L437.9 248.7L437.3 249.4L436.8 250.1L436.4 251.0L436.2 252.0L436.2 253.0L436.2 253.9L436.3 254.8L436.5 255.6L436.8 256.3L437.2 256.9L437.6 257.5L438.0 258.0L438.4 258.5L438.7 259.0L439.1 259.4L439.5 259.7L439.9 260.1L440.3 260.6L440.5 261.2L441.5 261.2L441.6 260.4L441.7 259.6L441.7 258.8L441.6 258.0L441.3 257.3L440.9 256.7L440.5 256.2L440.1 255.7L439.8 255.2L439.6 254.8L439.3 254.4L439.1 254.0L438.9 253.5L438.8 253.0L438.9 252.5L439.2 252.2L439.4 251.8L439.8 251.3L440.2 250.8L440.7 250.3L441.2 249.8L441.8 249.3L442.4 248.7L443.0 248.0L443.5 247.3L443.9 246.4L444.1 245.4L444.0 244.4L444.0 243.1L443.8 241.9L443.3 240.9L442.6 239.9L441.9 239.1L441.1 238.3L440.4 237.6L439.6 236.9L439.0 236.3L438.4 235.6L437.9 235.0L437.6 234.4L437.3 233.8L437.0 233.1L437.3 232.5L437.6 232.0L437.9 231.5L438.4 230.9L438.9 230.4L439.6 229.8L440.3 229.1L441.1 228.5L441.8 227.7L442.3 226.8L442.8 225.8L443.1 224.8L443.2 223.8L443.1 222.8Z" fill="#cc00b6" stroke="#cc00b6" stroke-width="0.5" stroke-linejoin="round"/><path d="M434.6 234.4L434.8 235.6L435.3 236.6L436.0 237.6L436.7 238.4L437.5 239.2L438.2 239.9L439.0 240.6L439.6 241.2L440.2 241.9L440.7 242.5L441.0 243.1L441.3 243.7L441.6 244.4L444.0 244.4L444.0 243.1L443.8 241.9L443.3 240.9L442.6 239.9L441.9 239.1L441.1 238.3L440.4 237.6L439.6 236.9L439.0 236.3L438.4 235.6L437.9 235.0L437.6 234.4L437.3 233.8Z" fill="#9c0a94" stroke="#9c0a94" stroke-width="0.5" stroke-linejoin="round"/><path d="M436.2 253.9L436.3 254.8L436.5 255.6L436.8 256.3L437.2 256.9L437.6 257.5L438.0 258.0L438.4 258.5L438.7 259.0L439.1 259.4L439.5 259.7L439.9 260.1L440.3 260.6L440.5 261.2L441.5 261.2L441.6 260.4L441.7 259.6L441.7 258.8L441.6 258.0L441.3 257.3L440.9 256.7L440.5 256.2L440.1 255.7L439.8 255.2L439.6 254.8L439.3 254.4L439.1 254.0L438.9 253.5Z" fill="#9c0a94" stroke="#9c0a94" stroke-width="0.5" stroke-linejoin="round"/><path d="M487.5 215.3L487.2 216.1L486.7 216.7L486.2 217.2L485.6 217.7L484.9 218.2L484.1 218.7L483.5 219.3L482.7 220.0L482.0 220.7L481.3 221.4L480.7 222.3L480.2 223.3L479.9 224.4L480.0 225.6L479.9 226.8L480.2 228.0L480.6 229.1L481.3 230.0L482.0 230.9L482.7 231.6L483.4 232.3L484.1 233.0L484.7 233.7L485.3 234.3L485.7 235.0L486.0 235.6L486.4 236.2L486.6 236.9L486.3 237.1L486.1 237.3L485.9 237.7L485.5 238.1L484.9 238.5L484.3 238.9L483.6 239.4L482.9 239.8L482.2 240.4L481.5 240.9L480.8 241.6L480.2 242.4L479.9 243.3L480.0 244.4L479.9 245.4L480.1 246.3L480.6 247.1L481.2 247.8L481.8 248.4L482.4 248.9L483.0 249.4L483.6 249.8L484.1 250.3L484.7 250.6L485.2 250.8L485.6 251.1L486.0 251.4L486.3 252.0L487.3 251.8L487.4 251.1L487.4 250.2L487.1 249.4L486.7 248.6L486.2 247.9L485.6 247.4L485.0 246.9L484.4 246.5L483.9 246.0L483.4 245.6L483.1 245.3L482.9 244.9L482.6 244.7L482.4 244.4L482.7 244.2L482.9 244.0L483.1 243.6L483.5 243.2L484.1 242.8L484.7 242.4L485.4 241.9L486.1 241.5L486.8 240.9L487.5 240.4L488.2 239.7L488.8 238.9L489.1 238.0L489.0 236.9L489.1 235.7L488.8 234.5L488.4 233.4L487.7 232.5L487.0 231.6L486.3 230.9L485.6 230.2L484.9 229.5L484.3 228.8L483.7 228.2L483.3 227.5L483.0 226.9L482.6 226.3L482.4 225.6L482.6 225.0L483.0 224.5L483.3 224.0L483.7 223.4L484.2 222.8L484.9 222.2L485.5 221.6L486.3 220.9L486.9 220.1L487.4 219.2L487.9 218.3L488.1 217.3L488.2 216.3L488.1 215.3Z" fill="#cc00b6" stroke="#cc00b6" stroke-width="0.5" stroke-linejoin="round"/><path d="M479.9 226.8L480.2 228.0L480.6 229.1L481.3 230.0L482.0 230.9L482.7 231.6L483.4 232.3L484.1 233.0L484.7 233.7L485.3 234.3L485.7 235.0L486.0 235.6L486.4 236.2L486.6 236.9L489.0 236.9L489.1 235.7L488.8 234.5L488.4 233.4L487.7 232.5L487.0 231.6L486.3 230.9L485.6 230.2L484.9 229.5L484.3 228.8L483.7 228.2L483.3 227.5L483.0 226.9L482.6 226.3Z" fill="#9c0a94" stroke="#9c0a94" stroke-width="0.5" stroke-linejoin="round"/><path d="M479.9 245.4L480.1 246.3L480.6 247.1L481.2 247.8L481.8 248.4L482.4 248.9L483.0 249.4L483.6 249.8L484.1 250.3L484.7 250.6L485.2 250.8L485.6 251.1L486.0 251.4L486.3 252.0L487.3 251.8L487.4 251.1L487.4 250.2L487.1 249.4L486.7 248.6L486.2 247.9L485.6 247.4L485.0 246.9L484.4 246.5L483.9 246.0L483.4 245.6L483.1 245.3L482.9 244.9L482.6 244.7Z" fill="#9c0a94" stroke="#9c0a94" stroke-width="0.5" stroke-linejoin="round"/><path d="M516.5 213.4L516.2 214.2L515.7 214.8L515.2 215.3L514.6 215.8L513.9 216.3L513.2 216.8L512.5 217.4L511.8 218.1L511.1 218.8L510.4 219.5L509.8 220.4L509.3 221.4L509.0 222.5L509.1 223.7L509.0 224.9L509.3 226.1L509.7 227.2L510.3 228.1L511.0 228.9L511.7 229.7L512.4 230.4L513.1 231.1L513.7 231.8L514.3 232.4L514.7 233.1L515.1 233.7L515.4 234.3L515.6 235.0L515.4 235.4L515.1 235.7L514.9 236.1L514.6 236.5L514.2 236.9L513.7 237.4L513.1 237.8L512.5 238.4L512.0 238.9L511.4 239.5L510.8 240.2L510.4 241.1L510.2 242.0L510.2 243.0L510.2 243.8L510.3 244.6L510.5 245.4L510.9 246.0L511.3 246.6L511.7 247.1L512.1 247.5L512.4 247.9L512.8 248.3L513.2 248.6L513.6 248.8L514.0 249.1L514.3 249.5L514.5 250.0L515.5 250.0L515.6 249.3L515.6 248.6L515.6 247.8L515.4 247.1L515.2 246.5L514.8 245.9L514.4 245.5L514.1 245.1L513.8 244.7L513.5 244.3L513.3 244.0L513.1 243.7L512.9 243.4L512.8 243.0L512.9 242.6L513.2 242.3L513.4 241.9L513.7 241.5L514.1 241.1L514.6 240.6L515.2 240.2L515.8 239.6L516.3 239.1L516.9 238.5L517.5 237.8L517.9 236.9L518.1 236.0L518.0 235.0L518.1 233.8L517.8 232.6L517.4 231.5L516.8 230.6L516.1 229.8L515.4 229.0L514.7 228.3L514.0 227.6L513.4 226.9L512.8 226.3L512.4 225.6L512.0 225.0L511.7 224.4L511.5 223.7L511.7 223.1L512.0 222.6L512.4 222.1L512.8 221.5L513.3 220.9L513.9 220.3L514.6 219.7L515.3 219.0L515.9 218.2L516.4 217.3L516.9 216.4L517.2 215.4L517.2 214.4L517.1 213.4Z" fill="#cc00b6" stroke="#cc00b6" stroke-width="0.5" stroke-linejoin="round"/><path d="M509.0 224.9L509.3 226.1L509.7 227.2L510.3 228.1L511.0 228.9L511.7 229.7L512.4 230.4L513.1 231.1L513.7 231.8L514.3 232.4L514.7 233.1L515.1 233.7L515.4 234.3L515.6 235.0L518.0 235.0L518.1 233.8L517.8 232.6L517.4 231.5L516.8 230.6L516.1 229.8L515.4 229.0L514.7 228.3L514.0 227.6L513.4 226.9L512.8 226.3L512.4 225.6L512.0 225.0L511.7 224.4Z" fill="#9c0a94" stroke="#9c0a94" stroke-width="0.5" stroke-linejoin="round"/><path d="M510.2 243.8L510.3 244.6L510.5 245.4L510.9 246.0L511.3 246.6L511.7 247.1L512.1 247.5L512.4 247.9L512.8 248.3L513.2 248.6L513.6 248.8L514.0 249.1L514.3 249.5L514.5 250.0L515.5 250.0L515.6 249.3L515.6 248.6L515.6 247.8L515.4 247.1L515.2 246.5L514.8 245.9L514.4 245.5L514.1 245.1L513.8 244.7L513.5 244.3L513.3 244.0L513.1 243.7L512.9 243.4Z" fill="#9c0a94" stroke="#9c0a94" stroke-width="0.5" stroke-linejoin="round"/><path d="M530.6 234.0L530.3 234.8L529.8 235.4L529.2 235.9L528.5 236.4L527.7 236.8L527.0 237.4L526.2 238.0L525.4 238.7L524.5 239.4L523.8 240.1L523.0 241.0L522.4 242.0L522.1 243.2L522.2 244.4L522.2 245.7L522.4 246.9L523.0 247.9L523.7 248.9L524.5 249.7L525.3 250.5L526.1 251.2L526.9 251.8L527.6 252.5L528.2 253.2L528.7 253.8L529.1 254.4L529.4 254.9L529.7 255.6L529.4 255.9L529.2 256.1L529.0 256.4L528.6 256.8L528.2 257.2L527.6 257.6L527.0 258.1L526.4 258.5L525.7 259.0L525.1 259.6L524.5 260.3L524.0 261.0L523.7 262.0L523.7 263.0L523.7 263.9L523.8 264.8L524.1 265.5L524.5 266.2L525.0 266.8L525.4 267.3L525.8 267.8L526.3 268.3L526.6 268.7L527.1 269.0L527.5 269.3L527.9 269.7L528.3 270.1L528.5 270.6L529.5 270.6L529.6 269.8L529.6 269.0L529.6 268.2L529.4 267.5L529.0 266.8L528.6 266.3L528.2 265.8L527.7 265.3L527.4 264.9L527.1 264.5L526.8 264.1L526.6 263.8L526.4 263.4L526.3 263.0L526.5 262.7L526.7 262.5L526.9 262.2L527.3 261.8L527.7 261.4L528.3 261.0L528.9 260.5L529.5 260.1L530.2 259.6L530.8 259.0L531.4 258.3L531.9 257.6L532.2 256.6L532.1 255.6L532.1 254.3L531.9 253.1L531.3 252.1L530.6 251.1L529.8 250.3L529.0 249.5L528.2 248.8L527.4 248.2L526.7 247.5L526.1 246.8L525.6 246.2L525.2 245.6L524.9 245.1L524.6 244.4L524.9 243.8L525.2 243.4L525.5 242.8L526.0 242.2L526.6 241.7L527.3 241.0L528.1 240.4L528.9 239.7L529.7 239.0L530.3 238.0L530.8 237.1L531.2 236.1L531.3 235.0L531.2 234.0Z" fill="#cc00b6" stroke="#cc00b6" stroke-width="0.5" stroke-linejoin="round"/><path d="M522.2 245.7L522.4 246.9L523.0 247.9L523.7 248.9L524.5 249.7L525.3 250.5L526.1 251.2L526.9 251.8L527.6 252.5L528.2 253.2L528.7 253.8L529.1 254.4L529.4 254.9L529.7 255.6L532.1 255.6L532.1 254.3L531.9 253.1L531.3 252.1L530.6 251.1L529.8 250.3L529.0 249.5L528.2 248.8L527.4 248.2L526.7 247.5L526.1 246.8L525.6 246.2L525.2 245.6L524.9 245.1Z" fill="#9c0a94" stroke="#9c0a94" stroke-width="0.5" stroke-linejoin="round"/><path d="M523.7 263.9L523.8 264.8L524.1 265.5L524.5 266.2L525.0 266.8L525.4 267.3L525.8 267.8L526.3 268.3L526.6 268.7L527.1 269.0L527.5 269.3L527.9 269.7L528.3 270.1L528.5 270.6L529.5 270.6L529.6 269.8L529.6 269.0L529.6 268.2L529.4 267.5L529.0 266.8L528.6 266.3L528.2 265.8L527.7 265.3L527.4 264.9L527.1 264.5L526.8 264.1L526.6 263.8L526.4 263.4Z" fill="#9c0a94" stroke="#9c0a94" stroke-width="0.5" stroke-linejoin="round"/><path d="M467.8 243.4L467.5 244.0L467.1 244.5L466.6 244.9L466.0 245.3L465.3 245.6L464.6 246.0L463.9 246.4L463.1 247.0L462.4 247.5L461.7 248.2L461.1 248.9L460.5 249.8L460.2 250.8L460.3 251.9L460.3 253.3L460.5 254.6L461.0 255.8L461.7 256.9L462.5 257.8L463.3 258.7L464.1 259.5L464.9 260.3L465.6 261.1L466.3 261.9L466.8 262.6L467.2 263.4L467.5 264.1L467.8 265.0L467.5 265.2L467.3 265.5L467.1 265.8L466.7 266.2L466.2 266.6L465.6 267.0L464.9 267.5L464.2 267.9L463.5 268.5L462.8 269.0L462.1 269.7L461.5 270.5L461.2 271.5L461.3 272.5L461.3 273.8L461.5 275.0L462.1 276.0L462.8 277.0L463.6 277.8L464.4 278.6L465.2 279.3L466.0 279.9L466.7 280.6L467.3 281.3L467.9 281.9L468.5 282.3L469.1 282.9L469.5 283.8L470.5 283.6L470.7 282.6L470.6 281.4L470.4 280.2L469.7 279.2L468.9 278.4L468.1 277.6L467.3 276.9L466.5 276.3L465.8 275.6L465.2 274.9L464.7 274.3L464.3 273.7L464.0 273.2L463.7 272.5L464.0 272.3L464.2 272.0L464.4 271.7L464.8 271.3L465.3 270.9L465.9 270.5L466.6 270.0L467.3 269.6L468.0 269.0L468.7 268.5L469.4 267.8L470.0 267.0L470.3 266.0L470.2 265.0L470.2 263.6L470.0 262.3L469.5 261.1L468.8 260.0L468.0 259.1L467.2 258.2L466.4 257.4L465.6 256.6L464.9 255.8L464.2 255.0L463.7 254.3L463.3 253.5L463.0 252.8L462.7 251.9L463.0 251.5L463.2 251.2L463.5 250.8L463.9 250.4L464.4 249.9L465.0 249.4L465.7 248.9L466.4 248.3L467.0 247.6L467.6 246.8L468.0 246.0L468.4 245.1L468.5 244.3L468.4 243.4Z" fill="#cc00b6" stroke="#cc00b6" stroke-width="0.5" stroke-linejoin="round"/><path d="M460.3 253.3L460.5 254.6L461.0 255.8L461.7 256.9L462.5 257.8L463.3 258.7L464.1 259.5L464.9 260.3L465.6 261.1L466.3 261.9L466.8 262.6L467.2 263.4L467.5 264.1L467.8 265.0L470.2 265.0L470.2 263.6L470.0 262.3L469.5 261.1L468.8 260.0L468.0 259.1L467.2 258.2L466.4 257.4L465.6 256.6L464.9 255.8L464.2 255.0L463.7 254.3L463.3 253.5L463.0 252.8Z" fill="#9c0a94" stroke="#9c0a94" stroke-width="0.5" stroke-linejoin="round"/><path d="M461.3 273.8L461.5 275.0L462.1 276.0L462.8 277.0L463.6 277.8L464.4 278.6L465.2 279.3L466.0 279.9L466.7 280.6L467.3 281.3L467.9 281.9L468.5 282.3L469.1 282.9L469.5 283.8L470.5 283.6L470.7 282.6L470.6 281.4L470.4 280.2L469.7 279.2L468.9 278.4L468.1 277.6L467.3 276.9L466.5 276.3L465.8 275.6L465.2 274.9L464.7 274.3L464.3 273.7L464.0 273.2Z" fill="#9c0a94" stroke="#9c0a94" stroke-width="0.5" stroke-linejoin="round"/><path d="M477.2 272.5L476.9 273.2L476.4 273.7L475.9 274.1L475.2 274.5L474.4 274.9L473.6 275.3L472.8 275.9L472.0 276.5L471.2 277.1L470.4 277.8L469.7 278.6L469.1 279.5L468.7 280.6L468.8 281.8L468.8 283.1L469.0 284.3L469.6 285.3L470.3 286.3L471.1 287.1L471.9 287.9L472.7 288.6L473.5 289.2L474.2 289.9L474.8 290.6L475.3 291.2L475.7 291.8L476.0 292.3L476.3 293.0L476.0 293.3L475.8 293.5L475.6 293.8L475.2 294.2L474.7 294.6L474.0 295.1L473.4 295.5L472.7 296.0L471.9 296.5L471.2 297.1L470.6 297.8L470.0 298.6L469.7 299.6L469.8 300.6L469.7 301.6L469.9 302.5L470.4 303.3L471.0 304.0L471.6 304.5L472.2 305.0L472.8 305.5L473.4 306.0L473.9 306.4L474.4 306.7L474.9 306.9L475.3 307.2L475.8 307.5L476.0 308.1L477.0 307.9L477.1 307.2L477.1 306.3L476.8 305.5L476.4 304.7L475.9 304.1L475.3 303.6L474.7 303.1L474.1 302.6L473.6 302.2L473.2 301.8L472.9 301.4L472.7 301.1L472.4 300.9L472.2 300.6L472.5 300.3L472.7 300.1L472.9 299.8L473.3 299.4L473.8 299.0L474.5 298.5L475.1 298.1L475.8 297.6L476.6 297.1L477.3 296.5L477.9 295.8L478.5 295.0L478.8 294.0L478.7 293.0L478.7 291.7L478.5 290.5L477.9 289.5L477.2 288.5L476.4 287.7L475.6 286.9L474.8 286.2L474.0 285.6L473.3 284.9L472.7 284.2L472.2 283.6L471.8 283.0L471.5 282.5L471.2 281.8L471.5 281.4L471.8 281.0L472.1 280.5L472.6 280.0L473.2 279.5L473.9 279.0L474.7 278.4L475.5 277.8L476.2 277.0L476.8 276.2L477.4 275.3L477.8 274.4L477.9 273.4L477.8 272.5Z" fill="#cc00b6" stroke="#cc00b6" stroke-width="0.5" stroke-linejoin="round"/><path d="M468.8 283.1L469.0 284.3L469.6 285.3L470.3 286.3L471.1 287.1L471.9 287.9L472.7 288.6L473.5 289.2L474.2 289.9L474.8 290.6L475.3 291.2L475.7 291.8L476.0 292.3L476.3 293.0L478.7 293.0L478.7 291.7L478.5 290.5L477.9 289.5L477.2 288.5L476.4 287.7L475.6 286.9L474.8 286.2L474.0 285.6L473.3 284.9L472.7 284.2L472.2 283.6L471.8 283.0L471.5 282.5Z" fill="#9c0a94" stroke="#9c0a94" stroke-width="0.5" stroke-linejoin="round"/><path d="M469.7 301.6L469.9 302.5L470.4 303.3L471.0 304.0L471.6 304.5L472.2 305.0L472.8 305.5L473.4 306.0L473.9 306.4L474.4 306.7L474.9 306.9L475.3 307.2L475.8 307.5L476.0 308.1L477.0 307.9L477.1 307.2L477.1 306.3L476.8 305.5L476.4 304.7L475.9 304.1L475.3 303.6L474.7 303.1L474.1 302.6L473.6 302.2L473.2 301.8L472.9 301.4L472.7 301.1L472.4 300.9Z" fill="#9c0a94" stroke="#9c0a94" stroke-width="0.5" stroke-linejoin="round"/><path d="M505.3 248.1L505.0 248.8L504.6 249.3L504.0 249.8L503.4 250.2L502.8 250.6L502.0 251.0L501.3 251.6L500.6 252.2L499.9 252.9L499.2 253.6L498.5 254.4L498.0 255.3L497.7 256.4L497.8 257.5L497.7 258.7L498.0 259.9L498.4 261.0L499.1 261.9L499.8 262.7L500.5 263.5L501.2 264.2L501.9 264.9L502.5 265.5L503.1 266.2L503.5 266.8L503.8 267.4L504.2 268.0L504.4 268.7L504.2 269.0L503.9 269.2L503.7 269.5L503.4 269.9L503.0 270.3L502.4 270.7L501.9 271.1L501.2 271.6L500.6 272.1L500.0 272.7L499.4 273.3L498.9 274.1L498.7 275.0L498.8 276.0L498.7 276.9L498.9 277.8L499.2 278.6L499.7 279.3L500.2 279.9L500.7 280.5L501.2 281.0L501.7 281.4L502.1 281.9L502.6 282.2L503.0 282.5L503.5 282.8L503.9 283.2L504.1 283.7L505.1 283.7L505.2 282.9L505.2 282.1L505.1 281.2L504.8 280.5L504.4 279.8L503.9 279.2L503.4 278.7L502.9 278.3L502.5 277.8L502.1 277.4L501.9 277.0L501.6 276.7L501.4 276.4L501.2 276.0L501.4 275.7L501.7 275.5L501.9 275.2L502.2 274.8L502.6 274.4L503.2 274.0L503.7 273.6L504.4 273.1L505.0 272.6L505.6 272.0L506.2 271.4L506.7 270.6L506.9 269.7L506.8 268.7L506.9 267.5L506.6 266.3L506.2 265.2L505.5 264.3L504.8 263.5L504.1 262.7L503.4 262.0L502.7 261.3L502.1 260.7L501.5 260.0L501.1 259.4L500.8 258.8L500.4 258.2L500.2 257.5L500.5 257.0L500.8 256.6L501.0 256.1L501.5 255.6L502.0 255.1L502.6 254.6L503.3 254.0L504.0 253.4L504.6 252.6L505.1 251.8L505.6 250.9L505.9 250.0L506.0 249.0L505.9 248.1Z" fill="#cc00b6" stroke="#cc00b6" stroke-width="0.5" stroke-linejoin="round"/><path d="M497.7 258.7L498.0 259.9L498.4 261.0L499.1 261.9L499.8 262.7L500.5 263.5L501.2 264.2L501.9 264.9L502.5 265.5L503.1 266.2L503.5 266.8L503.8 267.4L504.2 268.0L504.4 268.7L506.8 268.7L506.9 267.5L506.6 266.3L506.2 265.2L505.5 264.3L504.8 263.5L504.1 262.7L503.4 262.0L502.7 261.3L502.1 260.7L501.5 260.0L501.1 259.4L500.8 258.8L500.4 258.2Z" fill="#9c0a94" stroke="#9c0a94" stroke-width="0.5" stroke-linejoin="round"/><path d="M498.7 276.9L498.9 277.8L499.2 278.6L499.7 279.3L500.2 279.9L500.7 280.5L501.2 281.0L501.7 281.4L502.1 281.9L502.6 282.2L503.0 282.5L503.5 282.8L503.9 283.2L504.1 283.7L505.1 283.7L505.2 282.9L505.2 282.1L505.1 281.2L504.8 280.5L504.4 279.8L503.9 279.2L503.4 278.7L502.9 278.3L502.5 277.8L502.1 277.4L501.9 277.0L501.6 276.7L501.4 276.4Z" fill="#9c0a94" stroke="#9c0a94" stroke-width="0.5" stroke-linejoin="round"/><path d="M525.0 270.6L524.7 271.3L524.2 271.8L523.7 272.3L523.0 272.7L522.2 273.1L521.4 273.5L520.6 274.1L519.8 274.6L519.0 275.3L518.2 276.0L517.5 276.8L516.9 277.7L516.5 278.8L516.6 280.0L516.6 281.3L516.8 282.5L517.4 283.5L518.1 284.5L518.9 285.3L519.7 286.1L520.5 286.8L521.3 287.4L522.0 288.1L522.6 288.8L523.1 289.4L523.5 290.0L523.8 290.5L524.1 291.2L523.8 291.7L523.5 292.1L523.3 292.6L522.8 293.1L522.3 293.6L521.7 294.1L521.0 294.7L520.3 295.3L519.6 296.0L518.9 296.7L518.2 297.5L517.7 298.4L517.4 299.5L517.5 300.6L517.4 301.6L517.8 302.6L518.4 303.3L519.1 303.8L519.8 304.3L520.5 304.8L521.2 305.2L521.9 305.6L522.5 306.0L523.2 306.2L523.7 306.4L524.2 306.5L524.5 306.8L524.8 307.2L525.8 307.0L525.9 306.3L525.7 305.5L525.3 304.7L524.8 304.0L524.2 303.4L523.5 302.9L522.8 302.5L522.1 302.1L521.5 301.7L521.0 301.4L520.6 301.1L520.3 300.8L520.2 300.7L519.9 300.6L520.2 300.1L520.5 299.7L520.7 299.2L521.2 298.7L521.7 298.2L522.3 297.7L523.0 297.1L523.7 296.5L524.4 295.8L525.1 295.1L525.8 294.3L526.3 293.4L526.6 292.3L526.5 291.2L526.5 289.9L526.3 288.7L525.7 287.7L525.0 286.7L524.2 285.9L523.4 285.1L522.6 284.4L521.8 283.8L521.1 283.1L520.5 282.4L520.0 281.8L519.6 281.2L519.3 280.7L519.0 280.0L519.3 279.6L519.6 279.2L519.9 278.7L520.4 278.2L521.0 277.7L521.7 277.1L522.5 276.5L523.3 276.0L524.0 275.2L524.6 274.3L525.2 273.4L525.6 272.5L525.7 271.5L525.6 270.6Z" fill="#cc00b6" stroke="#cc00b6" stroke-width="0.5" stroke-linejoin="round"/><path d="M516.6 281.3L516.8 282.5L517.4 283.5L518.1 284.5L518.9 285.3L519.7 286.1L520.5 286.8L521.3 287.4L522.0 288.1L522.6 288.8L523.1 289.4L523.5 290.0L523.8 290.5L524.1 291.2L526.5 291.2L526.5 289.9L526.3 288.7L525.7 287.7L525.0 286.7L524.2 285.9L523.4 285.1L522.6 284.4L521.8 283.8L521.1 283.1L520.5 282.4L520.0 281.8L519.6 281.2L519.3 280.7Z" fill="#9c0a94" stroke="#9c0a94" stroke-width="0.5" stroke-linejoin="round"/><path d="M517.4 301.6L517.8 302.6L518.4 303.3L519.1 303.8L519.8 304.3L520.5 304.8L521.2 305.2L521.9 305.6L522.5 306.0L523.2 306.2L523.7 306.4L524.2 306.5L524.5 306.8L524.8 307.2L525.8 307.0L525.9 306.3L525.7 305.5L525.3 304.7L524.8 304.0L524.2 303.4L523.5 302.9L522.8 302.5L522.1 302.1L521.5 301.7L521.0 301.4L520.6 301.1L520.3 300.8L520.2 300.7Z" fill="#9c0a94" stroke="#9c0a94" stroke-width="0.5" stroke-linejoin="round"/><path d="M573.75 317.50L590.00 326.75L590.00 345.25L573.75 354.50L557.50 345.25L557.50 326.75ZM561.60 328.56L573.29 321.90M586.40 329.34L586.40 342.66M573.29 350.10L561.60 343.44M573.75 317.5L573.75 305.5M590.00 326.75L601.00 320.45M658.10 317.30L676.11 326.45L676.11 344.75L658.10 353.90L640.09 344.75L640.09 326.45ZM643.69 342.19L643.69 329.01M671.62 343.02L658.65 349.61M656.5 317.3L656.5 304.8M659.7 316.3L659.7 304.8M675.31 325.05L687.11 318.25M676.91 327.85L688.71 321.05" stroke="#000" stroke-width="1.5" fill="none" stroke-linejoin="round" stroke-linecap="round"/><g font-family="'Liberation Sans', Arial, sans-serif" font-size="10.2" fill="#000" stroke="#000" stroke-width="0.45"><text x="570.3" y="302.8">OH</text><text x="602.6" y="321.4">OH</text><text x="654.2" y="302.8">O</text><text x="689.6" y="321">O</text></g><path d="M568.1 360.3 L577.5 360.3 C579.5 374 590 391.2 613 391.2 C632 391.2 646 381 653.5 369.8 L651.5 368.4 L662 360.3 L669.5 370.6 L664.5 370.4 C656 385 638 395.7 611 395.7 C585 395.7 568.1 383 568.1 360.3 Z" fill="#1b4b7a"/><g transform="matrix(1.317 0 0 1.185 148.7 34.1)"><g><path d="M305.6 322.3L299.7 323.6M308.4 313.2L304.3 308.9M309.3 338.5L303.4 339.8M313.1 354.7L307.3 356.1M323.4 377.9L321.7 383.7M316.8 370.9L311.0 372.3M320.6 301.9L316.5 297.5M329.9 299.7L331.6 294.0M348.6 380.6L352.7 385.0M339.2 382.7L337.4 388.4M345.8 304.6L347.6 298.9M361.6 309.4L363.3 303.6M376.6 374.1L380.7 378.5M367.2 376.3L365.4 382.0M377.5 314.3L379.2 308.5M393.4 319.1L395.1 313.4M399.9 326.1L405.7 324.7M403.7 342.3L409.5 340.9M404.6 367.6L408.7 372.0M395.3 369.8L393.6 375.6M407.4 358.5L413.3 357.2" stroke="#d4b890" stroke-width="1.5" fill="none"/><circle cx="299.7" cy="323.6" r="1.05" fill="#d8b98a"/><circle cx="304.3" cy="308.9" r="1.05" fill="#d8b98a"/><circle cx="303.4" cy="339.8" r="1.05" fill="#d8b98a"/><circle cx="307.3" cy="356.1" r="1.05" fill="#d8b98a"/><circle cx="321.7" cy="383.7" r="1.05" fill="#d8b98a"/><circle cx="311.0" cy="372.3" r="1.05" fill="#d8b98a"/><circle cx="316.5" cy="297.5" r="1.05" fill="#d8b98a"/><circle cx="331.6" cy="294.0" r="1.05" fill="#d8b98a"/><circle cx="352.7" cy="385.0" r="1.05" fill="#d8b98a"/><circle cx="337.4" cy="388.4" r="1.05" fill="#d8b98a"/><circle cx="347.6" cy="298.9" r="1.05" fill="#d8b98a"/><circle cx="363.3" cy="303.6" r="1.05" fill="#d8b98a"/><circle cx="380.7" cy="378.5" r="1.05" fill="#d8b98a"/><circle cx="365.4" cy="382.0" r="1.05" fill="#d8b98a"/><circle cx="379.2" cy="308.5" r="1.05" fill="#d8b98a"/><circle cx="395.1" cy="313.4" r="1.05" fill="#d8b98a"/><circle cx="405.7" cy="324.7" r="1.05" fill="#d8b98a"/><circle cx="409.5" cy="340.9" r="1.05" fill="#d8b98a"/><circle cx="408.7" cy="372.0" r="1.05" fill="#d8b98a"/><circle cx="393.6" cy="375.6" r="1.05" fill="#d8b98a"/><circle cx="413.3" cy="357.2" r="1.05" fill="#d8b98a"/><path d="M305.6 322.3L308.4 313.2M305.6 322.3L312.1 329.4M308.4 313.2L317.8 311.0M309.3 338.5L312.1 329.4M309.3 338.5L315.9 345.5M312.1 329.4L321.5 327.2M313.1 354.7L315.9 345.5M313.1 354.7L319.6 361.7M315.9 345.5L325.2 343.4M316.8 370.9L319.6 361.7M316.8 370.9L323.4 377.9M317.8 311.0L320.6 301.9M317.8 311.0L324.3 318.0M319.6 361.7L329.0 359.6M320.6 301.9L329.9 299.7M321.5 327.2L324.3 318.0M321.5 327.2L328.0 334.2M323.4 377.9L332.7 375.7M324.3 318.0L333.6 315.9M325.2 343.4L328.0 334.2M325.2 343.4L331.8 350.4M328.0 334.2L337.4 332.1M329.0 359.6L331.8 350.4M329.0 359.6L335.5 366.6M329.9 299.7L336.4 306.7M331.8 350.4L341.1 348.2M332.7 375.7L335.5 366.6M332.7 375.7L339.2 382.7M333.6 315.9L336.4 306.7M333.6 315.9L340.2 322.9M336.4 306.7L345.8 304.6M335.5 366.6L344.8 364.4M337.4 332.1L340.2 322.9M337.4 332.1L343.9 339.1M339.2 382.7L348.6 380.6M340.2 322.9L349.5 320.7M341.1 348.2L343.9 339.1M341.1 348.2L347.6 355.2M343.9 339.1L353.2 336.9M344.8 364.4L347.6 355.2M344.8 364.4L351.4 371.4M345.8 304.6L352.3 311.6M347.6 355.2L357.0 353.1M348.6 380.6L351.4 371.4M349.5 320.7L352.3 311.6M349.5 320.7L356.0 327.7M351.4 371.4L360.7 369.3M352.3 311.6L361.6 309.4M353.2 336.9L356.0 327.7M353.2 336.9L359.8 343.9M356.0 327.7L365.4 325.6M357.0 353.1L359.8 343.9M357.0 353.1L363.5 360.1M359.8 343.9L369.1 341.8M360.7 369.3L363.5 360.1M360.7 369.3L367.2 376.3M361.6 309.4L368.2 316.4M363.5 360.1L372.8 357.9M365.4 325.6L368.2 316.4M365.4 325.6L371.9 332.6M367.2 376.3L376.6 374.1M368.2 316.4L377.5 314.3M369.1 341.8L371.9 332.6M369.1 341.8L375.6 348.8M371.9 332.6L381.3 330.4M372.8 357.9L375.6 348.8M372.8 357.9L379.4 364.9M375.6 348.8L385.0 346.6M376.6 374.1L379.4 364.9M377.5 314.3L384.1 321.3M379.4 364.9L388.7 362.8M381.3 330.4L384.1 321.3M381.3 330.4L387.8 337.5M384.1 321.3L393.4 319.1M385.0 346.6L387.8 337.5M385.0 346.6L391.5 353.6M387.8 337.5L397.1 335.3M388.7 362.8L391.5 353.6M388.7 362.8L395.3 369.8M391.5 353.6L400.9 351.5M393.4 319.1L399.9 326.1M395.3 369.8L404.6 367.6M397.1 335.3L399.9 326.1M397.1 335.3L403.7 342.3M400.9 351.5L403.7 342.3M400.9 351.5L407.4 358.5M404.6 367.6L407.4 358.5" stroke="#c4aa88" stroke-width="1.9" fill="none" opacity="0.7"/><path d="M305.6 322.3L308.4 313.2M305.6 322.3L312.1 329.4M308.4 313.2L317.8 311.0M309.3 338.5L312.1 329.4M309.3 338.5L315.9 345.5M312.1 329.4L321.5 327.2M313.1 354.7L315.9 345.5M313.1 354.7L319.6 361.7M315.9 345.5L325.2 343.4M316.8 370.9L319.6 361.7M316.8 370.9L323.4 377.9M317.8 311.0L320.6 301.9M317.8 311.0L324.3 318.0M319.6 361.7L329.0 359.6M320.6 301.9L329.9 299.7M321.5 327.2L324.3 318.0M321.5 327.2L328.0 334.2M323.4 377.9L332.7 375.7M324.3 318.0L333.6 315.9M325.2 343.4L328.0 334.2M325.2 343.4L331.8 350.4M328.0 334.2L337.4 332.1M329.0 359.6L331.8 350.4M329.0 359.6L335.5 366.6M329.9 299.7L336.4 306.7M331.8 350.4L341.1 348.2M332.7 375.7L335.5 366.6M332.7 375.7L339.2 382.7M333.6 315.9L336.4 306.7M333.6 315.9L340.2 322.9M336.4 306.7L345.8 304.6M335.5 366.6L344.8 364.4M337.4 332.1L340.2 322.9M337.4 332.1L343.9 339.1M339.2 382.7L348.6 380.6M340.2 322.9L349.5 320.7M341.1 348.2L343.9 339.1M341.1 348.2L347.6 355.2M343.9 339.1L353.2 336.9M344.8 364.4L347.6 355.2M344.8 364.4L351.4 371.4M345.8 304.6L352.3 311.6M347.6 355.2L357.0 353.1M348.6 380.6L351.4 371.4M349.5 320.7L352.3 311.6M349.5 320.7L356.0 327.7M351.4 371.4L360.7 369.3M352.3 311.6L361.6 309.4M353.2 336.9L356.0 327.7M353.2 336.9L359.8 343.9M356.0 327.7L365.4 325.6M357.0 353.1L359.8 343.9M357.0 353.1L363.5 360.1M359.8 343.9L369.1 341.8M360.7 369.3L363.5 360.1M360.7 369.3L367.2 376.3M361.6 309.4L368.2 316.4M363.5 360.1L372.8 357.9M365.4 325.6L368.2 316.4M365.4 325.6L371.9 332.6M367.2 376.3L376.6 374.1M368.2 316.4L377.5 314.3M369.1 341.8L371.9 332.6M369.1 341.8L375.6 348.8M371.9 332.6L381.3 330.4M372.8 357.9L375.6 348.8M372.8 357.9L379.4 364.9M375.6 348.8L385.0 346.6M376.6 374.1L379.4 364.9M377.5 314.3L384.1 321.3M379.4 364.9L388.7 362.8M381.3 330.4L384.1 321.3M381.3 330.4L387.8 337.5M384.1 321.3L393.4 319.1M385.0 346.6L387.8 337.5M385.0 346.6L391.5 353.6M387.8 337.5L397.1 335.3M388.7 362.8L391.5 353.6M388.7 362.8L395.3 369.8M391.5 353.6L400.9 351.5M393.4 319.1L399.9 326.1M395.3 369.8L404.6 367.6M397.1 335.3L399.9 326.1M397.1 335.3L403.7 342.3M400.9 351.5L403.7 342.3M400.9 351.5L407.4 358.5M404.6 367.6L407.4 358.5" stroke="#2a1c10" stroke-width="0.85" fill="none"/><circle cx="321.5" cy="327.2" r="1.7" fill="#e2cfa8" stroke="#050505" stroke-width="1.36"/><circle cx="312.1" cy="329.4" r="1.7" fill="#e2cfa8" stroke="#050505" stroke-width="1.36"/><circle cx="305.6" cy="322.3" r="1.7" fill="#e2cfa8" stroke="#050505" stroke-width="1.36"/><circle cx="308.4" cy="313.2" r="1.7" fill="#e2cfa8" stroke="#050505" stroke-width="1.36"/><circle cx="317.8" cy="311.0" r="1.7" fill="#e2cfa8" stroke="#050505" stroke-width="1.36"/><circle cx="324.3" cy="318.0" r="1.7" fill="#e2cfa8" stroke="#050505" stroke-width="1.36"/><circle cx="325.2" cy="343.4" r="1.7" fill="#e2cfa8" stroke="#050505" stroke-width="1.36"/><circle cx="315.9" cy="345.5" r="1.7" fill="#e2cfa8" stroke="#050505" stroke-width="1.36"/><circle cx="309.3" cy="338.5" r="1.7" fill="#e2cfa8" stroke="#050505" stroke-width="1.36"/><circle cx="328.0" cy="334.2" r="1.7" fill="#e2cfa8" stroke="#050505" stroke-width="1.36"/><circle cx="329.0" cy="359.6" r="1.7" fill="#e2cfa8" stroke="#050505" stroke-width="1.36"/><circle cx="319.6" cy="361.7" r="1.7" fill="#e2cfa8" stroke="#050505" stroke-width="1.36"/><circle cx="313.1" cy="354.7" r="1.7" fill="#e2cfa8" stroke="#050505" stroke-width="1.36"/><circle cx="331.8" cy="350.4" r="1.7" fill="#e2cfa8" stroke="#050505" stroke-width="1.36"/><circle cx="332.7" cy="375.7" r="1.7" fill="#e2cfa8" stroke="#050505" stroke-width="1.36"/><circle cx="323.4" cy="377.9" r="1.7" fill="#e2cfa8" stroke="#050505" stroke-width="1.36"/><circle cx="316.8" cy="370.9" r="1.7" fill="#e2cfa8" stroke="#050505" stroke-width="1.36"/><circle cx="335.5" cy="366.6" r="1.7" fill="#e2cfa8" stroke="#050505" stroke-width="1.36"/><circle cx="333.6" cy="315.9" r="1.7" fill="#e2cfa8" stroke="#050505" stroke-width="1.36"/><circle cx="320.6" cy="301.9" r="1.7" fill="#e2cfa8" stroke="#050505" stroke-width="1.36"/><circle cx="329.9" cy="299.7" r="1.7" fill="#e2cfa8" stroke="#050505" stroke-width="1.36"/><circle cx="336.4" cy="306.7" r="1.7" fill="#e2cfa8" stroke="#050505" stroke-width="1.36"/><circle cx="337.4" cy="332.1" r="1.7" fill="#e2cfa8" stroke="#050505" stroke-width="1.36"/><circle cx="340.2" cy="322.9" r="1.7" fill="#e2cfa8" stroke="#050505" stroke-width="1.36"/><circle cx="341.1" cy="348.2" r="1.7" fill="#e2cfa8" stroke="#050505" stroke-width="1.36"/><circle cx="343.9" cy="339.1" r="1.7" fill="#e2cfa8" stroke="#050505" stroke-width="1.36"/><circle cx="344.8" cy="364.4" r="1.7" fill="#e2cfa8" stroke="#050505" stroke-width="1.36"/><circle cx="347.6" cy="355.2" r="1.7" fill="#e2cfa8" stroke="#050505" stroke-width="1.36"/><circle cx="348.6" cy="380.6" r="1.7" fill="#e2cfa8" stroke="#050505" stroke-width="1.36"/><circle cx="339.2" cy="382.7" r="1.7" fill="#e2cfa8" stroke="#050505" stroke-width="1.36"/><circle cx="351.4" cy="371.4" r="1.7" fill="#e2cfa8" stroke="#050505" stroke-width="1.36"/><circle cx="349.5" cy="320.7" r="1.7" fill="#e2cfa8" stroke="#050505" stroke-width="1.36"/><circle cx="345.8" cy="304.6" r="1.7" fill="#e2cfa8" stroke="#050505" stroke-width="1.36"/><circle cx="352.3" cy="311.6" r="1.7" fill="#e2cfa8" stroke="#050505" stroke-width="1.36"/><circle cx="353.2" cy="336.9" r="1.7" fill="#e2cfa8" stroke="#050505" stroke-width="1.36"/><circle cx="356.0" cy="327.7" r="1.7" fill="#e2cfa8" stroke="#050505" stroke-width="1.36"/><circle cx="357.0" cy="353.1" r="1.7" fill="#e2cfa8" stroke="#050505" stroke-width="1.36"/><circle cx="359.8" cy="343.9" r="1.7" fill="#e2cfa8" stroke="#050505" stroke-width="1.36"/><circle cx="360.7" cy="369.3" r="1.7" fill="#e2cfa8" stroke="#050505" stroke-width="1.36"/><circle cx="363.5" cy="360.1" r="1.7" fill="#e2cfa8" stroke="#050505" stroke-width="1.36"/><circle cx="365.4" cy="325.6" r="1.7" fill="#e2cfa8" stroke="#050505" stroke-width="1.36"/><circle cx="361.6" cy="309.4" r="1.7" fill="#e2cfa8" stroke="#050505" stroke-width="1.36"/><circle cx="368.2" cy="316.4" r="1.7" fill="#e2cfa8" stroke="#050505" stroke-width="1.36"/><circle cx="369.1" cy="341.8" r="1.7" fill="#e2cfa8" stroke="#050505" stroke-width="1.36"/><circle cx="371.9" cy="332.6" r="1.7" fill="#e2cfa8" stroke="#050505" stroke-width="1.36"/><circle cx="372.8" cy="357.9" r="1.7" fill="#e2cfa8" stroke="#050505" stroke-width="1.36"/><circle cx="375.6" cy="348.8" r="1.7" fill="#e2cfa8" stroke="#050505" stroke-width="1.36"/><circle cx="376.6" cy="374.1" r="1.7" fill="#e2cfa8" stroke="#050505" stroke-width="1.36"/><circle cx="367.2" cy="376.3" r="1.7" fill="#e2cfa8" stroke="#050505" stroke-width="1.36"/><circle cx="379.4" cy="364.9" r="1.7" fill="#e2cfa8" stroke="#050505" stroke-width="1.36"/><circle cx="381.3" cy="330.4" r="1.7" fill="#e2cfa8" stroke="#050505" stroke-width="1.36"/><circle cx="377.5" cy="314.3" r="1.7" fill="#e2cfa8" stroke="#050505" stroke-width="1.36"/><circle cx="384.1" cy="321.3" r="1.7" fill="#e2cfa8" stroke="#050505" stroke-width="1.36"/><circle cx="385.0" cy="346.6" r="1.7" fill="#e2cfa8" stroke="#050505" stroke-width="1.36"/><circle cx="387.8" cy="337.5" r="1.7" fill="#e2cfa8" stroke="#050505" stroke-width="1.36"/><circle cx="388.7" cy="362.8" r="1.7" fill="#e2cfa8" stroke="#050505" stroke-width="1.36"/><circle cx="391.5" cy="353.6" r="1.7" fill="#e2cfa8" stroke="#050505" stroke-width="1.36"/><circle cx="397.1" cy="335.3" r="1.7" fill="#e2cfa8" stroke="#050505" stroke-width="1.36"/><circle cx="393.4" cy="319.1" r="1.7" fill="#e2cfa8" stroke="#050505" stroke-width="1.36"/><circle cx="399.9" cy="326.1" r="1.7" fill="#e2cfa8" stroke="#050505" stroke-width="1.36"/><circle cx="400.9" cy="351.5" r="1.7" fill="#e2cfa8" stroke="#050505" stroke-width="1.36"/><circle cx="403.7" cy="342.3" r="1.7" fill="#e2cfa8" stroke="#050505" stroke-width="1.36"/><circle cx="404.6" cy="367.6" r="1.7" fill="#e2cfa8" stroke="#050505" stroke-width="1.36"/><circle cx="395.3" cy="369.8" r="1.7" fill="#e2cfa8" stroke="#050505" stroke-width="1.36"/><circle cx="407.4" cy="358.5" r="1.7" fill="#e2cfa8" stroke="#050505" stroke-width="1.36"/></g><g transform="translate(321.3 320.9) rotate(8)"><ellipse cx="0" cy="0.8" rx="7.2" ry="6.2" fill="#9aa6cc" opacity="0.6"/><ellipse cx="0" cy="0" rx="7.2" ry="6.2" fill="url(#gCus)"/></g><g transform="translate(341.9 308.9) rotate(8)"><ellipse cx="0" cy="0.8" rx="7.2" ry="6.2" fill="#9aa6cc" opacity="0.6"/><ellipse cx="0" cy="0" rx="7.2" ry="6.2" fill="url(#gCus)"/></g><g transform="translate(370.8 309.2) rotate(8)"><ellipse cx="0" cy="0.8" rx="7.2" ry="6.2" fill="#9aa6cc" opacity="0.6"/><ellipse cx="0" cy="0" rx="7.2" ry="6.2" fill="url(#gCus)"/></g><g transform="translate(346.7 329.9) rotate(8)"><ellipse cx="0" cy="0.8" rx="7.2" ry="6.2" fill="#9aa6cc" opacity="0.6"/><ellipse cx="0" cy="0" rx="7.2" ry="6.2" fill="url(#gCus)"/></g><g transform="translate(388.8 329.5) rotate(8)"><ellipse cx="0" cy="0.8" rx="7.2" ry="6.2" fill="#9aa6cc" opacity="0.6"/><ellipse cx="0" cy="0" rx="7.2" ry="6.2" fill="url(#gCus)"/></g><g transform="translate(362.2 345.3) rotate(8)"><ellipse cx="0" cy="0.8" rx="7.2" ry="6.2" fill="#9aa6cc" opacity="0.6"/><ellipse cx="0" cy="0" rx="7.2" ry="6.2" fill="url(#gCus)"/></g><g transform="translate(325.2 352.2) rotate(8)"><ellipse cx="0" cy="0.8" rx="7.2" ry="6.2" fill="#9aa6cc" opacity="0.6"/><ellipse cx="0" cy="0" rx="7.2" ry="6.2" fill="url(#gCus)"/></g><g transform="translate(349.8 362.2) rotate(8)"><ellipse cx="0" cy="0.8" rx="7.2" ry="6.2" fill="#9aa6cc" opacity="0.6"/><ellipse cx="0" cy="0" rx="7.2" ry="6.2" fill="url(#gCus)"/></g><g transform="translate(380.8 363.9) rotate(8)"><ellipse cx="0" cy="0.8" rx="7.2" ry="6.2" fill="#9aa6cc" opacity="0.6"/><ellipse cx="0" cy="0" rx="7.2" ry="6.2" fill="url(#gCus)"/></g></g><text x="585.4" y="376.2" font-family="'Liberation Serif', 'Times New Roman', serif" font-weight="bold" font-size="11.8" fill="#111" textLength="66.5" lengthAdjust="spacingAndGlyphs">−2e<tspan dy="-4" font-size="8">−</tspan><tspan dy="4">, −2H</tspan><tspan dy="-4" font-size="8">+</tspan></text><path d="M572.0 436.9L571.4 438.4L570.4 439.4L569.2 440.3L567.8 441.1L566.2 441.8L564.6 443.0L563.0 444.1L561.3 445.4L559.6 446.7L557.9 448.1L556.4 449.8L555.1 451.7L554.4 454.0L554.5 456.4L554.5 458.9L555.2 461.3L556.6 463.3L558.2 465.0L560.0 466.6L561.8 468.0L563.7 469.3L565.4 470.5L567.1 471.7L568.5 472.9L569.6 474.1L570.3 475.1L571.0 476.0L571.5 477.0L570.9 477.6L570.4 478.1L569.6 479.0L568.5 479.9L567.0 481.0L565.2 482.0L563.3 483.1L561.3 484.2L559.3 485.4L557.4 486.7L555.7 488.2L554.1 490.0L553.2 492.2L553.2 494.7L553.2 497.4L553.9 499.9L555.4 502.0L557.1 503.8L559.0 505.5L560.9 507.0L562.8 508.4L564.7 509.8L566.5 511.1L567.9 512.4L569.1 513.6L569.9 514.8L570.7 515.8L571.2 517.0L570.7 518.7L569.9 520.2L569.0 521.7L567.7 523.3L566.2 524.9L564.5 526.5L562.6 528.1L560.7 529.8L558.7 531.7L556.9 533.6L555.2 535.8L553.9 538.3L553.2 541.1L553.2 544.0L553.2 547.1L553.6 550.0L554.3 552.7L555.3 555.2L556.6 557.4L557.9 559.5L559.2 561.5L560.5 563.5L561.7 565.4L562.7 567.3L563.7 569.1L564.5 571.1L565.9 573.1L567.1 575.7L568.9 575.5L569.7 572.6L570.1 569.6L569.4 566.9L568.4 564.4L567.1 562.2L565.8 560.1L564.5 558.1L563.2 556.1L562.0 554.2L561.0 552.3L560.0 550.5L559.2 548.5L558.6 546.4L558.2 544.0L558.7 542.3L559.5 540.8L560.4 539.3L561.7 537.7L563.2 536.1L564.9 534.5L566.8 532.9L568.7 531.2L570.7 529.3L572.5 527.4L574.2 525.2L575.5 522.7L576.2 519.9L576.2 517.0L576.2 514.3L575.5 511.8L574.0 509.7L572.3 507.9L570.4 506.2L568.5 504.7L566.6 503.3L564.7 501.9L562.9 500.6L561.5 499.3L560.3 498.1L559.5 496.9L558.7 495.9L558.2 494.7L558.8 494.1L559.3 493.6L560.1 492.7L561.2 491.8L562.7 490.7L564.5 489.7L566.4 488.6L568.4 487.5L570.4 486.3L572.3 485.0L574.0 483.5L575.6 481.7L576.5 479.5L576.5 477.0L576.5 474.5L575.8 472.1L574.4 470.1L572.8 468.4L571.0 466.8L569.2 465.4L567.3 464.1L565.6 462.9L563.9 461.7L562.5 460.5L561.4 459.3L560.7 458.3L560.0 457.4L559.5 456.4L560.0 455.5L560.6 454.7L561.3 453.7L562.3 452.7L563.6 451.6L565.1 450.4L566.7 449.3L568.4 448.0L570.1 446.7L571.4 444.9L572.5 443.0L573.3 441.0L573.6 439.0L573.4 437.1Z" fill="#cc00b6" stroke="#cc00b6" stroke-width="0.5" stroke-linejoin="round"/><path d="M554.5 458.9L555.2 461.3L556.6 463.3L558.2 465.0L560.0 466.6L561.8 468.0L563.7 469.3L565.4 470.5L567.1 471.7L568.5 472.9L569.6 474.1L570.3 475.1L571.0 476.0L571.5 477.0L576.5 477.0L576.5 474.5L575.8 472.1L574.4 470.1L572.8 468.4L571.0 466.8L569.2 465.4L567.3 464.1L565.6 462.9L563.9 461.7L562.5 460.5L561.4 459.3L560.7 458.3L560.0 457.4Z" fill="#9c0a94" stroke="#9c0a94" stroke-width="0.5" stroke-linejoin="round"/><path d="M553.2 497.4L553.9 499.9L555.4 502.0L557.1 503.8L559.0 505.5L560.9 507.0L562.8 508.4L564.7 509.8L566.5 511.1L567.9 512.4L569.1 513.6L569.9 514.8L570.7 515.8L571.2 517.0L576.2 517.0L576.2 514.3L575.5 511.8L574.0 509.7L572.3 507.9L570.4 506.2L568.5 504.7L566.6 503.3L564.7 501.9L562.9 500.6L561.5 499.3L560.3 498.1L559.5 496.9L558.7 495.9Z" fill="#9c0a94" stroke="#9c0a94" stroke-width="0.5" stroke-linejoin="round"/><path d="M553.2 547.1L553.6 550.0L554.3 552.7L555.3 555.2L556.6 557.4L557.9 559.5L559.2 561.5L560.5 563.5L561.7 565.4L562.7 567.3L563.7 569.1L564.5 571.1L565.9 573.1L567.1 575.7L568.9 575.5L569.7 572.6L570.1 569.6L569.4 566.9L568.4 564.4L567.1 562.2L565.8 560.1L564.5 558.1L563.2 556.1L562.0 554.2L561.0 552.3L560.0 550.5L559.2 548.5L558.6 546.4Z" fill="#9c0a94" stroke="#9c0a94" stroke-width="0.5" stroke-linejoin="round"/><path d="M609.6 447.9L609.0 449.2L608.0 450.2L606.9 451.0L605.5 451.7L603.9 452.3L602.3 453.3L600.7 454.4L598.9 455.5L597.2 456.7L595.5 458.1L594.0 459.6L592.7 461.4L591.9 463.6L592.0 466.0L591.9 468.4L592.6 470.7L593.9 472.6L595.5 474.3L597.1 475.7L598.8 477.1L600.6 478.3L602.2 479.5L603.7 480.6L605.0 481.8L606.0 482.8L606.7 483.8L607.3 484.6L607.8 485.5L607.3 486.4L606.7 487.2L606.0 488.1L604.9 489.2L603.6 490.3L602.0 491.5L600.3 492.7L598.6 493.9L596.8 495.2L595.1 496.7L593.5 498.3L592.2 500.2L591.4 502.5L591.5 505.0L591.4 507.4L592.1 509.7L593.4 511.6L595.0 513.2L596.6 514.6L598.3 515.9L600.0 517.1L601.7 518.2L603.2 519.3L604.4 520.4L605.4 521.5L606.1 522.4L606.7 523.1L607.1 524.1L606.8 524.8L606.3 525.5L605.9 526.2L605.3 527.0L604.5 527.9L603.7 528.8L602.7 529.7L601.6 530.8L600.5 531.9L599.4 533.1L598.8 534.7L598.6 536.5L598.7 538.3L599.1 539.9L600.9 540.1L601.6 538.9L602.5 538.2L603.5 537.6L604.4 537.0L605.2 536.1L606.0 535.2L607.0 534.3L608.1 533.2L609.2 532.1L610.3 530.9L611.2 529.5L612.0 527.8L612.3 525.9L612.3 523.9L612.3 521.6L611.6 519.3L610.3 517.4L608.7 515.8L607.1 514.4L605.4 513.1L603.7 511.9L602.0 510.8L600.5 509.7L599.3 508.6L598.3 507.5L597.6 506.6L597.0 505.9L596.5 505.0L597.0 504.1L597.6 503.3L598.3 502.4L599.4 501.3L600.7 500.2L602.3 499.0L604.0 497.8L605.7 496.6L607.5 495.3L609.2 493.8L610.8 492.2L612.1 490.3L612.9 488.0L612.8 485.5L612.9 483.1L612.2 480.8L610.9 478.9L609.3 477.2L607.7 475.8L606.0 474.4L604.2 473.2L602.6 472.0L601.1 470.9L599.8 469.7L598.8 468.7L598.1 467.7L597.5 466.9L597.0 466.0L597.5 465.3L598.1 464.6L598.7 463.8L599.7 462.8L601.0 461.8L602.5 460.7L604.1 459.6L605.9 458.5L607.5 457.1L608.8 455.4L610.0 453.7L610.8 451.8L611.1 449.9L611.0 448.1Z" fill="#cc00b6" stroke="#cc00b6" stroke-width="0.5" stroke-linejoin="round"/><path d="M591.9 468.4L592.6 470.7L593.9 472.6L595.5 474.3L597.1 475.7L598.8 477.1L600.6 478.3L602.2 479.5L603.7 480.6L605.0 481.8L606.0 482.8L606.7 483.8L607.3 484.6L607.8 485.5L612.8 485.5L612.9 483.1L612.2 480.8L610.9 478.9L609.3 477.2L607.7 475.8L606.0 474.4L604.2 473.2L602.6 472.0L601.1 470.9L599.8 469.7L598.8 468.7L598.1 467.7L597.5 466.9Z" fill="#9c0a94" stroke="#9c0a94" stroke-width="0.5" stroke-linejoin="round"/><path d="M591.4 507.4L592.1 509.7L593.4 511.6L595.0 513.2L596.6 514.6L598.3 515.9L600.0 517.1L601.7 518.2L603.2 519.3L604.4 520.4L605.4 521.5L606.1 522.4L606.7 523.1L607.1 524.1L612.3 523.9L612.3 521.6L611.6 519.3L610.3 517.4L608.7 515.8L607.1 514.4L605.4 513.1L603.7 511.9L602.0 510.8L600.5 509.7L599.3 508.6L598.3 507.5L597.6 506.6L597.0 505.9Z" fill="#9c0a94" stroke="#9c0a94" stroke-width="0.5" stroke-linejoin="round"/><path d="M576.3 519.6L576.1 521.9L576.3 524.4L577.1 526.8L578.3 529.1L580.0 531.0L581.9 532.6L583.8 534.2L585.6 535.7L587.3 537.1L588.8 538.6L590.0 540.0L590.8 541.3L591.6 542.6L592.1 544.0L591.6 544.8L591.0 545.5L590.4 546.3L589.5 547.3L588.4 548.3L587.0 549.4L585.5 550.4L583.9 551.6L582.3 552.8L580.7 554.2L579.3 555.7L578.0 557.5L577.4 559.7L577.4 561.9L577.5 564.4L577.7 566.7L578.2 568.9L578.8 570.9L579.6 572.7L580.5 574.4L581.4 576.0L582.3 577.5L583.1 579.0L583.8 580.4L584.5 581.9L585.4 583.3L586.5 584.9L587.4 587.0L589.2 586.8L589.9 584.6L590.3 582.2L590.1 580.0L589.5 578.0L588.7 576.2L587.8 574.5L586.9 572.9L586.0 571.4L585.2 569.9L584.5 568.5L583.8 567.0L583.2 565.5L582.8 563.9L582.6 562.1L583.0 561.2L583.6 560.5L584.2 559.7L585.1 558.7L586.2 557.7L587.6 556.6L589.1 555.6L590.7 554.4L592.3 553.2L593.9 551.8L595.3 550.3L596.6 548.5L597.2 546.3L597.1 544.0L597.1 541.2L596.4 538.6L595.1 536.3L593.4 534.3L591.6 532.5L589.7 530.9L587.8 529.3L586.0 527.8L584.3 526.4L582.7 525.0L581.1 523.9L579.7 522.7L578.4 521.3L577.7 519.4Z" fill="#cc00b6" stroke="#cc00b6" stroke-width="0.5" stroke-linejoin="round"/><path d="M576.3 519.6L576.1 521.9L576.3 524.4L577.1 526.8L578.3 529.1L580.0 531.0L581.9 532.6L583.8 534.2L585.6 535.7L587.3 537.1L588.8 538.6L590.0 540.0L590.8 541.3L591.6 542.6L592.1 544.0L597.1 544.0L597.1 541.2L596.4 538.6L595.1 536.3L593.4 534.3L591.6 532.5L589.7 530.9L587.8 529.3L586.0 527.8L584.3 526.4L582.7 525.0L581.1 523.9L579.7 522.7L578.4 521.3L577.7 519.4Z" fill="#9c0a94" stroke="#9c0a94" stroke-width="0.5" stroke-linejoin="round"/><path d="M577.5 564.4L577.7 566.7L578.2 568.9L578.8 570.9L579.6 572.7L580.5 574.4L581.4 576.0L582.3 577.5L583.1 579.0L583.8 580.4L584.5 581.9L585.4 583.3L586.5 584.9L587.4 587.0L589.2 586.8L589.9 584.6L590.3 582.2L590.1 580.0L589.5 578.0L588.7 576.2L587.8 574.5L586.9 572.9L586.0 571.4L585.2 569.9L584.5 568.5L583.8 567.0L583.2 565.5L582.8 563.9Z" fill="#9c0a94" stroke="#9c0a94" stroke-width="0.5" stroke-linejoin="round"/><path d="M631.4 413.9L630.8 415.3L629.8 416.2L628.7 417.0L627.3 417.7L625.7 418.4L624.1 419.4L622.4 420.5L620.7 421.6L619.0 422.9L617.3 424.2L615.8 425.8L614.5 427.6L613.7 429.8L613.8 432.2L613.8 434.7L614.5 437.0L615.9 438.9L617.6 440.5L619.4 442.0L621.2 443.3L623.0 444.5L624.8 445.7L626.4 446.9L627.8 448.0L628.9 449.0L629.6 450.0L630.3 450.7L630.8 451.6L630.2 452.4L629.6 453.1L628.8 454.1L627.7 455.2L626.2 456.3L624.4 457.4L622.5 458.6L620.5 459.9L618.5 461.2L616.6 462.6L614.9 464.2L613.4 466.1L612.5 468.4L612.5 471.0L612.5 473.5L613.2 475.8L614.6 477.7L616.3 479.3L618.1 480.8L619.9 482.1L621.7 483.3L623.5 484.5L625.1 485.7L626.5 486.8L627.6 487.8L628.3 488.8L629.0 489.5L629.5 490.4L629.0 489.6L629.0 489.6L628.5 490.0L627.4 490.5L626.0 491.0L624.4 491.6L622.6 492.2L620.8 492.8L619.0 493.5L617.3 494.2L615.7 495.0L614.2 496.0L612.8 497.6L612.7 499.9L612.7 502.1L613.2 504.1L614.3 505.8L615.6 507.2L617.0 508.4L618.4 509.5L619.8 510.5L621.1 511.5L622.3 512.4L623.3 513.3L624.3 513.9L625.3 514.4L626.3 515.0L627.1 516.1L628.9 515.9L629.3 514.2L629.3 512.3L628.7 510.4L627.7 508.8L626.3 507.6L624.9 506.5L623.5 505.5L622.2 504.5L621.0 503.6L620.0 502.7L619.3 501.9L618.8 501.2L618.3 500.6L617.9 500.1L618.3 500.8L618.3 500.8L618.8 500.4L619.9 499.9L621.3 499.4L622.9 498.8L624.7 498.2L626.5 497.6L628.3 496.9L630.0 496.2L631.6 495.4L633.1 494.4L634.5 492.8L634.5 490.4L634.5 487.9L633.8 485.6L632.4 483.7L630.7 482.1L628.9 480.6L627.1 479.3L625.3 478.1L623.5 476.9L621.9 475.7L620.5 474.6L619.4 473.6L618.7 472.6L618.0 471.9L617.5 471.0L618.1 470.2L618.7 469.5L619.5 468.5L620.6 467.4L622.1 466.3L623.9 465.2L625.8 464.0L627.8 462.7L629.8 461.4L631.7 460.0L633.4 458.4L634.9 456.5L635.8 454.2L635.8 451.6L635.8 449.1L635.1 446.8L633.7 444.9L632.0 443.3L630.2 441.8L628.4 440.5L626.6 439.3L624.8 438.1L623.2 436.9L621.8 435.8L620.7 434.8L620.0 433.8L619.3 433.1L618.8 432.2L619.3 431.4L619.9 430.8L620.5 429.9L621.5 428.9L622.8 427.9L624.3 426.8L626.0 425.7L627.7 424.6L629.3 423.2L630.7 421.5L631.8 419.7L632.6 417.8L632.9 415.9L632.8 414.1Z" fill="#cc00b6" stroke="#cc00b6" stroke-width="0.5" stroke-linejoin="round"/><path d="M613.8 434.7L614.5 437.0L615.9 438.9L617.6 440.5L619.4 442.0L621.2 443.3L623.0 444.5L624.8 445.7L626.4 446.9L627.8 448.0L628.9 449.0L629.6 450.0L630.3 450.7L630.8 451.6L635.8 451.6L635.8 449.1L635.1 446.8L633.7 444.9L632.0 443.3L630.2 441.8L628.4 440.5L626.6 439.3L624.8 438.1L623.2 436.9L621.8 435.8L620.7 434.8L620.0 433.8L619.3 433.1Z" fill="#9c0a94" stroke="#9c0a94" stroke-width="0.5" stroke-linejoin="round"/><path d="M612.5 473.5L613.2 475.8L614.6 477.7L616.3 479.3L618.1 480.8L619.9 482.1L621.7 483.3L623.5 484.5L625.1 485.7L626.5 486.8L627.6 487.8L628.3 488.8L629.0 489.5L629.5 490.4L634.5 490.4L634.5 487.9L633.8 485.6L632.4 483.7L630.7 482.1L628.9 480.6L627.1 479.3L625.3 478.1L623.5 476.9L621.9 475.7L620.5 474.6L619.4 473.6L618.7 472.6L618.0 471.9Z" fill="#9c0a94" stroke="#9c0a94" stroke-width="0.5" stroke-linejoin="round"/><path d="M612.7 502.1L613.2 504.1L614.3 505.8L615.6 507.2L617.0 508.4L618.4 509.5L619.8 510.5L621.1 511.5L622.3 512.4L623.3 513.3L624.3 513.9L625.3 514.4L626.3 515.0L627.1 516.1L628.9 515.9L629.3 514.2L629.3 512.3L628.7 510.4L627.7 508.8L626.3 507.6L624.9 506.5L623.5 505.5L622.2 504.5L621.0 503.6L620.0 502.7L619.3 501.9L618.8 501.2L618.3 500.6Z" fill="#9c0a94" stroke="#9c0a94" stroke-width="0.5" stroke-linejoin="round"/><path d="M613.3 540.1L613.1 542.1L613.2 544.3L613.7 546.4L614.6 548.5L615.7 550.4L617.2 551.9L618.6 553.3L620.0 554.6L621.3 555.9L622.4 557.2L623.3 558.4L624.5 559.3L625.8 560.4L626.7 562.1L628.5 561.9L629.0 559.8L629.2 557.4L628.7 555.1L627.4 553.3L625.9 551.6L624.4 550.1L623.0 548.7L621.6 547.4L620.3 546.1L618.8 545.1L617.5 544.1L616.3 543.0L615.3 541.7L614.7 539.9Z" fill="#cc00b6" stroke="#cc00b6" stroke-width="0.5" stroke-linejoin="round"/><path d="M613.3 540.1L613.1 542.1L613.2 544.3L613.7 546.4L614.6 548.5L615.7 550.4L617.2 551.9L618.6 553.3L620.0 554.6L621.3 555.9L622.4 557.2L623.3 558.4L624.5 559.3L625.8 560.4L626.7 562.1L628.5 561.9L629.0 559.8L629.2 557.4L628.7 555.1L627.4 553.3L625.9 551.6L624.4 550.1L623.0 548.7L621.6 547.4L620.3 546.1L618.8 545.1L617.5 544.1L616.3 543.0L615.3 541.7L614.7 539.9Z" fill="#9c0a94" stroke="#9c0a94" stroke-width="0.5" stroke-linejoin="round"/><path d="M633.8 510.4L633.1 513.2L632.3 515.8L631.4 518.1L630.8 520.3L630.3 522.4L629.9 524.5L629.4 526.6L628.9 528.7L628.5 530.9L628.1 533.2L627.7 535.6L627.5 538.2L627.4 541.0L627.3 544.1L627.4 547.7L628.0 551.1L628.9 554.3L630.2 557.3L631.8 560.0L633.5 562.6L635.2 565.0L636.8 567.4L638.3 569.7L639.7 572.0L640.9 574.4L641.9 576.8L643.3 579.4L644.7 582.5L646.5 582.3L647.5 578.8L647.5 575.3L646.6 572.1L645.3 569.1L643.7 566.4L642.0 563.8L640.3 561.4L638.7 559.0L637.2 556.7L635.8 554.4L634.6 552.0L633.6 549.6L632.8 546.9L632.5 543.9L632.5 541.2L632.8 538.7L633.1 536.3L633.5 534.1L634.0 532.0L634.4 529.9L634.9 527.8L635.4 525.7L635.8 523.5L636.2 521.2L636.3 518.8L636.0 516.1L635.6 513.4L635.0 510.4Z" fill="#cc00b6" stroke="#cc00b6" stroke-width="0.5" stroke-linejoin="round"/><path d="M627.4 547.7L628.0 551.1L628.9 554.3L630.2 557.3L631.8 560.0L633.5 562.6L635.2 565.0L636.8 567.4L638.3 569.7L639.7 572.0L640.9 574.4L641.9 576.8L643.3 579.4L644.7 582.5L646.5 582.3L647.5 578.8L647.5 575.3L646.6 572.1L645.3 569.1L643.7 566.4L642.0 563.8L640.3 561.4L638.7 559.0L637.2 556.7L635.8 554.4L634.6 552.0L633.6 549.6L632.8 546.9Z" fill="#9c0a94" stroke="#9c0a94" stroke-width="0.5" stroke-linejoin="round"/><path d="M671.3 436.9L670.7 438.1L669.8 438.9L668.6 439.6L667.1 440.3L665.4 440.9L663.7 441.7L661.9 442.8L660.1 443.9L658.2 445.0L656.4 446.3L654.8 447.7L653.3 449.4L652.4 451.6L652.5 454.0L652.5 456.6L653.1 459.0L654.3 461.1L655.8 462.9L657.5 464.5L659.2 466.0L660.9 467.3L662.6 468.7L664.1 470.0L665.4 471.2L666.4 472.4L667.1 473.6L667.8 474.6L668.3 475.8L667.8 476.3L667.3 476.8L666.6 477.6L665.6 478.5L664.3 479.4L662.8 480.4L661.1 481.5L659.3 482.5L657.5 483.6L655.8 484.9L654.3 486.3L652.9 488.0L652.0 490.1L652.1 492.5L652.1 495.1L652.7 497.7L654.1 499.8L655.7 501.6L657.4 503.3L659.3 504.8L661.1 506.2L662.9 507.6L664.5 508.9L665.9 510.2L667.0 511.5L667.8 512.7L668.5 513.8L669.0 515.0L668.4 516.4L667.6 517.6L666.7 518.9L665.3 520.3L663.6 521.8L661.6 523.3L659.5 524.8L657.3 526.4L655.1 528.0L653.1 529.8L651.2 531.8L649.6 534.1L648.7 536.8L648.6 539.6L648.6 542.0L649.1 544.2L650.0 546.2L651.2 547.9L652.5 549.4L653.9 550.8L655.2 552.1L656.5 553.4L657.7 554.5L658.7 555.7L659.4 556.8L660.7 557.6L661.8 558.6L662.7 560.1L664.5 559.9L665.0 557.9L665.2 555.7L664.8 553.5L663.6 551.8L662.3 550.3L660.9 548.9L659.6 547.6L658.3 546.3L657.1 545.2L656.1 544.0L655.4 542.9L654.7 541.9L654.1 540.9L653.8 539.8L654.3 538.3L655.1 537.1L656.0 535.8L657.4 534.4L659.1 532.9L661.1 531.4L663.2 529.9L665.4 528.3L667.6 526.7L669.6 524.9L671.5 522.9L673.1 520.6L674.0 517.9L674.0 515.0L674.0 512.4L673.4 509.8L672.0 507.7L670.4 505.9L668.7 504.2L666.8 502.7L665.0 501.3L663.2 499.9L661.6 498.6L660.2 497.3L659.1 496.0L658.3 494.8L657.6 493.7L657.1 492.5L657.6 492.0L658.1 491.5L658.8 490.7L659.8 489.8L661.1 488.9L662.6 487.9L664.3 486.8L666.1 485.8L667.9 484.7L669.6 483.4L671.1 482.0L672.5 480.3L673.4 478.2L673.3 475.8L673.3 473.2L672.7 470.8L671.5 468.7L670.0 466.9L668.3 465.3L666.6 463.8L664.9 462.5L663.2 461.1L661.7 459.8L660.4 458.6L659.4 457.4L658.7 456.2L658.0 455.2L657.5 454.0L658.1 453.5L658.6 452.9L659.2 452.2L660.3 451.2L661.7 450.3L663.3 449.3L665.1 448.2L666.9 447.1L668.7 445.9L670.2 444.2L671.4 442.5L672.4 440.7L672.8 438.8L672.7 437.1Z" fill="#cc00b6" stroke="#cc00b6" stroke-width="0.5" stroke-linejoin="round"/><path d="M652.5 456.6L653.1 459.0L654.3 461.1L655.8 462.9L657.5 464.5L659.2 466.0L660.9 467.3L662.6 468.7L664.1 470.0L665.4 471.2L666.4 472.4L667.1 473.6L667.8 474.6L668.3 475.8L673.3 475.8L673.3 473.2L672.7 470.8L671.5 468.7L670.0 466.9L668.3 465.3L666.6 463.8L664.9 462.5L663.2 461.1L661.7 459.8L660.4 458.6L659.4 457.4L658.7 456.2L658.0 455.2Z" fill="#9c0a94" stroke="#9c0a94" stroke-width="0.5" stroke-linejoin="round"/><path d="M652.1 495.1L652.7 497.7L654.1 499.8L655.7 501.6L657.4 503.3L659.3 504.8L661.1 506.2L662.9 507.6L664.5 508.9L665.9 510.2L667.0 511.5L667.8 512.7L668.5 513.8L669.0 515.0L674.0 515.0L674.0 512.4L673.4 509.8L672.0 507.7L670.4 505.9L668.7 504.2L666.8 502.7L665.0 501.3L663.2 499.9L661.6 498.6L660.2 497.3L659.1 496.0L658.3 494.8L657.6 493.7Z" fill="#9c0a94" stroke="#9c0a94" stroke-width="0.5" stroke-linejoin="round"/><path d="M648.6 542.0L649.1 544.2L650.0 546.2L651.2 547.9L652.5 549.4L653.9 550.8L655.2 552.1L656.5 553.4L657.7 554.5L658.7 555.7L659.4 556.8L660.7 557.6L661.8 558.6L662.7 560.1L664.5 559.9L665.0 557.9L665.2 555.7L664.8 553.5L663.6 551.8L662.3 550.3L660.9 548.9L659.6 547.6L658.3 546.3L657.1 545.2L656.1 544.0L655.4 542.9L654.7 541.9L654.1 540.9Z" fill="#9c0a94" stroke="#9c0a94" stroke-width="0.5" stroke-linejoin="round"/><circle cx="549.1" cy="575.0" r="6.5" fill="none" stroke="#f03a12" stroke-width="2.8"/><path d="M544.50385 570.40385L553.69615 579.59615" stroke="#f03a12" stroke-width="2.8"/><circle cx="602.2" cy="558.8000000000001" r="6.5" fill="none" stroke="#f03a12" stroke-width="2.8"/><path d="M597.6038500000001 554.2038500000001L606.79615 563.39615" stroke="#f03a12" stroke-width="2.8"/><circle cx="616.9" cy="585.3000000000001" r="6.5" fill="none" stroke="#f03a12" stroke-width="2.8"/><path d="M612.30385 580.7038500000001L621.49615 589.89615" stroke="#f03a12" stroke-width="2.8"/><circle cx="663.6" cy="574.5" r="6.5" fill="none" stroke="#f03a12" stroke-width="2.8"/><path d="M659.00385 569.90385L668.19615 579.09615" stroke="#f03a12" stroke-width="2.8"/><g transform="translate(570.3 503.7)"><circle cx="12.6" cy="5.3" r="4.9" fill="#08752f"/><circle cx="9.3" cy="11.3" r="4.9" fill="#08752f"/><circle cx="2.7" cy="13.2" r="4.9" fill="#08752f"/><circle cx="-4.0" cy="14.1" r="4.9" fill="#08752f"/><circle cx="-9.8" cy="10.3" r="4.9" fill="#08752f"/><circle cx="-12.1" cy="4.3" r="4.9" fill="#08752f"/><circle cx="-13.3" cy="-2.3" r="4.9" fill="#08752f"/><circle cx="-8.7" cy="-7.5" r="4.9" fill="#08752f"/><circle cx="-2.8" cy="-10.4" r="4.9" fill="#08752f"/><circle cx="4.1" cy="-11.2" r="4.9" fill="#08752f"/><circle cx="9.2" cy="-6.6" r="4.9" fill="#08752f"/><circle cx="12.9" cy="-1.2" r="4.9" fill="#08752f"/><ellipse cx="0" cy="1.6" rx="13.1" ry="12.6" fill="#08752f"/><circle cx="12.6" cy="3.3" r="4.6" fill="#14a84a"/><circle cx="9.3" cy="9.3" r="4.6" fill="#14a84a"/><circle cx="2.7" cy="11.2" r="4.6" fill="#14a84a"/><circle cx="-4.0" cy="12.1" r="4.6" fill="#14a84a"/><circle cx="-9.8" cy="8.3" r="4.6" fill="#14a84a"/><circle cx="-12.1" cy="2.3" r="4.6" fill="#14a84a"/><circle cx="-13.3" cy="-4.3" r="4.6" fill="#14a84a"/><circle cx="-8.7" cy="-9.5" r="4.6" fill="#14a84a"/><circle cx="-2.8" cy="-12.4" r="4.6" fill="#14a84a"/><circle cx="4.1" cy="-13.2" r="4.6" fill="#14a84a"/><circle cx="9.2" cy="-8.6" r="4.6" fill="#14a84a"/><circle cx="12.9" cy="-3.2" r="4.6" fill="#14a84a"/><ellipse cx="0" cy="-0.4" rx="13.1" ry="12.6" fill="#14a84a"/><circle cx="11.7" cy="2.4" r="2.9" fill="#20b858" opacity="0.8"/><circle cx="8.5" cy="8.2" r="2.9" fill="#20b858" opacity="0.8"/><circle cx="2.2" cy="10.0" r="2.9" fill="#20b858" opacity="0.8"/><circle cx="-4.4" cy="10.9" r="2.9" fill="#20b858" opacity="0.8"/><circle cx="-10.0" cy="7.2" r="2.9" fill="#20b858" opacity="0.8"/><circle cx="-12.3" cy="1.4" r="2.9" fill="#20b858" opacity="0.8"/><circle cx="-13.4" cy="-5.0" r="2.9" fill="#20b858" opacity="0.8"/><circle cx="-9.0" cy="-10.0" r="2.9" fill="#20b858" opacity="0.8"/><circle cx="-3.3" cy="-12.8" r="2.9" fill="#20b858" opacity="0.8"/><circle cx="3.5" cy="-13.6" r="2.9" fill="#20b858" opacity="0.8"/><circle cx="8.4" cy="-9.1" r="2.9" fill="#20b858" opacity="0.8"/><circle cx="12.1" cy="-3.9" r="2.9" fill="#20b858" opacity="0.8"/><ellipse cx="-0.5" cy="-0.8" rx="13.0" ry="12.2" fill="url(#gCell)"/></g><g transform="translate(611.9 525)"><circle cx="12.6" cy="5.3" r="4.9" fill="#08752f"/><circle cx="9.3" cy="11.3" r="4.9" fill="#08752f"/><circle cx="2.7" cy="13.2" r="4.9" fill="#08752f"/><circle cx="-4.0" cy="14.1" r="4.9" fill="#08752f"/><circle cx="-9.8" cy="10.3" r="4.9" fill="#08752f"/><circle cx="-12.1" cy="4.3" r="4.9" fill="#08752f"/><circle cx="-13.3" cy="-2.3" r="4.9" fill="#08752f"/><circle cx="-8.7" cy="-7.5" r="4.9" fill="#08752f"/><circle cx="-2.8" cy="-10.4" r="4.9" fill="#08752f"/><circle cx="4.1" cy="-11.2" r="4.9" fill="#08752f"/><circle cx="9.2" cy="-6.6" r="4.9" fill="#08752f"/><circle cx="12.9" cy="-1.2" r="4.9" fill="#08752f"/><ellipse cx="0" cy="1.6" rx="13.1" ry="12.6" fill="#08752f"/><circle cx="12.6" cy="3.3" r="4.6" fill="#14a84a"/><circle cx="9.3" cy="9.3" r="4.6" fill="#14a84a"/><circle cx="2.7" cy="11.2" r="4.6" fill="#14a84a"/><circle cx="-4.0" cy="12.1" r="4.6" fill="#14a84a"/><circle cx="-9.8" cy="8.3" r="4.6" fill="#14a84a"/><circle cx="-12.1" cy="2.3" r="4.6" fill="#14a84a"/><circle cx="-13.3" cy="-4.3" r="4.6" fill="#14a84a"/><circle cx="-8.7" cy="-9.5" r="4.6" fill="#14a84a"/><circle cx="-2.8" cy="-12.4" r="4.6" fill="#14a84a"/><circle cx="4.1" cy="-13.2" r="4.6" fill="#14a84a"/><circle cx="9.2" cy="-8.6" r="4.6" fill="#14a84a"/><circle cx="12.9" cy="-3.2" r="4.6" fill="#14a84a"/><ellipse cx="0" cy="-0.4" rx="13.1" ry="12.6" fill="#14a84a"/><circle cx="11.7" cy="2.4" r="2.9" fill="#20b858" opacity="0.8"/><circle cx="8.5" cy="8.2" r="2.9" fill="#20b858" opacity="0.8"/><circle cx="2.2" cy="10.0" r="2.9" fill="#20b858" opacity="0.8"/><circle cx="-4.4" cy="10.9" r="2.9" fill="#20b858" opacity="0.8"/><circle cx="-10.0" cy="7.2" r="2.9" fill="#20b858" opacity="0.8"/><circle cx="-12.3" cy="1.4" r="2.9" fill="#20b858" opacity="0.8"/><circle cx="-13.4" cy="-5.0" r="2.9" fill="#20b858" opacity="0.8"/><circle cx="-9.0" cy="-10.0" r="2.9" fill="#20b858" opacity="0.8"/><circle cx="-3.3" cy="-12.8" r="2.9" fill="#20b858" opacity="0.8"/><circle cx="3.5" cy="-13.6" r="2.9" fill="#20b858" opacity="0.8"/><circle cx="8.4" cy="-9.1" r="2.9" fill="#20b858" opacity="0.8"/><circle cx="12.1" cy="-3.9" r="2.9" fill="#20b858" opacity="0.8"/><ellipse cx="-0.5" cy="-0.8" rx="13.0" ry="12.2" fill="url(#gCell)"/></g><g transform="translate(655.7 501.5)"><circle cx="12.6" cy="5.3" r="4.9" fill="#08752f"/><circle cx="9.3" cy="11.3" r="4.9" fill="#08752f"/><circle cx="2.7" cy="13.2" r="4.9" fill="#08752f"/><circle cx="-4.0" cy="14.1" r="4.9" fill="#08752f"/><circle cx="-9.8" cy="10.3" r="4.9" fill="#08752f"/><circle cx="-12.1" cy="4.3" r="4.9" fill="#08752f"/><circle cx="-13.3" cy="-2.3" r="4.9" fill="#08752f"/><circle cx="-8.7" cy="-7.5" r="4.9" fill="#08752f"/><circle cx="-2.8" cy="-10.4" r="4.9" fill="#08752f"/><circle cx="4.1" cy="-11.2" r="4.9" fill="#08752f"/><circle cx="9.2" cy="-6.6" r="4.9" fill="#08752f"/><circle cx="12.9" cy="-1.2" r="4.9" fill="#08752f"/><ellipse cx="0" cy="1.6" rx="13.1" ry="12.6" fill="#08752f"/><circle cx="12.6" cy="3.3" r="4.6" fill="#14a84a"/><circle cx="9.3" cy="9.3" r="4.6" fill="#14a84a"/><circle cx="2.7" cy="11.2" r="4.6" fill="#14a84a"/><circle cx="-4.0" cy="12.1" r="4.6" fill="#14a84a"/><circle cx="-9.8" cy="8.3" r="4.6" fill="#14a84a"/><circle cx="-12.1" cy="2.3" r="4.6" fill="#14a84a"/><circle cx="-13.3" cy="-4.3" r="4.6" fill="#14a84a"/><circle cx="-8.7" cy="-9.5" r="4.6" fill="#14a84a"/><circle cx="-2.8" cy="-12.4" r="4.6" fill="#14a84a"/><circle cx="4.1" cy="-13.2" r="4.6" fill="#14a84a"/><circle cx="9.2" cy="-8.6" r="4.6" fill="#14a84a"/><circle cx="12.9" cy="-3.2" r="4.6" fill="#14a84a"/><ellipse cx="0" cy="-0.4" rx="13.1" ry="12.6" fill="#14a84a"/><circle cx="11.7" cy="2.4" r="2.9" fill="#20b858" opacity="0.8"/><circle cx="8.5" cy="8.2" r="2.9" fill="#20b858" opacity="0.8"/><circle cx="2.2" cy="10.0" r="2.9" fill="#20b858" opacity="0.8"/><circle cx="-4.4" cy="10.9" r="2.9" fill="#20b858" opacity="0.8"/><circle cx="-10.0" cy="7.2" r="2.9" fill="#20b858" opacity="0.8"/><circle cx="-12.3" cy="1.4" r="2.9" fill="#20b858" opacity="0.8"/><circle cx="-13.4" cy="-5.0" r="2.9" fill="#20b858" opacity="0.8"/><circle cx="-9.0" cy="-10.0" r="2.9" fill="#20b858" opacity="0.8"/><circle cx="-3.3" cy="-12.8" r="2.9" fill="#20b858" opacity="0.8"/><circle cx="3.5" cy="-13.6" r="2.9" fill="#20b858" opacity="0.8"/><circle cx="8.4" cy="-9.1" r="2.9" fill="#20b858" opacity="0.8"/><circle cx="12.1" cy="-3.9" r="2.9" fill="#20b858" opacity="0.8"/><ellipse cx="-0.5" cy="-0.8" rx="13.0" ry="12.2" fill="url(#gCell)"/></g><path d="M555.0 494.8L554.8 496.9L555.1 499.3L556.0 501.5L557.3 503.7L559.0 505.5L560.9 507.0L562.8 508.4L564.7 509.8L566.5 511.1L567.9 512.4L569.1 513.6L570.3 514.6L571.8 515.5L572.8 517.1L574.6 516.9L575.1 514.6L575.1 512.0L574.0 509.7L572.3 507.9L570.4 506.2L568.5 504.7L566.6 503.3L564.7 501.9L562.9 500.6L561.3 499.5L559.6 498.6L558.3 497.5L557.1 496.3L556.4 494.6Z" fill="#cc00b6" stroke="#cc00b6" stroke-width="0.5" stroke-linejoin="round"/><path d="M555.0 494.8L554.8 496.9L555.1 499.3L556.0 501.5L557.3 503.7L559.0 505.5L560.9 507.0L562.8 508.4L564.7 509.8L566.5 511.1L567.9 512.4L569.1 513.6L570.3 514.6L571.8 515.5L572.8 517.1L574.6 516.9L575.1 514.6L575.1 512.0L574.0 509.7L572.3 507.9L570.4 506.2L568.5 504.7L566.6 503.3L564.7 501.9L562.9 500.6L561.3 499.5L559.6 498.6L558.3 497.5L557.1 496.3L556.4 494.6Z" fill="#9c0a94" stroke="#9c0a94" stroke-width="0.5" stroke-linejoin="round"/><path d="M653.9 492.6L653.7 494.7L653.9 497.0L654.7 499.3L655.9 501.4L657.4 503.3L659.3 504.8L661.1 506.2L662.9 507.6L664.5 508.9L665.9 510.2L667.0 511.5L668.2 512.5L669.6 513.5L670.6 515.1L672.4 514.9L672.9 512.6L673.0 510.1L672.0 507.7L670.4 505.9L668.7 504.2L666.8 502.7L665.0 501.3L663.2 499.9L661.6 498.6L660.0 497.5L658.5 496.5L657.1 495.4L656.0 494.2L655.3 492.4Z" fill="#cc00b6" stroke="#cc00b6" stroke-width="0.5" stroke-linejoin="round"/><path d="M653.9 492.6L653.7 494.7L653.9 497.0L654.7 499.3L655.9 501.4L657.4 503.3L659.3 504.8L661.1 506.2L662.9 507.6L664.5 508.9L665.9 510.2L667.0 511.5L668.2 512.5L669.6 513.5L670.6 515.1L672.4 514.9L672.9 512.6L673.0 510.1L672.0 507.7L670.4 505.9L668.7 504.2L666.8 502.7L665.0 501.3L663.2 499.9L661.6 498.6L660.0 497.5L658.5 496.5L657.1 495.4L656.0 494.2L655.3 492.4Z" fill="#9c0a94" stroke="#9c0a94" stroke-width="0.5" stroke-linejoin="round"/><path d="M593.3 505.1L593.1 506.9L593.4 509.0L594.2 510.9L595.3 512.7L596.6 514.5L598.3 515.9L600.0 517.1L601.7 518.2L603.2 519.3L604.4 520.4L605.4 521.5L606.7 522.0L607.9 522.8L608.8 524.1L610.6 523.9L611.0 521.9L611.0 519.7L610.3 517.4L608.7 515.8L607.1 514.4L605.4 513.1L603.7 511.9L602.0 510.8L600.5 509.7L598.9 509.0L597.5 508.2L596.3 507.3L595.3 506.3L594.7 504.9Z" fill="#cc00b6" stroke="#cc00b6" stroke-width="0.5" stroke-linejoin="round"/><path d="M593.3 505.1L593.1 506.9L593.4 509.0L594.2 510.9L595.3 512.7L596.6 514.5L598.3 515.9L600.0 517.1L601.7 518.2L603.2 519.3L604.4 520.4L605.4 521.5L606.7 522.0L607.9 522.8L608.8 524.1L610.6 523.9L611.0 521.9L611.0 519.7L610.3 517.4L608.7 515.8L607.1 514.4L605.4 513.1L603.7 511.9L602.0 510.8L600.5 509.7L598.9 509.0L597.5 508.2L596.3 507.3L595.3 506.3L594.7 504.9Z" fill="#9c0a94" stroke="#9c0a94" stroke-width="0.5" stroke-linejoin="round"/><circle cx="504.6" cy="506" r="0.8" fill="#e0202a"/>
</svg>
</body></html>
